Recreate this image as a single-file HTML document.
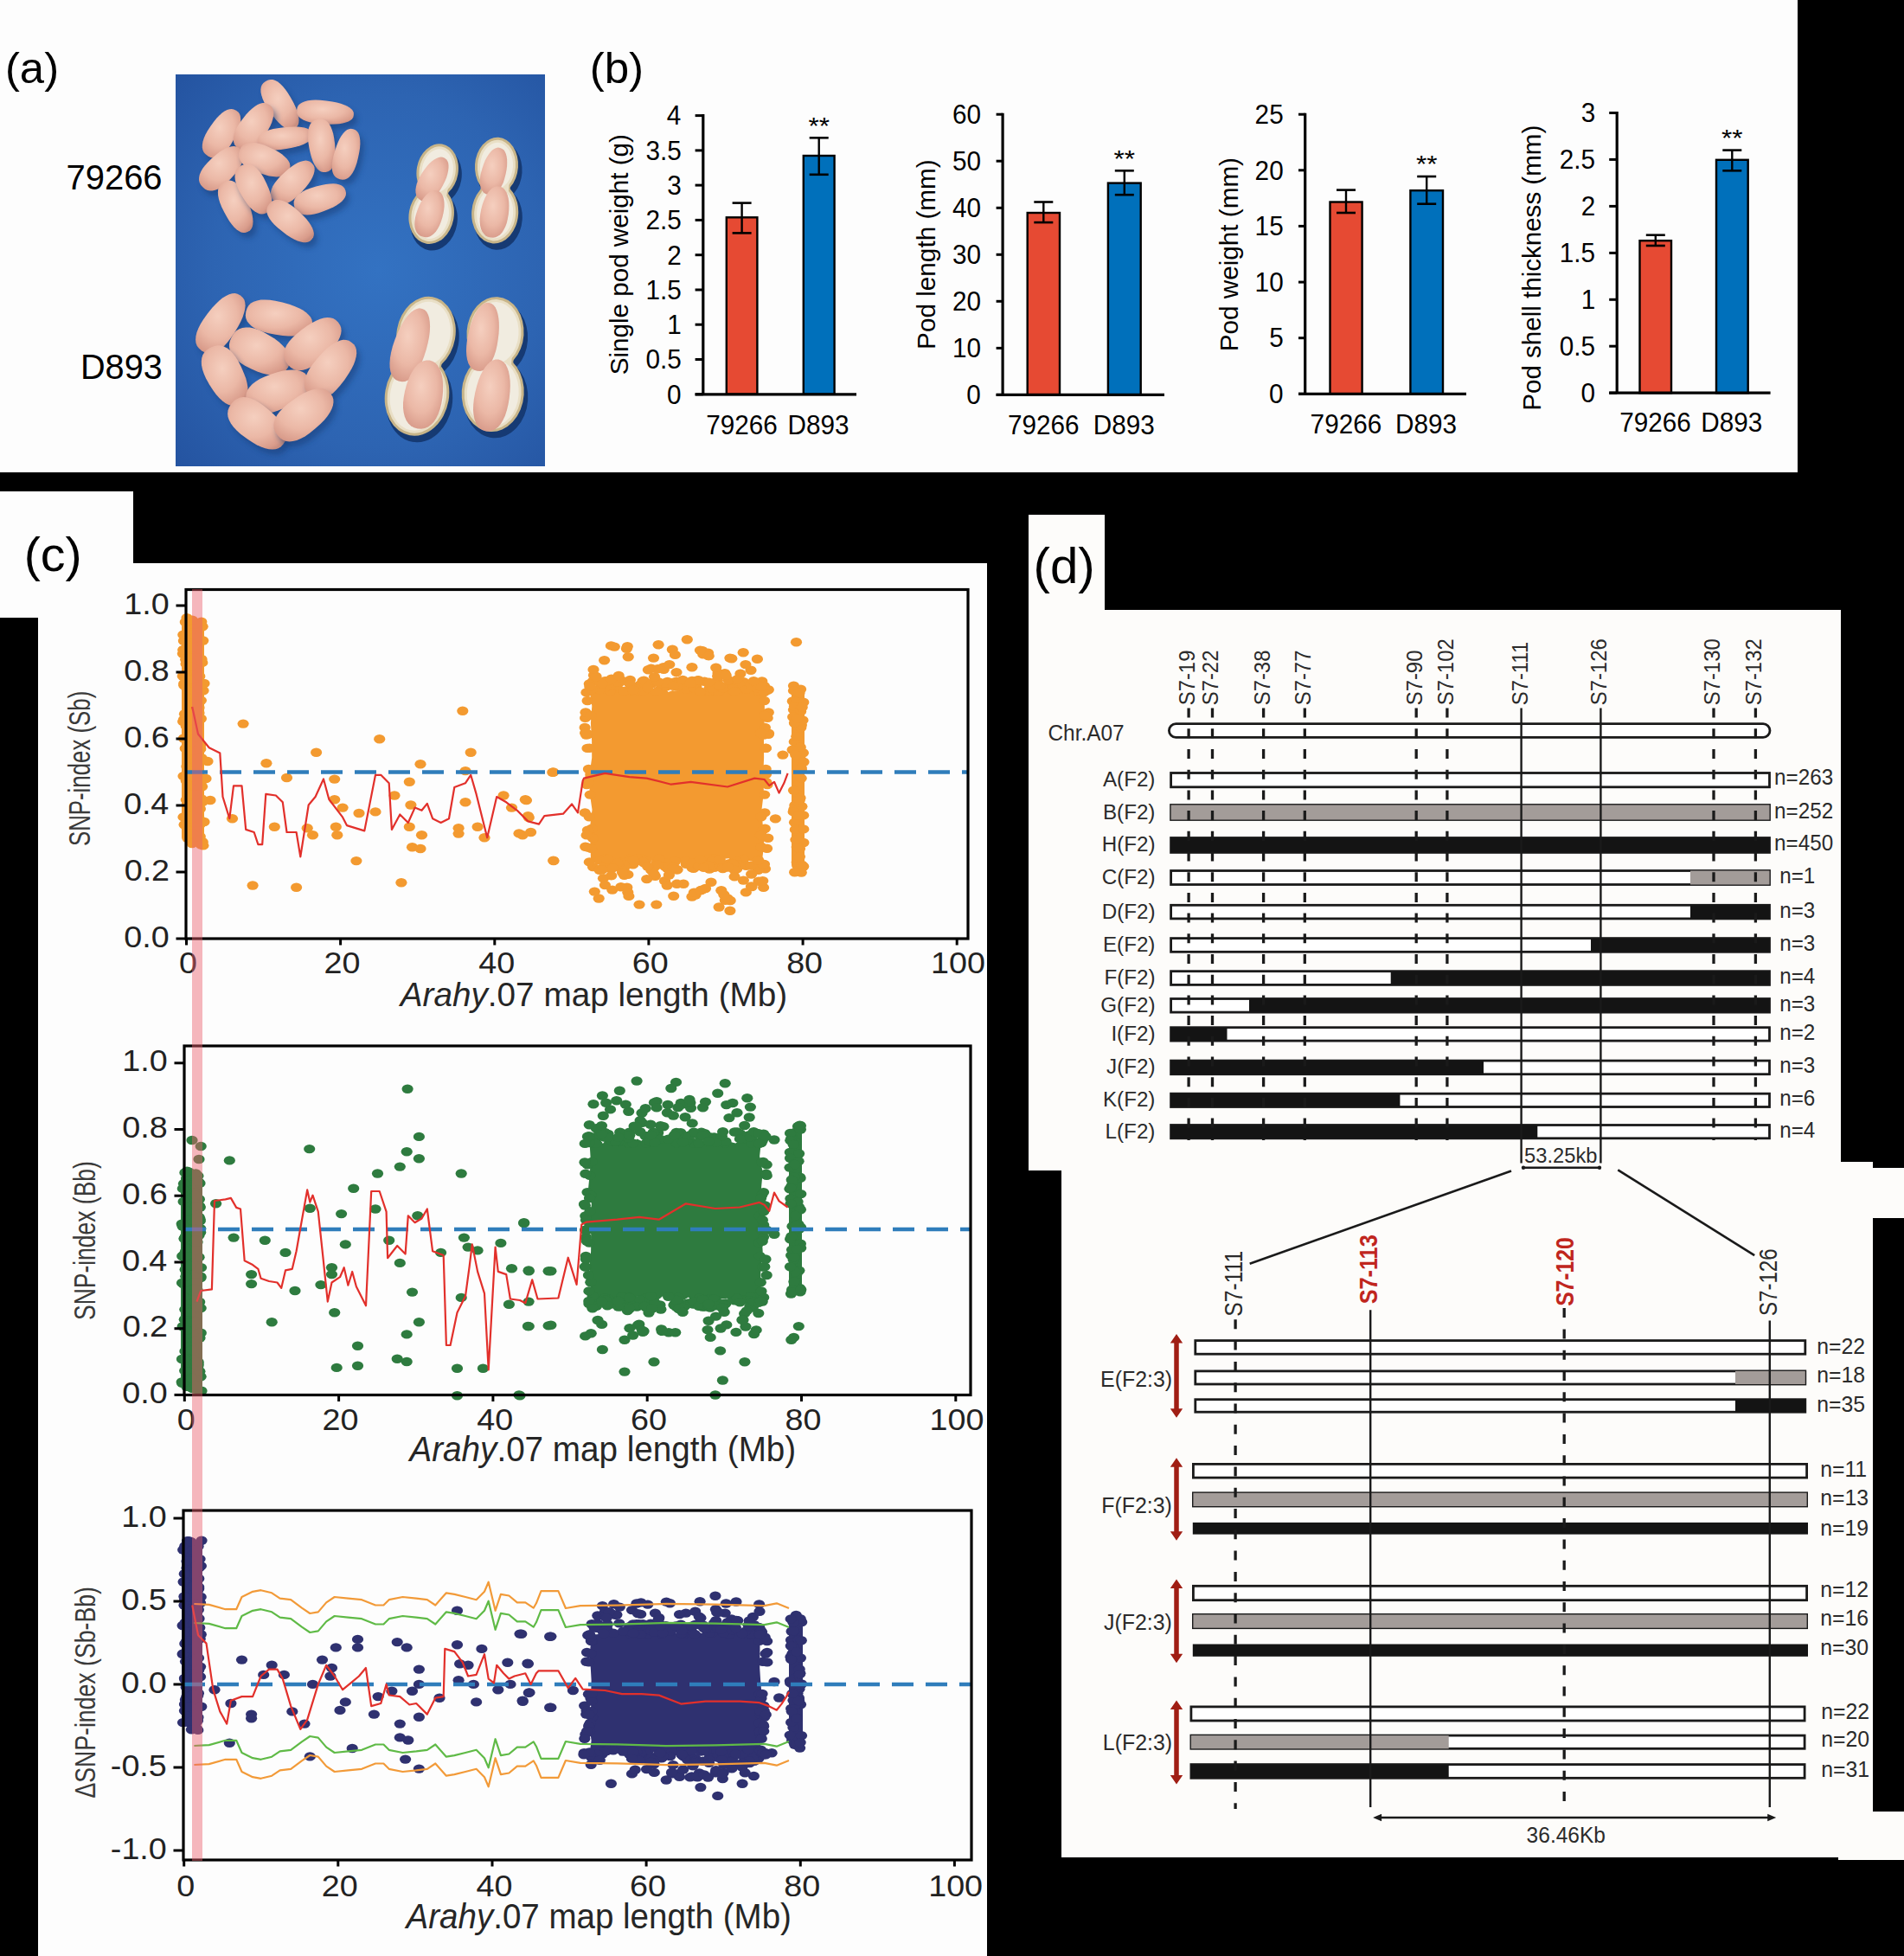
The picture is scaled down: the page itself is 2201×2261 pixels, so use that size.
<!DOCTYPE html>
<html><head><meta charset="utf-8"><style>
html,body{margin:0;padding:0;background:#000;}
svg{display:block;}
text{font-family:"Liberation Sans", sans-serif;}
</style></head><body><svg xmlns="http://www.w3.org/2000/svg" width="2201" height="2261" viewBox="0 0 2201 2261" font-family='"Liberation Sans", sans-serif'><rect x="0" y="0" width="2201" height="2261" fill="#000"/>
<rect x="0" y="0" width="2078" height="546" fill="#fdfdfd"/>
<rect x="0" y="568" width="154" height="146" fill="#fdfdfd"/>
<rect x="44" y="651" width="1097" height="1610" fill="#fdfdfd"/>
<rect x="1189" y="595" width="88" height="110" fill="#fdfcfa"/>
<rect x="1189" y="705" width="939" height="648" fill="#fdfcfa"/>
<rect x="1227" y="1343" width="938" height="804" fill="#fdfcfa"/>
<rect x="2128" y="1350" width="73" height="58" fill="#fdfcfa"/>
<rect x="2125" y="2094" width="76" height="56" fill="#fdfcfa"/>
<defs><radialGradient id="blueg" cx="0.55" cy="0.5" r="0.75"><stop offset="0" stop-color="#3372c2"/><stop offset="0.6" stop-color="#2d64b2"/><stop offset="1" stop-color="#2453a0"/></radialGradient><radialGradient id="kern" cx="0.45" cy="0.38" r="0.7"><stop offset="0" stop-color="#f5cfbf"/><stop offset="0.55" stop-color="#ebb8a6"/><stop offset="0.9" stop-color="#d99c8b"/><stop offset="1" stop-color="#c98e80"/></radialGradient><radialGradient id="shell" cx="0.5" cy="0.5" r="0.6"><stop offset="0" stop-color="#f1ebdc"/><stop offset="0.75" stop-color="#e6dbbf"/><stop offset="1" stop-color="#c9b88e"/></radialGradient><filter id="blur2" x="-20%" y="-20%" width="140%" height="140%"><feGaussianBlur stdDeviation="3"/></filter></defs>
<rect x="203" y="86" width="427" height="453" fill="url(#blueg)"/>
<path d="M345.0,154.1 342.4,155.4 340.0,155.7 337.5,155.3 334.8,154.3 332.0,152.7 329.1,150.5 326.1,147.7 322.9,144.3 319.7,140.3 315.7,134.7 312.0,129.0 309.5,124.4 307.6,120.2 306.3,116.3 305.5,112.8 305.4,109.5 305.8,106.6 306.8,104.1 308.4,101.9 311.0,99.9 314.0,98.4 316.7,97.9 319.4,98.1 322.2,99.0 325.1,100.6 327.9,102.8 330.9,105.7 333.8,109.2 336.8,113.5 340.3,119.3 343.6,125.3 345.8,130.1 347.5,134.4 348.7,138.3 349.4,141.9 349.6,145.1 349.3,148.0 348.5,150.4 347.2,152.4Z" fill="#163a73" opacity="0.5" filter="url(#blur2)"/>
<path d="M341.0,148.1 338.4,149.4 336.0,149.7 333.5,149.3 330.8,148.3 328.0,146.7 325.1,144.5 322.1,141.7 318.9,138.3 315.7,134.3 311.7,128.7 308.0,123.0 305.5,118.4 303.6,114.2 302.3,110.3 301.5,106.8 301.4,103.5 301.8,100.6 302.8,98.1 304.4,95.9 307.0,93.9 310.0,92.4 312.7,91.9 315.4,92.1 318.2,93.0 321.1,94.6 323.9,96.8 326.9,99.7 329.8,103.2 332.8,107.5 336.3,113.3 339.6,119.3 341.8,124.1 343.5,128.4 344.7,132.3 345.4,135.9 345.6,139.1 345.3,142.0 344.5,144.4 343.2,146.4Z" fill="url(#kern)"/>
<path d="M412.9,138.9 412.3,141.5 411.1,143.4 409.3,145.1 406.8,146.5 403.8,147.6 400.2,148.5 396.0,149.2 391.3,149.6 385.9,149.7 378.8,149.4 371.8,148.9 366.5,148.2 361.9,147.2 357.9,146.0 354.4,144.5 351.6,142.8 349.5,140.9 348.0,138.7 347.2,136.2 347.1,133.1 347.7,130.1 348.9,127.8 350.8,125.9 353.3,124.4 356.3,123.2 359.9,122.3 364.1,121.8 368.8,121.6 374.2,121.8 381.2,122.6 388.2,123.5 393.4,124.6 398.0,125.8 402.0,127.2 405.5,128.7 408.3,130.4 410.4,132.2 411.9,134.1 412.8,136.2Z" fill="#163a73" opacity="0.5" filter="url(#blur2)"/>
<path d="M408.9,132.9 408.3,135.5 407.1,137.4 405.3,139.1 402.8,140.5 399.8,141.6 396.2,142.5 392.0,143.2 387.3,143.6 381.9,143.7 374.8,143.4 367.8,142.9 362.5,142.2 357.9,141.2 353.9,140.0 350.4,138.5 347.6,136.8 345.5,134.9 344.0,132.7 343.2,130.2 343.1,127.1 343.7,124.1 344.9,121.8 346.8,119.9 349.3,118.4 352.3,117.2 355.9,116.3 360.1,115.8 364.8,115.6 370.2,115.8 377.2,116.6 384.2,117.5 389.4,118.6 394.0,119.8 398.0,121.2 401.5,122.7 404.3,124.4 406.4,126.2 407.9,128.1 408.8,130.2Z" fill="url(#kern)"/>
<path d="M277.0,133.7 279.4,135.6 280.9,137.6 281.8,140.1 282.2,142.9 282.2,146.1 281.6,149.6 280.6,153.5 279.0,157.8 276.9,162.4 273.7,168.2 270.3,173.9 267.4,178.0 264.5,181.4 261.6,184.1 258.7,186.2 255.8,187.7 253.0,188.4 250.2,188.5 247.4,187.9 244.2,186.3 241.3,184.1 239.5,181.9 238.4,179.3 237.8,176.4 237.9,173.2 238.5,169.6 239.7,165.8 241.4,161.8 243.9,157.3 247.5,151.8 251.3,146.4 254.5,142.5 257.7,139.2 260.7,136.6 263.6,134.5 266.5,133.0 269.2,132.2 271.8,131.9 274.3,132.4Z" fill="#163a73" opacity="0.5" filter="url(#blur2)"/>
<path d="M273.0,127.7 275.4,129.6 276.9,131.6 277.8,134.1 278.2,136.9 278.2,140.1 277.6,143.6 276.6,147.5 275.0,151.8 272.9,156.4 269.7,162.2 266.3,167.9 263.4,172.0 260.5,175.4 257.6,178.1 254.7,180.2 251.8,181.7 249.0,182.4 246.2,182.5 243.4,181.9 240.2,180.3 237.3,178.1 235.5,175.9 234.4,173.3 233.8,170.4 233.9,167.2 234.5,163.6 235.7,159.8 237.4,155.8 239.9,151.3 243.5,145.8 247.3,140.4 250.5,136.5 253.7,133.2 256.7,130.6 259.6,128.5 262.5,127.0 265.2,126.2 267.8,125.9 270.3,126.4Z" fill="url(#kern)"/>
<path d="M315.4,127.2 317.8,129.3 319.2,131.4 320.0,133.9 320.4,136.8 320.2,140.0 319.4,143.6 318.2,147.4 316.5,151.6 314.1,156.1 310.7,161.8 307.0,167.2 303.9,171.2 300.8,174.4 297.7,177.0 294.7,178.9 291.7,180.2 288.7,180.8 285.9,180.7 283.0,179.8 279.8,178.0 277.0,175.6 275.2,173.2 274.2,170.6 273.7,167.6 273.9,164.3 274.6,160.8 276.0,157.1 278.0,153.1 280.6,148.8 284.5,143.4 288.6,138.3 292.1,134.5 295.4,131.5 298.6,129.0 301.7,127.1 304.6,125.8 307.5,125.1 310.1,125.1 312.6,125.7Z" fill="#163a73" opacity="0.5" filter="url(#blur2)"/>
<path d="M311.4,121.2 313.8,123.3 315.2,125.4 316.0,127.9 316.4,130.8 316.2,134.0 315.4,137.6 314.2,141.4 312.5,145.6 310.1,150.1 306.7,155.8 303.0,161.2 299.9,165.2 296.8,168.4 293.7,171.0 290.7,172.9 287.7,174.2 284.7,174.8 281.9,174.7 279.0,173.8 275.8,172.0 273.0,169.6 271.2,167.2 270.2,164.6 269.7,161.6 269.9,158.3 270.6,154.8 272.0,151.1 274.0,147.1 276.6,142.8 280.5,137.4 284.6,132.3 288.1,128.5 291.4,125.5 294.6,123.0 297.7,121.1 300.6,119.8 303.5,119.1 306.1,119.1 308.6,119.7Z" fill="url(#kern)"/>
<path d="M365.1,161.2 365.1,163.7 364.4,165.7 363.0,167.6 361.0,169.4 358.4,171.1 355.1,172.7 351.3,174.2 346.9,175.5 341.8,176.8 335.1,178.1 328.4,179.1 323.2,179.6 318.6,179.7 314.6,179.5 311.0,178.9 308.0,177.9 305.6,176.6 303.7,175.0 302.4,173.0 301.7,170.2 301.6,167.3 302.3,165.0 303.7,162.9 305.6,160.9 308.3,159.2 311.5,157.7 315.3,156.3 319.8,155.1 324.9,154.2 331.7,153.3 338.5,152.7 343.7,152.5 348.3,152.6 352.4,153.0 355.9,153.6 358.9,154.6 361.3,155.7 363.2,157.1 364.4,158.9Z" fill="#163a73" opacity="0.5" filter="url(#blur2)"/>
<path d="M361.1,155.2 361.1,157.7 360.4,159.7 359.0,161.6 357.0,163.4 354.4,165.1 351.1,166.7 347.3,168.2 342.9,169.5 337.8,170.8 331.1,172.1 324.4,173.1 319.2,173.6 314.6,173.7 310.6,173.5 307.0,172.9 304.0,171.9 301.6,170.6 299.7,169.0 298.4,167.0 297.7,164.2 297.6,161.3 298.3,159.0 299.7,156.9 301.6,154.9 304.3,153.2 307.5,151.7 311.3,150.3 315.8,149.1 320.9,148.2 327.7,147.3 334.5,146.7 339.7,146.5 344.3,146.6 348.4,147.0 351.9,147.6 354.9,148.6 357.3,149.7 359.2,151.1 360.4,152.9Z" fill="url(#kern)"/>
<path d="M380.5,205.0 377.6,205.1 375.2,204.5 373.0,203.2 370.9,201.3 369.0,198.8 367.2,195.7 365.5,192.0 364.0,187.8 362.7,182.9 361.3,176.4 360.3,169.9 359.9,164.8 359.9,160.4 360.3,156.4 361.2,153.0 362.4,150.0 364.0,147.6 366.1,145.7 368.5,144.4 371.9,143.6 375.3,143.4 378.1,144.0 380.5,145.3 382.8,147.1 384.8,149.6 386.5,152.7 388.0,156.4 389.3,160.7 390.2,165.7 391.1,172.2 391.6,178.8 391.6,183.9 391.4,188.4 390.8,192.4 389.9,195.8 388.7,198.8 387.3,201.2 385.5,203.0 383.4,204.3Z" fill="#163a73" opacity="0.5" filter="url(#blur2)"/>
<path d="M376.5,199.0 373.6,199.1 371.2,198.5 369.0,197.2 366.9,195.3 365.0,192.8 363.2,189.7 361.5,186.0 360.0,181.8 358.7,176.9 357.3,170.4 356.3,163.9 355.9,158.8 355.9,154.4 356.3,150.4 357.2,147.0 358.4,144.0 360.0,141.6 362.1,139.7 364.5,138.4 367.9,137.6 371.3,137.4 374.1,138.0 376.5,139.3 378.8,141.1 380.8,143.6 382.5,146.7 384.0,150.4 385.3,154.7 386.2,159.7 387.1,166.2 387.6,172.8 387.6,177.9 387.4,182.4 386.8,186.4 385.9,189.8 384.7,192.8 383.3,195.2 381.5,197.0 379.4,198.3Z" fill="url(#kern)"/>
<path d="M412.4,155.2 414.9,156.2 416.7,157.7 418.1,159.6 419.2,162.1 419.9,165.0 420.3,168.5 420.4,172.3 420.1,176.7 419.4,181.5 418.1,187.8 416.6,194.0 415.0,198.7 413.4,202.6 411.5,206.0 409.5,208.8 407.4,211.0 405.1,212.5 402.6,213.5 400.0,213.7 396.8,213.2 393.8,212.0 391.7,210.5 390.0,208.5 388.8,206.0 388.0,203.0 387.7,199.6 387.8,195.8 388.3,191.5 389.3,186.7 391.1,180.6 393.1,174.5 394.9,169.9 396.8,166.0 398.8,162.7 400.9,159.9 403.0,157.7 405.2,156.1 407.4,155.2 409.6,154.8Z" fill="#163a73" opacity="0.5" filter="url(#blur2)"/>
<path d="M408.4,149.2 410.9,150.2 412.7,151.7 414.1,153.6 415.2,156.1 415.9,159.0 416.3,162.5 416.4,166.3 416.1,170.7 415.4,175.5 414.1,181.8 412.6,188.0 411.0,192.7 409.4,196.6 407.5,200.0 405.5,202.8 403.4,205.0 401.1,206.5 398.6,207.5 396.0,207.7 392.8,207.2 389.8,206.0 387.7,204.5 386.0,202.5 384.8,200.0 384.0,197.0 383.7,193.6 383.8,189.8 384.3,185.5 385.3,180.7 387.1,174.6 389.1,168.5 390.9,163.9 392.8,160.0 394.8,156.7 396.9,153.9 399.0,151.7 401.2,150.1 403.4,149.2 405.6,148.8Z" fill="url(#kern)"/>
<path d="M282.1,178.5 284.1,180.9 285.1,183.3 285.5,185.9 285.4,188.8 284.6,191.9 283.3,195.3 281.4,198.9 279.0,202.7 275.9,206.7 271.5,211.7 266.9,216.5 263.1,219.8 259.6,222.5 256.1,224.4 252.8,225.8 249.6,226.5 246.6,226.6 243.8,226.0 241.1,224.7 238.3,222.3 235.9,219.5 234.6,216.8 234.0,214.0 234.1,211.0 234.8,207.8 236.2,204.5 238.1,201.0 240.8,197.5 244.1,193.7 248.9,189.1 253.9,184.7 257.9,181.6 261.7,179.2 265.3,177.3 268.7,176.0 271.8,175.2 274.7,175.1 277.3,175.5 279.7,176.5Z" fill="#163a73" opacity="0.5" filter="url(#blur2)"/>
<path d="M278.1,172.5 280.1,174.9 281.1,177.3 281.5,179.9 281.4,182.8 280.6,185.9 279.3,189.3 277.4,192.9 275.0,196.7 271.9,200.7 267.5,205.7 262.9,210.5 259.1,213.8 255.6,216.5 252.1,218.4 248.8,219.8 245.6,220.5 242.6,220.6 239.8,220.0 237.1,218.7 234.3,216.3 231.9,213.5 230.6,210.8 230.0,208.0 230.1,205.0 230.8,201.8 232.2,198.5 234.1,195.0 236.8,191.5 240.1,187.7 244.9,183.1 249.9,178.7 253.9,175.6 257.7,173.2 261.3,171.3 264.7,170.0 267.8,169.2 270.7,169.1 273.3,169.5 275.7,170.5Z" fill="url(#kern)"/>
<path d="M338.5,202.8 337.1,205.6 335.3,207.5 333.0,208.9 330.3,209.8 327.1,210.3 323.5,210.5 319.5,210.1 315.0,209.4 310.1,208.1 303.8,206.0 297.6,203.7 293.1,201.5 289.2,199.2 286.1,196.8 283.5,194.3 281.6,191.6 280.4,188.9 279.8,186.1 280.0,183.1 281.1,179.6 282.7,176.3 284.7,174.1 287.0,172.4 289.8,171.3 293.0,170.7 296.6,170.7 300.6,171.2 304.9,172.2 309.7,173.8 315.8,176.4 321.8,179.2 326.2,181.8 329.9,184.3 333.0,186.9 335.6,189.5 337.5,192.0 338.8,194.6 339.4,197.2 339.4,199.8Z" fill="#163a73" opacity="0.5" filter="url(#blur2)"/>
<path d="M334.5,196.8 333.1,199.6 331.3,201.5 329.0,202.9 326.3,203.8 323.1,204.3 319.5,204.5 315.5,204.1 311.0,203.4 306.1,202.1 299.8,200.0 293.6,197.7 289.1,195.5 285.2,193.2 282.1,190.8 279.5,188.3 277.6,185.6 276.4,182.9 275.8,180.1 276.0,177.1 277.1,173.6 278.7,170.3 280.7,168.1 283.0,166.4 285.8,165.3 289.0,164.7 292.6,164.7 296.6,165.2 300.9,166.2 305.7,167.8 311.8,170.4 317.8,173.2 322.2,175.8 325.9,178.3 329.0,180.9 331.6,183.5 333.5,186.0 334.8,188.6 335.4,191.2 335.4,193.8Z" fill="url(#kern)"/>
<path d="M364.6,194.7 366.5,197.0 367.4,199.3 367.7,201.8 367.4,204.6 366.6,207.6 365.2,211.0 363.3,214.5 360.8,218.2 357.7,222.2 353.3,227.2 348.7,231.9 344.9,235.3 341.4,238.0 338.0,240.0 334.7,241.4 331.6,242.2 328.7,242.4 326.0,241.9 323.4,240.7 320.8,238.5 318.6,235.9 317.4,233.3 316.9,230.6 317.1,227.7 317.9,224.6 319.3,221.3 321.3,217.9 324.0,214.4 327.4,210.6 332.1,206.0 337.1,201.6 341.1,198.5 344.8,196.0 348.3,194.1 351.7,192.7 354.7,191.9 357.5,191.6 360.0,191.9 362.3,192.8Z" fill="#163a73" opacity="0.5" filter="url(#blur2)"/>
<path d="M360.6,188.7 362.5,191.0 363.4,193.3 363.7,195.8 363.4,198.6 362.6,201.6 361.2,205.0 359.3,208.5 356.8,212.2 353.7,216.2 349.3,221.2 344.7,225.9 340.9,229.3 337.4,232.0 334.0,234.0 330.7,235.4 327.6,236.2 324.7,236.4 322.0,235.9 319.4,234.7 316.8,232.5 314.6,229.9 313.4,227.3 312.9,224.6 313.1,221.7 313.9,218.6 315.3,215.3 317.3,211.9 320.0,208.4 323.4,204.6 328.1,200.0 333.1,195.6 337.1,192.5 340.8,190.0 344.3,188.1 347.7,186.7 350.7,185.9 353.5,185.6 356.0,185.9 358.3,186.8Z" fill="url(#kern)"/>
<path d="M290.3,274.0 287.5,274.9 285.1,275.0 282.6,274.4 280.0,273.1 277.4,271.2 274.7,268.7 272.0,265.5 269.2,261.8 266.5,257.3 263.2,251.3 260.2,245.2 258.3,240.4 256.9,236.0 256.1,232.0 255.9,228.3 256.1,225.0 257.0,222.2 258.3,219.8 260.3,217.8 263.3,216.0 266.5,214.8 269.3,214.6 272.1,215.1 274.8,216.3 277.5,218.2 280.1,220.8 282.7,224.0 285.1,227.8 287.6,232.4 290.4,238.7 292.9,245.0 294.5,250.0 295.6,254.5 296.3,258.6 296.5,262.3 296.3,265.5 295.6,268.3 294.5,270.6 292.9,272.5Z" fill="#163a73" opacity="0.5" filter="url(#blur2)"/>
<path d="M286.3,268.0 283.5,268.9 281.1,269.0 278.6,268.4 276.0,267.1 273.4,265.2 270.7,262.7 268.0,259.5 265.2,255.8 262.5,251.3 259.2,245.3 256.2,239.2 254.3,234.4 252.9,230.0 252.1,226.0 251.9,222.3 252.1,219.0 253.0,216.2 254.3,213.8 256.3,211.8 259.3,210.0 262.5,208.8 265.3,208.6 268.1,209.1 270.8,210.3 273.5,212.2 276.1,214.8 278.7,218.0 281.1,221.8 283.6,226.4 286.4,232.7 288.9,239.0 290.5,244.0 291.6,248.5 292.3,252.6 292.5,256.3 292.3,259.5 291.6,262.3 290.5,264.6 288.9,266.5Z" fill="url(#kern)"/>
<path d="M312.2,252.1 309.2,253.3 306.7,253.6 304.0,253.2 301.3,252.1 298.6,250.5 295.7,248.3 292.8,245.4 289.9,242.0 287.0,237.8 283.5,232.2 280.3,226.4 278.2,221.8 276.7,217.6 275.8,213.7 275.5,210.2 275.7,206.9 276.5,204.0 277.9,201.5 279.9,199.3 283.0,197.3 286.4,195.9 289.4,195.4 292.2,195.7 295.1,196.6 297.9,198.2 300.7,200.5 303.4,203.4 306.1,207.0 308.7,211.3 311.7,217.2 314.4,223.2 316.2,228.0 317.4,232.3 318.2,236.3 318.5,239.9 318.3,243.1 317.6,246.0 316.5,248.3 314.8,250.3Z" fill="#163a73" opacity="0.5" filter="url(#blur2)"/>
<path d="M308.2,246.1 305.2,247.3 302.7,247.6 300.0,247.2 297.3,246.1 294.6,244.5 291.7,242.3 288.8,239.4 285.9,236.0 283.0,231.8 279.5,226.2 276.3,220.4 274.2,215.8 272.7,211.6 271.8,207.7 271.5,204.2 271.7,200.9 272.5,198.0 273.9,195.5 275.9,193.3 279.0,191.3 282.4,189.9 285.4,189.4 288.2,189.7 291.1,190.6 293.9,192.2 296.7,194.5 299.4,197.4 302.1,201.0 304.7,205.3 307.7,211.2 310.4,217.2 312.2,222.0 313.4,226.3 314.2,230.3 314.5,233.9 314.3,237.1 313.6,240.0 312.5,242.3 310.8,244.3Z" fill="url(#kern)"/>
<path d="M403.4,226.2 404.0,229.1 403.8,231.6 402.9,233.9 401.4,236.3 399.3,238.7 396.5,241.0 393.2,243.3 389.3,245.5 384.7,247.6 378.5,250.1 372.3,252.2 367.4,253.5 363.0,254.3 359.1,254.5 355.5,254.3 352.4,253.6 349.7,252.4 347.5,250.8 345.8,248.6 344.4,245.4 343.7,242.0 343.7,239.2 344.5,236.6 346.0,234.1 348.1,231.6 350.9,229.4 354.2,227.3 358.2,225.3 363.0,223.5 369.3,221.5 375.7,219.9 380.7,218.9 385.1,218.4 389.1,218.3 392.7,218.6 395.8,219.2 398.5,220.2 400.6,221.7 402.2,223.5Z" fill="#163a73" opacity="0.5" filter="url(#blur2)"/>
<path d="M399.4,220.2 400.0,223.1 399.8,225.6 398.9,227.9 397.4,230.3 395.3,232.7 392.5,235.0 389.2,237.3 385.3,239.5 380.7,241.6 374.5,244.1 368.3,246.2 363.4,247.5 359.0,248.3 355.1,248.5 351.5,248.3 348.4,247.6 345.7,246.4 343.5,244.8 341.8,242.6 340.4,239.4 339.7,236.0 339.7,233.2 340.5,230.6 342.0,228.1 344.1,225.6 346.9,223.4 350.2,221.3 354.2,219.3 359.0,217.5 365.3,215.5 371.7,213.9 376.7,212.9 381.1,212.4 385.1,212.3 388.7,212.6 391.8,213.2 394.5,214.2 396.6,215.7 398.2,217.5Z" fill="url(#kern)"/>
<path d="M364.4,282.7 362.3,284.7 360.1,285.8 357.5,286.3 354.7,286.2 351.5,285.6 348.0,284.4 344.2,282.8 340.1,280.5 335.7,277.7 330.3,273.6 325.0,269.3 321.2,265.7 318.1,262.3 315.7,259.0 313.9,255.8 312.7,252.7 312.3,249.8 312.5,247.0 313.4,244.4 315.4,241.5 317.9,239.1 320.3,237.7 323.0,237.0 326.0,237.0 329.2,237.6 332.7,238.8 336.3,240.6 340.2,243.0 344.4,246.1 349.5,250.6 354.5,255.3 358.1,259.1 361.0,262.7 363.3,266.2 365.1,269.4 366.2,272.5 366.8,275.3 366.8,277.8 366.1,280.2Z" fill="#163a73" opacity="0.5" filter="url(#blur2)"/>
<path d="M360.4,276.7 358.3,278.7 356.1,279.8 353.5,280.3 350.7,280.2 347.5,279.6 344.0,278.4 340.2,276.8 336.1,274.5 331.7,271.7 326.3,267.6 321.0,263.3 317.2,259.7 314.1,256.3 311.7,253.0 309.9,249.8 308.7,246.7 308.3,243.8 308.5,241.0 309.4,238.4 311.4,235.5 313.9,233.1 316.3,231.7 319.0,231.0 322.0,231.0 325.2,231.6 328.7,232.8 332.3,234.6 336.2,237.0 340.4,240.1 345.5,244.6 350.5,249.3 354.1,253.1 357.0,256.7 359.3,260.2 361.1,263.4 362.2,266.5 362.8,269.3 362.8,271.8 362.1,274.2Z" fill="url(#kern)"/>
<path d="M281.9,347.6 284.7,350.0 286.4,352.6 287.3,355.7 287.6,359.3 287.2,363.2 286.2,367.6 284.6,372.4 282.4,377.6 279.4,383.3 275.1,390.4 270.4,397.3 266.5,402.3 262.6,406.4 258.8,409.6 255.1,412.1 251.4,413.7 247.8,414.6 244.3,414.5 240.9,413.6 237.1,411.4 233.8,408.6 231.7,405.7 230.5,402.5 230.1,398.8 230.4,394.8 231.4,390.4 233.2,385.7 235.7,380.7 239.1,375.3 243.9,368.6 249.1,362.1 253.4,357.4 257.5,353.5 261.5,350.3 265.3,347.9 268.9,346.2 272.3,345.2 275.6,345.1 278.6,345.7Z" fill="#163a73" opacity="0.5" filter="url(#blur2)"/>
<path d="M277.9,341.6 280.7,344.0 282.4,346.6 283.3,349.7 283.6,353.3 283.2,357.2 282.2,361.6 280.6,366.4 278.4,371.6 275.4,377.3 271.1,384.4 266.4,391.3 262.5,396.3 258.6,400.4 254.8,403.6 251.1,406.1 247.4,407.7 243.8,408.6 240.3,408.5 236.9,407.6 233.1,405.4 229.8,402.6 227.7,399.7 226.5,396.5 226.1,392.8 226.4,388.8 227.4,384.4 229.2,379.7 231.7,374.7 235.1,369.3 239.9,362.6 245.1,356.1 249.4,351.4 253.5,347.5 257.5,344.3 261.3,341.9 264.9,340.2 268.3,339.2 271.6,339.1 274.6,339.7Z" fill="url(#kern)"/>
<path d="M364.6,382.3 363.5,385.9 361.7,388.4 359.3,390.5 356.1,392.1 352.3,393.4 347.9,394.2 342.8,394.6 337.2,394.5 330.8,394.0 322.5,392.8 314.4,391.2 308.3,389.5 303.0,387.6 298.5,385.4 294.8,382.9 291.8,380.1 289.7,377.2 288.3,373.9 287.8,370.4 288.4,366.1 289.7,361.9 291.5,358.9 294.0,356.5 297.2,354.7 301.1,353.4 305.5,352.6 310.5,352.4 316.1,352.8 322.3,353.8 330.5,355.6 338.5,357.8 344.5,360.0 349.7,362.2 354.1,364.6 357.9,367.2 360.8,369.9 363.0,372.6 364.5,375.5 365.0,378.6Z" fill="#163a73" opacity="0.5" filter="url(#blur2)"/>
<path d="M360.6,376.3 359.5,379.9 357.7,382.4 355.3,384.5 352.1,386.1 348.3,387.4 343.9,388.2 338.8,388.6 333.2,388.5 326.8,388.0 318.5,386.8 310.4,385.2 304.3,383.5 299.0,381.6 294.5,379.4 290.8,376.9 287.8,374.1 285.7,371.2 284.3,367.9 283.8,364.4 284.4,360.1 285.7,355.9 287.5,352.9 290.0,350.5 293.2,348.7 297.1,347.4 301.5,346.6 306.5,346.4 312.1,346.8 318.3,347.8 326.5,349.6 334.5,351.8 340.5,354.0 345.7,356.2 350.1,358.6 353.9,361.2 356.8,363.9 359.0,366.6 360.5,369.5 361.0,372.6Z" fill="url(#kern)"/>
<path d="M337.2,430.2 334.8,433.8 332.2,436.2 329.2,437.9 325.7,439.0 321.7,439.5 317.3,439.4 312.4,438.7 307.2,437.4 301.4,435.4 294.2,432.2 287.1,428.7 282.0,425.5 277.8,422.2 274.4,418.8 271.8,415.2 270.0,411.6 269.1,407.8 269.0,404.0 269.8,400.1 271.8,395.4 274.5,391.1 277.3,388.3 280.6,386.2 284.2,384.9 288.2,384.4 292.6,384.5 297.4,385.4 302.4,387.1 307.9,389.5 314.8,393.4 321.5,397.6 326.4,401.3 330.4,404.9 333.7,408.5 336.2,412.1 338.1,415.7 339.1,419.2 339.4,422.7 338.9,426.2Z" fill="#163a73" opacity="0.5" filter="url(#blur2)"/>
<path d="M333.2,424.2 330.8,427.8 328.2,430.2 325.2,431.9 321.7,433.0 317.7,433.5 313.3,433.4 308.4,432.7 303.2,431.4 297.4,429.4 290.2,426.2 283.1,422.7 278.0,419.5 273.8,416.2 270.4,412.8 267.8,409.2 266.0,405.6 265.1,401.8 265.0,398.0 265.8,394.1 267.8,389.4 270.5,385.1 273.3,382.3 276.6,380.2 280.2,378.9 284.2,378.4 288.6,378.5 293.4,379.4 298.4,381.1 303.9,383.5 310.8,387.4 317.5,391.6 322.4,395.3 326.4,398.9 329.7,402.5 332.2,406.1 334.1,409.7 335.1,413.2 335.4,416.7 334.9,420.2Z" fill="url(#kern)"/>
<path d="M394.9,378.6 397.2,381.9 398.3,385.0 398.6,388.4 398.1,391.9 396.9,395.8 395.0,399.8 392.3,404.0 389.0,408.4 384.8,413.1 379.0,418.7 372.9,424.0 367.9,427.7 363.2,430.5 358.7,432.5 354.5,433.8 350.4,434.2 346.7,433.9 343.2,432.8 340.0,430.8 336.7,427.4 334.0,423.6 332.6,420.1 332.0,416.5 332.4,412.7 333.5,408.8 335.5,404.8 338.3,400.8 341.8,396.7 346.3,392.4 352.6,387.3 359.2,382.5 364.5,379.2 369.4,376.7 374.0,374.8 378.3,373.6 382.3,373.1 385.9,373.3 389.1,374.1 392.0,375.7Z" fill="#163a73" opacity="0.5" filter="url(#blur2)"/>
<path d="M390.9,372.6 393.2,375.9 394.3,379.0 394.6,382.4 394.1,385.9 392.9,389.8 391.0,393.8 388.3,398.0 385.0,402.4 380.8,407.1 375.0,412.7 368.9,418.0 363.9,421.7 359.2,424.5 354.7,426.5 350.5,427.8 346.4,428.2 342.7,427.9 339.2,426.8 336.0,424.8 332.7,421.4 330.0,417.6 328.6,414.1 328.0,410.5 328.4,406.7 329.5,402.8 331.5,398.8 334.3,394.8 337.8,390.7 342.3,386.4 348.6,381.3 355.2,376.5 360.5,373.2 365.4,370.7 370.0,368.8 374.3,367.6 378.3,367.1 381.9,367.3 385.1,368.1 388.0,369.7Z" fill="url(#kern)"/>
<path d="M281.9,473.2 278.1,474.8 274.7,475.3 271.4,474.9 267.9,473.8 264.5,471.9 260.9,469.3 257.4,466.0 253.8,461.9 250.2,457.1 246.0,450.4 242.1,443.5 239.7,438.0 238.0,432.9 237.0,428.2 236.8,423.9 237.2,419.9 238.4,416.3 240.3,413.2 243.0,410.4 247.1,407.8 251.6,405.9 255.3,405.2 259.0,405.3 262.6,406.4 266.2,408.2 269.7,410.8 273.0,414.3 276.3,418.5 279.5,423.6 283.0,430.6 286.2,437.9 288.3,443.6 289.6,448.8 290.4,453.6 290.6,458.0 290.2,462.0 289.2,465.4 287.6,468.4 285.3,470.9Z" fill="#163a73" opacity="0.5" filter="url(#blur2)"/>
<path d="M277.9,467.2 274.1,468.8 270.7,469.3 267.4,468.9 263.9,467.8 260.5,465.9 256.9,463.3 253.4,460.0 249.8,455.9 246.2,451.1 242.0,444.4 238.1,437.5 235.7,432.0 234.0,426.9 233.0,422.2 232.8,417.9 233.2,413.9 234.4,410.3 236.3,407.2 239.0,404.4 243.1,401.8 247.6,399.9 251.3,399.2 255.0,399.3 258.6,400.4 262.2,402.2 265.7,404.8 269.0,408.3 272.3,412.5 275.5,417.6 279.0,424.6 282.2,431.9 284.3,437.6 285.6,442.8 286.4,447.6 286.6,452.0 286.2,456.0 285.2,459.4 283.6,462.4 281.3,464.9Z" fill="url(#kern)"/>
<path d="M360.5,443.8 361.7,447.7 361.8,451.1 361.1,454.4 359.5,457.7 357.2,461.0 354.2,464.3 350.4,467.6 345.9,470.8 340.5,473.9 333.2,477.5 325.7,480.6 319.8,482.6 314.5,483.8 309.6,484.3 305.2,484.1 301.2,483.3 297.7,481.7 294.7,479.5 292.2,476.6 290.1,472.2 288.6,467.6 288.3,463.8 288.9,460.1 290.4,456.6 292.7,453.2 295.7,450.0 299.6,447.0 304.3,444.1 309.9,441.4 317.4,438.5 325.2,436.0 331.2,434.5 336.7,433.7 341.7,433.4 346.2,433.6 350.1,434.4 353.5,435.7 356.4,437.6 358.6,440.1Z" fill="#163a73" opacity="0.5" filter="url(#blur2)"/>
<path d="M356.5,437.8 357.7,441.7 357.8,445.1 357.1,448.4 355.5,451.7 353.2,455.0 350.2,458.3 346.4,461.6 341.9,464.8 336.5,467.9 329.2,471.5 321.7,474.6 315.8,476.6 310.5,477.8 305.6,478.3 301.2,478.1 297.2,477.3 293.7,475.7 290.7,473.5 288.2,470.6 286.1,466.2 284.6,461.6 284.3,457.8 284.9,454.1 286.4,450.6 288.7,447.2 291.7,444.0 295.6,441.0 300.3,438.1 305.9,435.4 313.4,432.5 321.2,430.0 327.2,428.5 332.7,427.7 337.7,427.4 342.2,427.6 346.1,428.4 349.5,429.7 352.4,431.6 354.6,434.1Z" fill="url(#kern)"/>
<path d="M410.6,401.9 413.5,404.6 415.1,407.4 416.0,410.6 416.2,414.2 415.7,418.2 414.6,422.7 412.8,427.4 410.3,432.5 407.0,438.0 402.4,444.9 397.3,451.5 393.1,456.3 389.1,460.2 385.1,463.2 381.1,465.4 377.3,466.8 373.5,467.4 370.0,467.1 366.5,465.8 362.6,463.3 359.2,460.2 357.2,457.1 356.0,453.7 355.7,449.9 356.1,445.8 357.3,441.5 359.3,436.9 362.0,432.0 365.6,426.8 370.8,420.3 376.4,414.1 381.0,409.6 385.3,406.0 389.5,403.1 393.5,400.9 397.3,399.5 400.8,398.8 404.2,398.9 407.3,399.8Z" fill="#163a73" opacity="0.5" filter="url(#blur2)"/>
<path d="M406.6,395.9 409.5,398.6 411.1,401.4 412.0,404.6 412.2,408.2 411.7,412.2 410.6,416.7 408.8,421.4 406.3,426.5 403.0,432.0 398.4,438.9 393.3,445.5 389.1,450.3 385.1,454.2 381.1,457.2 377.1,459.4 373.3,460.8 369.5,461.4 366.0,461.1 362.5,459.8 358.6,457.3 355.2,454.2 353.2,451.1 352.0,447.7 351.7,443.9 352.1,439.8 353.3,435.5 355.3,430.9 358.0,426.0 361.6,420.8 366.8,414.3 372.4,408.1 377.0,403.6 381.3,400.0 385.5,397.1 389.5,394.9 393.3,393.5 396.8,392.8 400.2,392.9 403.3,393.8Z" fill="url(#kern)"/>
<path d="M331.4,519.4 328.6,522.4 325.7,524.2 322.5,525.2 318.9,525.5 314.8,525.2 310.5,524.2 305.7,522.5 300.7,520.2 295.3,517.1 288.6,512.5 282.1,507.7 277.5,503.6 273.8,499.5 270.9,495.6 268.8,491.6 267.5,487.7 267.1,483.9 267.6,480.3 268.9,476.7 271.6,472.6 274.8,469.0 278.0,466.9 281.5,465.6 285.3,465.1 289.3,465.3 293.7,466.4 298.2,468.2 303.0,470.9 308.1,474.4 314.4,479.5 320.5,484.9 324.8,489.4 328.3,493.7 331.0,497.9 333.0,501.9 334.3,505.7 334.9,509.3 334.7,512.7 333.7,515.9Z" fill="#163a73" opacity="0.5" filter="url(#blur2)"/>
<path d="M327.4,513.4 324.6,516.4 321.7,518.2 318.5,519.2 314.9,519.5 310.8,519.2 306.5,518.2 301.7,516.5 296.7,514.2 291.3,511.1 284.6,506.5 278.1,501.7 273.5,497.6 269.8,493.5 266.9,489.6 264.8,485.6 263.5,481.7 263.1,477.9 263.6,474.3 264.9,470.7 267.6,466.6 270.8,463.0 274.0,460.9 277.5,459.6 281.3,459.1 285.3,459.3 289.7,460.4 294.2,462.2 299.0,464.9 304.1,468.4 310.4,473.5 316.5,478.9 320.8,483.4 324.3,487.7 327.0,491.9 329.0,495.9 330.3,499.7 330.9,503.3 330.7,506.7 329.7,509.9Z" fill="url(#kern)"/>
<path d="M386.1,461.0 388.4,464.5 389.4,467.7 389.5,471.1 388.9,474.8 387.5,478.7 385.4,482.7 382.6,487.0 379.0,491.4 374.5,496.0 368.3,501.5 361.9,506.8 356.6,510.4 351.7,513.1 347.1,515.0 342.6,516.1 338.5,516.5 334.7,516.0 331.2,514.7 328.0,512.6 324.7,509.0 322.0,505.0 320.7,501.3 320.3,497.6 320.8,493.8 322.1,489.8 324.3,485.8 327.3,481.8 331.1,477.7 335.8,473.5 342.5,468.5 349.4,463.8 354.9,460.6 360.1,458.2 364.9,456.4 369.3,455.4 373.4,455.0 377.1,455.2 380.4,456.2 383.3,458.0Z" fill="#163a73" opacity="0.5" filter="url(#blur2)"/>
<path d="M382.1,455.0 384.4,458.5 385.4,461.7 385.5,465.1 384.9,468.8 383.5,472.7 381.4,476.7 378.6,481.0 375.0,485.4 370.5,490.0 364.3,495.5 357.9,500.8 352.6,504.4 347.7,507.1 343.1,509.0 338.6,510.1 334.5,510.5 330.7,510.0 327.2,508.7 324.0,506.6 320.7,503.0 318.0,499.0 316.7,495.3 316.3,491.6 316.8,487.8 318.1,483.8 320.3,479.8 323.3,475.8 327.1,471.7 331.8,467.5 338.5,462.5 345.4,457.8 350.9,454.6 356.1,452.2 360.9,450.4 365.3,449.4 369.4,449.0 373.1,449.2 376.4,450.2 379.3,452.0Z" fill="url(#kern)"/>
<g transform="rotate(10 501 224)"><ellipse cx="505.0" cy="203.1" rx="25.0" ry="32.4" fill="#163a73" /><ellipse cx="507.0" cy="254.6" rx="27.0" ry="34.6" fill="#163a73" /></g>
<g transform="rotate(10 501 224)"><ellipse cx="501.0" cy="197.1" rx="24.0" ry="31.4" fill="#c8b589" /><ellipse cx="503.0" cy="248.6" rx="26.0" ry="33.6" fill="#c8b589" /><rect x="485.2" y="207.2" width="32.6" height="33.6" fill="#c8b589"/><ellipse cx="501.0" cy="197.1" rx="21.0" ry="28.4" fill="#e9dfc6" /><ellipse cx="503.0" cy="248.6" rx="23.0" ry="30.6" fill="#e9dfc6" /><rect x="486.6" y="207.2" width="29.8" height="33.6" fill="#e9dfc6"/><ellipse cx="501.0" cy="197.1" rx="18.0" ry="25.4" fill="#f1ece0" /><ellipse cx="503.0" cy="248.6" rx="20.0" ry="27.6" fill="#f1ece0" /></g>
<path d="M514.0,182.8 515.9,184.2 517.2,186.1 518.1,188.3 518.5,191.0 518.5,194.1 518.1,197.5 517.3,201.2 516.1,205.2 514.4,209.3 512.1,214.0 509.6,218.5 507.1,222.2 504.5,225.4 501.9,228.0 499.1,230.1 496.4,231.6 493.7,232.5 491.1,232.8 488.6,232.4 486.0,231.2 483.7,229.6 482.1,227.6 481.1,225.2 480.5,222.4 480.4,219.3 480.9,215.9 481.8,212.3 483.3,208.5 485.2,204.5 487.9,200.0 490.8,195.7 493.5,192.2 496.3,189.1 499.1,186.6 501.9,184.5 504.6,183.0 507.1,182.0 509.5,181.6 511.8,181.8Z" fill="url(#kern)"/>
<path d="M505.7,220.4 508.0,221.5 509.8,223.0 511.2,225.1 512.4,227.7 513.1,230.8 513.5,234.2 513.6,238.0 513.2,242.2 512.5,246.6 511.3,251.6 509.7,256.6 508.0,260.7 506.1,264.3 504.0,267.4 501.7,270.0 499.2,272.0 496.7,273.4 494.0,274.2 491.3,274.3 488.3,273.6 485.6,272.4 483.5,270.7 481.7,268.6 480.5,265.9 479.7,262.9 479.3,259.4 479.4,255.7 480.0,251.6 481.1,247.3 482.7,242.4 484.7,237.6 486.7,233.5 488.9,230.0 491.2,226.9 493.5,224.4 495.9,222.4 498.3,220.9 500.7,220.1 503.1,219.9Z" fill="url(#kern)"/>
<g transform="rotate(4 572 220)"><ellipse cx="576.0" cy="197.7" rx="26.0" ry="34.0" fill="#163a73" /><ellipse cx="578.0" cy="252.0" rx="28.0" ry="36.4" fill="#163a73" /></g>
<g transform="rotate(4 572 220)"><ellipse cx="572.0" cy="191.7" rx="25.0" ry="33.0" fill="#c8b589" /><ellipse cx="574.0" cy="246.0" rx="27.0" ry="35.4" fill="#c8b589" /><rect x="555.5" y="202.3" width="34.0" height="35.4" fill="#c8b589"/><ellipse cx="572.0" cy="191.7" rx="22.0" ry="30.0" fill="#e9dfc6" /><ellipse cx="574.0" cy="246.0" rx="24.0" ry="32.4" fill="#e9dfc6" /><rect x="557.0" y="202.3" width="31.0" height="35.4" fill="#e9dfc6"/><ellipse cx="572.0" cy="191.7" rx="19.0" ry="27.0" fill="#f1ece0" /><ellipse cx="574.0" cy="246.0" rx="21.0" ry="29.4" fill="#f1ece0" /></g>
<path d="M578.2,171.0 580.5,171.9 582.2,173.3 583.6,175.3 584.8,177.8 585.6,180.8 586.1,184.2 586.2,187.9 586.1,192.1 585.5,196.5 584.5,201.6 583.2,206.6 581.8,210.9 580.1,214.6 578.2,217.8 576.2,220.5 573.9,222.7 571.5,224.2 569.1,225.2 566.5,225.5 563.8,225.0 561.1,224.0 559.1,222.5 557.4,220.5 556.1,217.9 555.3,214.9 554.8,211.5 554.8,207.8 555.2,203.7 556.1,199.4 557.5,194.4 559.2,189.5 560.9,185.3 562.8,181.7 564.9,178.5 567.0,175.8 569.2,173.6 571.4,172.0 573.6,171.0 575.9,170.6Z" fill="url(#kern)"/>
<path d="M577.2,215.5 579.8,216.3 582.0,217.7 583.8,219.7 585.4,222.2 586.6,225.3 587.6,229.0 588.2,233.0 588.4,237.4 588.3,242.2 587.8,247.8 586.8,253.3 585.7,257.9 584.2,262.0 582.4,265.6 580.4,268.7 578.1,271.2 575.5,273.1 572.9,274.3 570.0,274.8 566.8,274.5 563.7,273.7 561.2,272.2 559.1,270.1 557.3,267.5 556.0,264.4 555.1,260.8 554.7,256.8 554.7,252.4 555.2,247.7 556.2,242.2 557.6,236.8 559.2,232.3 560.9,228.2 562.9,224.6 565.0,221.5 567.2,219.0 569.6,217.1 572.0,215.9 574.5,215.3Z" fill="url(#kern)"/>
<g transform="rotate(10 486 423)"><ellipse cx="490.0" cy="391.6" rx="35.0" ry="44.7" fill="#163a73" /><ellipse cx="492.0" cy="463.3" rx="38.0" ry="47.8" fill="#163a73" /></g>
<g transform="rotate(10 486 423)"><ellipse cx="486.0" cy="385.6" rx="34.0" ry="43.7" fill="#c8b589" /><ellipse cx="488.0" cy="457.3" rx="37.0" ry="46.8" fill="#c8b589" /><rect x="463.6" y="399.6" width="46.2" height="46.8" fill="#c8b589"/><ellipse cx="486.0" cy="385.6" rx="31.0" ry="40.7" fill="#e9dfc6" /><ellipse cx="488.0" cy="457.3" rx="34.0" ry="43.8" fill="#e9dfc6" /><rect x="465.6" y="399.6" width="42.2" height="46.8" fill="#e9dfc6"/><ellipse cx="486.0" cy="385.6" rx="28.0" ry="37.7" fill="#f1ece0" /><ellipse cx="488.0" cy="457.3" rx="31.0" ry="40.8" fill="#f1ece0" /></g>
<path d="M488.1,356.9 491.0,358.3 493.2,360.6 494.9,363.7 496.1,367.6 496.8,372.2 497.1,377.5 496.8,383.4 496.0,389.8 494.6,396.7 492.6,404.6 490.1,412.3 487.6,418.9 484.8,424.6 481.8,429.6 478.5,433.8 475.2,437.1 471.7,439.4 468.2,440.9 464.7,441.3 460.9,440.5 457.4,438.9 454.8,436.5 452.8,433.3 451.4,429.4 450.6,424.7 450.5,419.4 451.0,413.6 452.1,407.3 453.8,400.6 456.4,392.8 459.4,385.2 462.4,378.9 465.5,373.2 468.7,368.3 472.0,364.1 475.3,360.8 478.6,358.4 481.8,356.9 484.9,356.3Z" fill="url(#kern)"/>
<path d="M496.6,416.6 500.3,417.7 503.2,419.6 505.8,422.3 507.9,425.7 509.7,429.9 511.0,434.7 511.8,440.1 512.2,446.0 512.1,452.4 511.4,459.8 510.2,467.1 508.6,473.3 506.6,478.8 504.2,483.6 501.4,487.7 498.2,491.0 494.8,493.5 491.1,495.0 487.2,495.7 482.8,495.4 478.5,494.2 475.0,492.2 472.1,489.5 469.7,486.0 467.9,481.8 466.7,477.0 466.0,471.6 466.0,465.8 466.7,459.5 468.0,452.2 469.9,445.0 472.0,438.9 474.3,433.5 477.0,428.7 479.9,424.6 482.9,421.3 486.1,418.8 489.5,417.2 492.9,416.4Z" fill="url(#kern)"/>
<g transform="rotate(4 570 421)"><ellipse cx="574.0" cy="391.0" rx="34.0" ry="43.0" fill="#163a73" /><ellipse cx="576.0" cy="460.0" rx="37.0" ry="46.0" fill="#163a73" /></g>
<g transform="rotate(4 570 421)"><ellipse cx="570.0" cy="385.0" rx="33.0" ry="42.0" fill="#c8b589" /><ellipse cx="572.0" cy="454.0" rx="36.0" ry="45.0" fill="#c8b589" /><rect x="548.2" y="398.5" width="44.9" height="45.0" fill="#c8b589"/><ellipse cx="570.0" cy="385.0" rx="30.0" ry="39.0" fill="#e9dfc6" /><ellipse cx="572.0" cy="454.0" rx="33.0" ry="42.0" fill="#e9dfc6" /><rect x="550.2" y="398.5" width="40.9" height="45.0" fill="#e9dfc6"/><ellipse cx="570.0" cy="385.0" rx="27.0" ry="36.0" fill="#f1ece0" /><ellipse cx="572.0" cy="454.0" rx="30.0" ry="39.0" fill="#f1ece0" /></g>
<path d="M565.4,350.0 568.3,351.0 570.6,352.7 572.6,355.3 574.2,358.7 575.4,362.7 576.3,367.5 576.8,372.8 576.9,378.7 576.6,385.1 575.7,392.4 574.5,399.7 573.0,405.9 571.2,411.5 569.1,416.3 566.7,420.5 564.1,423.9 561.3,426.5 558.2,428.2 555.1,429.0 551.6,428.8 548.2,427.7 545.5,425.9 543.2,423.3 541.4,419.9 540.1,415.8 539.3,411.1 539.0,405.8 539.2,400.0 539.9,393.6 541.3,386.4 543.0,379.1 544.9,373.0 547.0,367.6 549.3,362.7 551.7,358.6 554.3,355.2 557.0,352.6 559.7,350.8 562.4,349.9Z" fill="url(#kern)"/>
<path d="M576.3,415.6 579.6,416.7 582.2,418.6 584.5,421.3 586.4,424.9 587.9,429.2 588.9,434.2 589.6,439.8 589.8,446.0 589.5,452.7 588.7,460.5 587.4,468.1 585.8,474.6 583.9,480.4 581.5,485.5 578.9,489.9 575.9,493.4 572.7,496.1 569.3,497.8 565.7,498.6 561.7,498.4 557.9,497.2 554.7,495.2 552.1,492.4 550.0,488.8 548.5,484.5 547.5,479.5 547.0,473.9 547.2,467.8 547.9,461.2 549.3,453.5 551.2,446.0 553.2,439.6 555.5,433.8 558.1,428.8 560.8,424.4 563.7,420.9 566.7,418.2 569.7,416.4 572.9,415.5Z" fill="url(#kern)"/>
<text x="0" y="0" font-size="100" font-weight="normal" font-style="normal" fill="#000" transform="translate(5.95 96.44) scale(0.50818 0.49787)" >(a)</text>
<text x="0" y="0" font-size="100" font-weight="normal" font-style="normal" fill="#000" transform="translate(681.63 96.47) scale(0.51091 0.49681)" >(b)</text>
<text x="0" y="0" font-size="100" font-weight="normal" font-style="normal" fill="#000" transform="translate(76.50 218.79) scale(0.39963 0.40845)" >79266</text>
<text x="0" y="0" font-size="100" font-weight="normal" font-style="normal" fill="#000" transform="translate(92.92 438.40) scale(0.39692 0.40000)" >D893</text>
<line x1="803.6" y1="455.8" x2="812.8" y2="455.8" stroke="#000" stroke-width="3"/>
<text x="0" y="0" font-size="100" font-weight="normal" font-style="normal" fill="#000" transform="translate(771.06 466.50) scale(0.29700 0.31000)" >0</text>
<line x1="803.6" y1="415.5" x2="812.8" y2="415.5" stroke="#000" stroke-width="3"/>
<text x="0" y="0" font-size="100" font-weight="normal" font-style="normal" fill="#000" transform="translate(746.40 426.22) scale(0.29700 0.31000)" >0.5</text>
<line x1="803.6" y1="375.2" x2="812.8" y2="375.2" stroke="#000" stroke-width="3"/>
<text x="0" y="0" font-size="100" font-weight="normal" font-style="normal" fill="#000" transform="translate(771.35 385.94) scale(0.29700 0.31000)" >1</text>
<line x1="803.6" y1="335.0" x2="812.8" y2="335.0" stroke="#000" stroke-width="3"/>
<text x="0" y="0" font-size="100" font-weight="normal" font-style="normal" fill="#000" transform="translate(746.40 345.52) scale(0.29700 0.31000)" >1.5</text>
<line x1="803.6" y1="294.7" x2="812.8" y2="294.7" stroke="#000" stroke-width="3"/>
<text x="0" y="0" font-size="100" font-weight="normal" font-style="normal" fill="#000" transform="translate(771.35 305.55) scale(0.29700 0.31000)" >2</text>
<line x1="803.6" y1="254.4" x2="812.8" y2="254.4" stroke="#000" stroke-width="3"/>
<text x="0" y="0" font-size="100" font-weight="normal" font-style="normal" fill="#000" transform="translate(746.40 265.12) scale(0.29700 0.31000)" >2.5</text>
<line x1="803.6" y1="214.1" x2="812.8" y2="214.1" stroke="#000" stroke-width="3"/>
<text x="0" y="0" font-size="100" font-weight="normal" font-style="normal" fill="#000" transform="translate(771.35 224.84) scale(0.29700 0.31000)" >3</text>
<line x1="803.6" y1="173.9" x2="812.8" y2="173.9" stroke="#000" stroke-width="3"/>
<text x="0" y="0" font-size="100" font-weight="normal" font-style="normal" fill="#000" transform="translate(746.40 184.57) scale(0.29700 0.31000)" >3.5</text>
<line x1="803.6" y1="133.6" x2="812.8" y2="133.6" stroke="#000" stroke-width="3"/>
<text x="0" y="0" font-size="100" font-weight="normal" font-style="normal" fill="#000" transform="translate(770.76 144.45) scale(0.29700 0.31000)" >4</text>
<rect x="839.8" y="251.3" width="35.6" height="204.5" fill="#e64a33" stroke="#000" stroke-width="2.4"/>
<line x1="857.6" y1="234.6" x2="857.6" y2="269.4" stroke="#000" stroke-width="2.4"/>
<line x1="846.6" y1="234.6" x2="868.6" y2="234.6" stroke="#000" stroke-width="2.6"/>
<line x1="846.6" y1="269.4" x2="868.6" y2="269.4" stroke="#000" stroke-width="2.6"/>
<rect x="928.8" y="180.0" width="35.8" height="275.8" fill="#0070bb" stroke="#000" stroke-width="2.4"/>
<line x1="946.7" y1="159.3" x2="946.7" y2="201.8" stroke="#000" stroke-width="2.4"/>
<line x1="935.7" y1="159.3" x2="957.7" y2="159.3" stroke="#000" stroke-width="2.6"/>
<line x1="935.7" y1="201.8" x2="957.7" y2="201.8" stroke="#000" stroke-width="2.6"/>
<line x1="812.8" y1="132.1" x2="812.8" y2="455.8" stroke="#000" stroke-width="3.2"/>
<line x1="803.6" y1="455.8" x2="990.0" y2="455.8" stroke="#000" stroke-width="3.2"/>
<text x="0" y="0" font-size="100" font-weight="normal" font-style="normal" fill="#000" transform="translate(934.42 154.57) scale(0.31486 0.27714)" >**</text>
<text x="0" y="0" font-size="100" font-weight="normal" font-style="normal" fill="#000" transform="translate(816.17 501.50) scale(0.29700 0.31000)" >79266</text>
<text x="0" y="0" font-size="100" font-weight="normal" font-style="normal" fill="#000" transform="translate(910.61 501.50) scale(0.29700 0.31000)" >D893</text>
<text x="0" y="0" font-size="100" font-weight="normal" font-style="normal" fill="#000" transform="translate(725.89 433.28) rotate(-90) scale(0.29623 0.29574)" >Single pod weight (g)</text>
<line x1="1151.6" y1="456.4" x2="1159.1" y2="456.4" stroke="#000" stroke-width="3"/>
<text x="0" y="0" font-size="100" font-weight="normal" font-style="normal" fill="#000" transform="translate(1117.36 467.09) scale(0.29700 0.31000)" >0</text>
<line x1="1151.6" y1="402.4" x2="1159.1" y2="402.4" stroke="#000" stroke-width="3"/>
<text x="0" y="0" font-size="100" font-weight="normal" font-style="normal" fill="#000" transform="translate(1101.02 413.06) scale(0.29700 0.31000)" >10</text>
<line x1="1151.6" y1="348.3" x2="1159.1" y2="348.3" stroke="#000" stroke-width="3"/>
<text x="0" y="0" font-size="100" font-weight="normal" font-style="normal" fill="#000" transform="translate(1101.02 359.03) scale(0.29700 0.31000)" >20</text>
<line x1="1151.6" y1="294.3" x2="1159.1" y2="294.3" stroke="#000" stroke-width="3"/>
<text x="0" y="0" font-size="100" font-weight="normal" font-style="normal" fill="#000" transform="translate(1101.02 304.99) scale(0.29700 0.31000)" >30</text>
<line x1="1151.6" y1="240.3" x2="1159.1" y2="240.3" stroke="#000" stroke-width="3"/>
<text x="0" y="0" font-size="100" font-weight="normal" font-style="normal" fill="#000" transform="translate(1101.02 250.96) scale(0.29700 0.31000)" >40</text>
<line x1="1151.6" y1="186.2" x2="1159.1" y2="186.2" stroke="#000" stroke-width="3"/>
<text x="0" y="0" font-size="100" font-weight="normal" font-style="normal" fill="#000" transform="translate(1101.02 196.93) scale(0.29700 0.31000)" >50</text>
<line x1="1151.6" y1="132.2" x2="1159.1" y2="132.2" stroke="#000" stroke-width="3"/>
<text x="0" y="0" font-size="100" font-weight="normal" font-style="normal" fill="#000" transform="translate(1101.02 142.89) scale(0.29700 0.31000)" >60</text>
<rect x="1187.7" y="246.0" width="37.3" height="210.4" fill="#e64a33" stroke="#000" stroke-width="2.4"/>
<line x1="1206.3" y1="233.5" x2="1206.3" y2="257.1" stroke="#000" stroke-width="2.4"/>
<line x1="1195.3" y1="233.5" x2="1217.3" y2="233.5" stroke="#000" stroke-width="2.6"/>
<line x1="1195.3" y1="257.1" x2="1217.3" y2="257.1" stroke="#000" stroke-width="2.6"/>
<rect x="1280.9" y="211.6" width="37.8" height="244.8" fill="#0070bb" stroke="#000" stroke-width="2.4"/>
<line x1="1299.8" y1="197.3" x2="1299.8" y2="225.2" stroke="#000" stroke-width="2.4"/>
<line x1="1288.8" y1="197.3" x2="1310.8" y2="197.3" stroke="#000" stroke-width="2.6"/>
<line x1="1288.8" y1="225.2" x2="1310.8" y2="225.2" stroke="#000" stroke-width="2.6"/>
<line x1="1159.1" y1="130.7" x2="1159.1" y2="456.4" stroke="#000" stroke-width="3.2"/>
<line x1="1151.6" y1="456.4" x2="1346.0" y2="456.4" stroke="#000" stroke-width="3.2"/>
<text x="0" y="0" font-size="100" font-weight="normal" font-style="normal" fill="#000" transform="translate(1287.52 192.57) scale(0.31486 0.27714)" >**</text>
<text x="0" y="0" font-size="100" font-weight="normal" font-style="normal" fill="#000" transform="translate(1164.92 502.10) scale(0.29700 0.31000)" >79266</text>
<text x="0" y="0" font-size="100" font-weight="normal" font-style="normal" fill="#000" transform="translate(1263.71 502.10) scale(0.29700 0.31000)" >D893</text>
<text x="0" y="0" font-size="100" font-weight="normal" font-style="normal" fill="#000" transform="translate(1080.92 403.88) rotate(-90) scale(0.29710 0.29894)" >Pod length (mm)</text>
<line x1="1501" y1="455.3" x2="1508.7" y2="455.3" stroke="#000" stroke-width="3"/>
<text x="0" y="0" font-size="100" font-weight="normal" font-style="normal" fill="#000" transform="translate(1466.96 466.00) scale(0.29700 0.31000)" >0</text>
<line x1="1501" y1="390.7" x2="1508.7" y2="390.7" stroke="#000" stroke-width="3"/>
<text x="0" y="0" font-size="100" font-weight="normal" font-style="normal" fill="#000" transform="translate(1467.25 401.22) scale(0.29700 0.31000)" >5</text>
<line x1="1501" y1="326.1" x2="1508.7" y2="326.1" stroke="#000" stroke-width="3"/>
<text x="0" y="0" font-size="100" font-weight="normal" font-style="normal" fill="#000" transform="translate(1450.62 336.75) scale(0.29700 0.31000)" >10</text>
<line x1="1501" y1="261.4" x2="1508.7" y2="261.4" stroke="#000" stroke-width="3"/>
<text x="0" y="0" font-size="100" font-weight="normal" font-style="normal" fill="#000" transform="translate(1450.62 271.98) scale(0.29700 0.31000)" >15</text>
<line x1="1501" y1="196.8" x2="1508.7" y2="196.8" stroke="#000" stroke-width="3"/>
<text x="0" y="0" font-size="100" font-weight="normal" font-style="normal" fill="#000" transform="translate(1450.62 207.51) scale(0.29700 0.31000)" >20</text>
<line x1="1501" y1="132.2" x2="1508.7" y2="132.2" stroke="#000" stroke-width="3"/>
<text x="0" y="0" font-size="100" font-weight="normal" font-style="normal" fill="#000" transform="translate(1450.62 142.89) scale(0.29700 0.31000)" >25</text>
<rect x="1537.5" y="233.5" width="37.1" height="221.8" fill="#e64a33" stroke="#000" stroke-width="2.4"/>
<line x1="1556.0" y1="219.6" x2="1556.0" y2="246.0" stroke="#000" stroke-width="2.4"/>
<line x1="1545.0" y1="219.6" x2="1567.0" y2="219.6" stroke="#000" stroke-width="2.6"/>
<line x1="1545.0" y1="246.0" x2="1567.0" y2="246.0" stroke="#000" stroke-width="2.6"/>
<rect x="1630.4" y="220.2" width="37.6" height="235.1" fill="#0070bb" stroke="#000" stroke-width="2.4"/>
<line x1="1649.2" y1="204.0" x2="1649.2" y2="235.7" stroke="#000" stroke-width="2.4"/>
<line x1="1638.2" y1="204.0" x2="1660.2" y2="204.0" stroke="#000" stroke-width="2.6"/>
<line x1="1638.2" y1="235.7" x2="1660.2" y2="235.7" stroke="#000" stroke-width="2.6"/>
<line x1="1508.7" y1="130.7" x2="1508.7" y2="455.3" stroke="#000" stroke-width="3.2"/>
<line x1="1501.0" y1="455.3" x2="1695.0" y2="455.3" stroke="#000" stroke-width="3.2"/>
<text x="0" y="0" font-size="100" font-weight="normal" font-style="normal" fill="#000" transform="translate(1636.92 199.27) scale(0.31486 0.27714)" >**</text>
<text x="0" y="0" font-size="100" font-weight="normal" font-style="normal" fill="#000" transform="translate(1514.62 501.00) scale(0.29700 0.31000)" >79266</text>
<text x="0" y="0" font-size="100" font-weight="normal" font-style="normal" fill="#000" transform="translate(1613.11 501.00) scale(0.29700 0.31000)" >D893</text>
<text x="0" y="0" font-size="100" font-weight="normal" font-style="normal" fill="#000" transform="translate(1430.69 406.17) rotate(-90) scale(0.29677 0.29574)" >Pod weight (mm)</text>
<line x1="1860.2" y1="454.2" x2="1869.2" y2="454.2" stroke="#000" stroke-width="3"/>
<text x="0" y="0" font-size="100" font-weight="normal" font-style="normal" fill="#000" transform="translate(1827.46 464.89) scale(0.29700 0.31000)" >0</text>
<line x1="1860.2" y1="400.2" x2="1869.2" y2="400.2" stroke="#000" stroke-width="3"/>
<text x="0" y="0" font-size="100" font-weight="normal" font-style="normal" fill="#000" transform="translate(1802.81 410.94) scale(0.29700 0.31000)" >0.5</text>
<line x1="1860.2" y1="346.3" x2="1869.2" y2="346.3" stroke="#000" stroke-width="3"/>
<text x="0" y="0" font-size="100" font-weight="normal" font-style="normal" fill="#000" transform="translate(1827.75 357.00) scale(0.29700 0.31000)" >1</text>
<line x1="1860.2" y1="292.4" x2="1869.2" y2="292.4" stroke="#000" stroke-width="3"/>
<text x="0" y="0" font-size="100" font-weight="normal" font-style="normal" fill="#000" transform="translate(1802.81 302.89) scale(0.29700 0.31000)" >1.5</text>
<line x1="1860.2" y1="238.4" x2="1869.2" y2="238.4" stroke="#000" stroke-width="3"/>
<text x="0" y="0" font-size="100" font-weight="normal" font-style="normal" fill="#000" transform="translate(1827.75 249.25) scale(0.29700 0.31000)" >2</text>
<line x1="1860.2" y1="184.4" x2="1869.2" y2="184.4" stroke="#000" stroke-width="3"/>
<text x="0" y="0" font-size="100" font-weight="normal" font-style="normal" fill="#000" transform="translate(1802.81 195.14) scale(0.29700 0.31000)" >2.5</text>
<line x1="1860.2" y1="130.5" x2="1869.2" y2="130.5" stroke="#000" stroke-width="3"/>
<text x="0" y="0" font-size="100" font-weight="normal" font-style="normal" fill="#000" transform="translate(1827.75 141.19) scale(0.29700 0.31000)" >3</text>
<rect x="1895.5" y="278.2" width="36.5" height="176.0" fill="#e64a33" stroke="#000" stroke-width="2.4"/>
<line x1="1913.8" y1="271.7" x2="1913.8" y2="284.0" stroke="#000" stroke-width="2.4"/>
<line x1="1902.8" y1="271.7" x2="1924.8" y2="271.7" stroke="#000" stroke-width="2.6"/>
<line x1="1902.8" y1="284.0" x2="1924.8" y2="284.0" stroke="#000" stroke-width="2.6"/>
<rect x="1984.0" y="184.8" width="36.7" height="269.4" fill="#0070bb" stroke="#000" stroke-width="2.4"/>
<line x1="2002.3" y1="173.6" x2="2002.3" y2="197.3" stroke="#000" stroke-width="2.4"/>
<line x1="1991.3" y1="173.6" x2="2013.3" y2="173.6" stroke="#000" stroke-width="2.6"/>
<line x1="1991.3" y1="197.3" x2="2013.3" y2="197.3" stroke="#000" stroke-width="2.6"/>
<line x1="1869.2" y1="129.0" x2="1869.2" y2="454.2" stroke="#000" stroke-width="3.2"/>
<line x1="1860.2" y1="454.2" x2="2046.6" y2="454.2" stroke="#000" stroke-width="3.2"/>
<text x="0" y="0" font-size="100" font-weight="normal" font-style="normal" fill="#000" transform="translate(1990.07 168.87) scale(0.31486 0.27714)" >**</text>
<text x="0" y="0" font-size="100" font-weight="normal" font-style="normal" fill="#000" transform="translate(1872.32 498.50) scale(0.29700 0.31000)" >79266</text>
<text x="0" y="0" font-size="100" font-weight="normal" font-style="normal" fill="#000" transform="translate(1966.26 498.50) scale(0.29700 0.31000)" >D893</text>
<text x="0" y="0" font-size="100" font-weight="normal" font-style="normal" fill="#000" transform="translate(1781.47 474.76) rotate(-90) scale(0.29556 0.29681)" >Pod shell thickness (mm)</text>
<text x="0" y="0" font-size="100" font-weight="normal" font-style="normal" fill="#000" transform="translate(27.65 660.17) scale(0.57500 0.55851)" >(c)</text>
<rect x="210.0" y="718.0" width="26.0" height="256.0" rx="6" fill="#f39a30"/>
<ellipse cx="224.4" cy="833.4" rx="6.6" ry="5.2" fill="#f39a30"/><ellipse cx="222.2" cy="958.0" rx="6.6" ry="5.2" fill="#f39a30"/><ellipse cx="225.1" cy="848.1" rx="6.6" ry="5.2" fill="#f39a30"/><ellipse cx="223.3" cy="762.8" rx="6.6" ry="5.2" fill="#f39a30"/><ellipse cx="230.0" cy="880.3" rx="6.6" ry="5.2" fill="#f39a30"/><ellipse cx="218.3" cy="738.8" rx="6.6" ry="5.2" fill="#f39a30"/><ellipse cx="230.4" cy="737.9" rx="6.6" ry="5.2" fill="#f39a30"/><ellipse cx="212.0" cy="897.1" rx="6.6" ry="5.2" fill="#f39a30"/><ellipse cx="234.2" cy="973.3" rx="6.6" ry="5.2" fill="#f39a30"/><ellipse cx="225.8" cy="886.6" rx="6.6" ry="5.2" fill="#f39a30"/><ellipse cx="211.4" cy="755.6" rx="6.6" ry="5.2" fill="#f39a30"/><ellipse cx="212.4" cy="853.5" rx="6.6" ry="5.2" fill="#f39a30"/><ellipse cx="216.8" cy="764.2" rx="6.6" ry="5.2" fill="#f39a30"/><ellipse cx="222.1" cy="721.9" rx="6.6" ry="5.2" fill="#f39a30"/><ellipse cx="231.2" cy="830.3" rx="6.6" ry="5.2" fill="#f39a30"/><ellipse cx="226.4" cy="851.0" rx="6.6" ry="5.2" fill="#f39a30"/><ellipse cx="226.9" cy="845.9" rx="6.6" ry="5.2" fill="#f39a30"/><ellipse cx="217.7" cy="834.7" rx="6.6" ry="5.2" fill="#f39a30"/><ellipse cx="234.9" cy="977.4" rx="6.6" ry="5.2" fill="#f39a30"/><ellipse cx="228.0" cy="935.8" rx="6.6" ry="5.2" fill="#f39a30"/><ellipse cx="216.5" cy="797.2" rx="6.6" ry="5.2" fill="#f39a30"/><ellipse cx="212.7" cy="790.3" rx="6.6" ry="5.2" fill="#f39a30"/><ellipse cx="220.6" cy="916.3" rx="6.6" ry="5.2" fill="#f39a30"/><ellipse cx="220.3" cy="937.5" rx="6.6" ry="5.2" fill="#f39a30"/><ellipse cx="231.3" cy="966.9" rx="6.6" ry="5.2" fill="#f39a30"/><ellipse cx="216.0" cy="714.1" rx="6.6" ry="5.2" fill="#f39a30"/><ellipse cx="222.3" cy="954.3" rx="6.6" ry="5.2" fill="#f39a30"/><ellipse cx="220.5" cy="972.8" rx="6.6" ry="5.2" fill="#f39a30"/><ellipse cx="226.1" cy="733.3" rx="6.6" ry="5.2" fill="#f39a30"/><ellipse cx="217.5" cy="919.5" rx="6.6" ry="5.2" fill="#f39a30"/><ellipse cx="219.0" cy="737.0" rx="6.6" ry="5.2" fill="#f39a30"/><ellipse cx="229.2" cy="968.5" rx="6.6" ry="5.2" fill="#f39a30"/><ellipse cx="216.9" cy="745.1" rx="6.6" ry="5.2" fill="#f39a30"/><ellipse cx="212.4" cy="740.7" rx="6.6" ry="5.2" fill="#f39a30"/><ellipse cx="215.3" cy="924.4" rx="6.6" ry="5.2" fill="#f39a30"/><ellipse cx="221.7" cy="861.7" rx="6.6" ry="5.2" fill="#f39a30"/><ellipse cx="228.6" cy="764.3" rx="6.6" ry="5.2" fill="#f39a30"/><ellipse cx="226.4" cy="748.6" rx="6.6" ry="5.2" fill="#f39a30"/><ellipse cx="221.1" cy="744.8" rx="6.6" ry="5.2" fill="#f39a30"/><ellipse cx="217.5" cy="770.2" rx="6.6" ry="5.2" fill="#f39a30"/><ellipse cx="230.3" cy="970.3" rx="6.6" ry="5.2" fill="#f39a30"/><ellipse cx="232.2" cy="794.3" rx="6.6" ry="5.2" fill="#f39a30"/><ellipse cx="220.5" cy="769.6" rx="6.6" ry="5.2" fill="#f39a30"/><ellipse cx="226.4" cy="939.6" rx="6.6" ry="5.2" fill="#f39a30"/><ellipse cx="234.7" cy="740.5" rx="6.6" ry="5.2" fill="#f39a30"/><ellipse cx="217.2" cy="770.3" rx="6.6" ry="5.2" fill="#f39a30"/><ellipse cx="218.9" cy="918.0" rx="6.6" ry="5.2" fill="#f39a30"/><ellipse cx="212.8" cy="792.2" rx="6.6" ry="5.2" fill="#f39a30"/><ellipse cx="225.0" cy="737.8" rx="6.6" ry="5.2" fill="#f39a30"/><ellipse cx="225.4" cy="778.2" rx="6.6" ry="5.2" fill="#f39a30"/><ellipse cx="221.9" cy="812.1" rx="6.6" ry="5.2" fill="#f39a30"/><ellipse cx="222.6" cy="967.2" rx="6.6" ry="5.2" fill="#f39a30"/><ellipse cx="231.8" cy="865.7" rx="6.6" ry="5.2" fill="#f39a30"/><ellipse cx="214.7" cy="762.3" rx="6.6" ry="5.2" fill="#f39a30"/><ellipse cx="230.6" cy="953.8" rx="6.6" ry="5.2" fill="#f39a30"/><ellipse cx="215.6" cy="779.9" rx="6.6" ry="5.2" fill="#f39a30"/><ellipse cx="233.6" cy="909.2" rx="6.6" ry="5.2" fill="#f39a30"/><ellipse cx="233.8" cy="765.9" rx="6.6" ry="5.2" fill="#f39a30"/><ellipse cx="225.5" cy="946.9" rx="6.6" ry="5.2" fill="#f39a30"/><ellipse cx="213.5" cy="825.3" rx="6.6" ry="5.2" fill="#f39a30"/><ellipse cx="234.1" cy="724.2" rx="6.6" ry="5.2" fill="#f39a30"/><ellipse cx="227.9" cy="776.9" rx="6.6" ry="5.2" fill="#f39a30"/><ellipse cx="230.8" cy="781.8" rx="6.6" ry="5.2" fill="#f39a30"/><ellipse cx="218.0" cy="871.5" rx="6.6" ry="5.2" fill="#f39a30"/><ellipse cx="228.3" cy="760.3" rx="6.6" ry="5.2" fill="#f39a30"/><ellipse cx="216.5" cy="732.2" rx="6.6" ry="5.2" fill="#f39a30"/><ellipse cx="231.5" cy="861.7" rx="6.6" ry="5.2" fill="#f39a30"/><ellipse cx="217.7" cy="876.2" rx="6.6" ry="5.2" fill="#f39a30"/><ellipse cx="215.9" cy="956.2" rx="6.6" ry="5.2" fill="#f39a30"/><ellipse cx="217.5" cy="718.4" rx="6.6" ry="5.2" fill="#f39a30"/><ellipse cx="212.5" cy="831.7" rx="6.6" ry="5.2" fill="#f39a30"/><ellipse cx="219.9" cy="760.5" rx="6.6" ry="5.2" fill="#f39a30"/><ellipse cx="214.2" cy="865.1" rx="6.6" ry="5.2" fill="#f39a30"/><ellipse cx="232.4" cy="809.6" rx="6.6" ry="5.2" fill="#f39a30"/><ellipse cx="226.8" cy="972.9" rx="6.6" ry="5.2" fill="#f39a30"/><ellipse cx="225.0" cy="896.5" rx="6.6" ry="5.2" fill="#f39a30"/><ellipse cx="211.8" cy="751.1" rx="6.6" ry="5.2" fill="#f39a30"/><ellipse cx="232.8" cy="718.7" rx="6.6" ry="5.2" fill="#f39a30"/><ellipse cx="234.1" cy="899.1" rx="6.6" ry="5.2" fill="#f39a30"/><ellipse cx="226.3" cy="719.6" rx="6.6" ry="5.2" fill="#f39a30"/><ellipse cx="228.5" cy="841.3" rx="6.6" ry="5.2" fill="#f39a30"/><ellipse cx="235.0" cy="798.2" rx="6.6" ry="5.2" fill="#f39a30"/><ellipse cx="224.1" cy="733.9" rx="6.6" ry="5.2" fill="#f39a30"/><ellipse cx="232.6" cy="908.6" rx="6.6" ry="5.2" fill="#f39a30"/><ellipse cx="227.9" cy="908.6" rx="6.6" ry="5.2" fill="#f39a30"/><ellipse cx="233.0" cy="923.4" rx="6.6" ry="5.2" fill="#f39a30"/><ellipse cx="227.4" cy="806.9" rx="6.6" ry="5.2" fill="#f39a30"/><ellipse cx="231.9" cy="951.8" rx="6.6" ry="5.2" fill="#f39a30"/><ellipse cx="230.0" cy="824.1" rx="6.6" ry="5.2" fill="#f39a30"/><ellipse cx="224.7" cy="942.0" rx="6.6" ry="5.2" fill="#f39a30"/><ellipse cx="220.2" cy="879.0" rx="6.6" ry="5.2" fill="#f39a30"/><ellipse cx="225.6" cy="867.8" rx="6.6" ry="5.2" fill="#f39a30"/><ellipse cx="226.3" cy="735.2" rx="6.6" ry="5.2" fill="#f39a30"/><ellipse cx="232.1" cy="976.2" rx="6.6" ry="5.2" fill="#f39a30"/><ellipse cx="220.3" cy="906.2" rx="6.6" ry="5.2" fill="#f39a30"/><ellipse cx="224.9" cy="908.1" rx="6.6" ry="5.2" fill="#f39a30"/><ellipse cx="231.1" cy="830.3" rx="6.6" ry="5.2" fill="#f39a30"/><ellipse cx="229.0" cy="736.1" rx="6.6" ry="5.2" fill="#f39a30"/><ellipse cx="225.4" cy="721.9" rx="6.6" ry="5.2" fill="#f39a30"/><ellipse cx="216.5" cy="841.0" rx="6.6" ry="5.2" fill="#f39a30"/><ellipse cx="222.9" cy="898.4" rx="6.6" ry="5.2" fill="#f39a30"/><ellipse cx="233.1" cy="876.2" rx="6.6" ry="5.2" fill="#f39a30"/><ellipse cx="211.3" cy="781.5" rx="6.6" ry="5.2" fill="#f39a30"/><ellipse cx="227.3" cy="793.5" rx="6.6" ry="5.2" fill="#f39a30"/><ellipse cx="215.1" cy="767.5" rx="6.6" ry="5.2" fill="#f39a30"/><ellipse cx="226.8" cy="953.1" rx="6.6" ry="5.2" fill="#f39a30"/><ellipse cx="232.4" cy="830.7" rx="6.6" ry="5.2" fill="#f39a30"/><ellipse cx="227.0" cy="800.3" rx="6.6" ry="5.2" fill="#f39a30"/><ellipse cx="221.3" cy="766.4" rx="6.6" ry="5.2" fill="#f39a30"/><ellipse cx="232.9" cy="926.8" rx="6.6" ry="5.2" fill="#f39a30"/><ellipse cx="220.2" cy="946.4" rx="6.6" ry="5.2" fill="#f39a30"/><ellipse cx="218.6" cy="867.9" rx="6.6" ry="5.2" fill="#f39a30"/><ellipse cx="222.9" cy="750.0" rx="6.6" ry="5.2" fill="#f39a30"/><ellipse cx="231.4" cy="935.0" rx="6.6" ry="5.2" fill="#f39a30"/><ellipse cx="233.8" cy="901.8" rx="6.6" ry="5.2" fill="#f39a30"/><ellipse cx="215.1" cy="787.1" rx="6.6" ry="5.2" fill="#f39a30"/><ellipse cx="217.6" cy="833.0" rx="6.6" ry="5.2" fill="#f39a30"/><ellipse cx="220.9" cy="770.5" rx="6.6" ry="5.2" fill="#f39a30"/><ellipse cx="222.9" cy="879.2" rx="6.6" ry="5.2" fill="#f39a30"/><ellipse cx="231.1" cy="797.3" rx="6.6" ry="5.2" fill="#f39a30"/><ellipse cx="221.9" cy="973.3" rx="6.6" ry="5.2" fill="#f39a30"/><ellipse cx="211.8" cy="733.7" rx="6.6" ry="5.2" fill="#f39a30"/><ellipse cx="212.0" cy="944.4" rx="6.6" ry="5.2" fill="#f39a30"/><ellipse cx="224.7" cy="901.1" rx="6.6" ry="5.2" fill="#f39a30"/><ellipse cx="230.0" cy="795.6" rx="6.6" ry="5.2" fill="#f39a30"/><ellipse cx="214.3" cy="719.0" rx="6.6" ry="5.2" fill="#f39a30"/><ellipse cx="211.6" cy="834.1" rx="6.6" ry="5.2" fill="#f39a30"/><ellipse cx="216.7" cy="933.0" rx="6.6" ry="5.2" fill="#f39a30"/><ellipse cx="212.1" cy="751.2" rx="6.6" ry="5.2" fill="#f39a30"/><ellipse cx="221.7" cy="880.1" rx="6.6" ry="5.2" fill="#f39a30"/><ellipse cx="226.7" cy="880.3" rx="6.6" ry="5.2" fill="#f39a30"/><ellipse cx="234.0" cy="927.1" rx="6.6" ry="5.2" fill="#f39a30"/><ellipse cx="215.8" cy="894.7" rx="6.6" ry="5.2" fill="#f39a30"/><ellipse cx="215.3" cy="839.4" rx="6.6" ry="5.2" fill="#f39a30"/><ellipse cx="222.3" cy="716.8" rx="6.6" ry="5.2" fill="#f39a30"/><ellipse cx="215.3" cy="902.5" rx="6.6" ry="5.2" fill="#f39a30"/><ellipse cx="219.3" cy="785.9" rx="6.6" ry="5.2" fill="#f39a30"/><ellipse cx="223.5" cy="898.1" rx="6.6" ry="5.2" fill="#f39a30"/><ellipse cx="229.1" cy="876.2" rx="6.6" ry="5.2" fill="#f39a30"/><ellipse cx="230.0" cy="817.9" rx="6.6" ry="5.2" fill="#f39a30"/><ellipse cx="213.1" cy="953.2" rx="6.6" ry="5.2" fill="#f39a30"/><ellipse cx="228.3" cy="960.2" rx="6.6" ry="5.2" fill="#f39a30"/><ellipse cx="221.9" cy="748.3" rx="6.6" ry="5.2" fill="#f39a30"/><ellipse cx="232.8" cy="879.1" rx="6.6" ry="5.2" fill="#f39a30"/><ellipse cx="224.7" cy="813.5" rx="6.6" ry="5.2" fill="#f39a30"/><ellipse cx="230.1" cy="946.1" rx="6.6" ry="5.2" fill="#f39a30"/><ellipse cx="222.1" cy="963.3" rx="6.6" ry="5.2" fill="#f39a30"/><ellipse cx="215.9" cy="885.9" rx="6.6" ry="5.2" fill="#f39a30"/><ellipse cx="230.6" cy="904.6" rx="6.6" ry="5.2" fill="#f39a30"/><ellipse cx="228.2" cy="883.4" rx="6.6" ry="5.2" fill="#f39a30"/>
<ellipse cx="281.1" cy="836.6" rx="6.6" ry="5.2" fill="#f39a30"/><ellipse cx="307.9" cy="882.3" rx="6.6" ry="5.2" fill="#f39a30"/><ellipse cx="331.5" cy="899.0" rx="6.6" ry="5.2" fill="#f39a30"/><ellipse cx="317.3" cy="955.7" rx="6.6" ry="5.2" fill="#f39a30"/><ellipse cx="292.1" cy="1023.5" rx="6.6" ry="5.2" fill="#f39a30"/><ellipse cx="342.6" cy="1025.7" rx="6.6" ry="5.2" fill="#f39a30"/><ellipse cx="268.5" cy="946.2" rx="6.6" ry="5.2" fill="#f39a30"/><ellipse cx="365.6" cy="869.7" rx="6.6" ry="5.2" fill="#f39a30"/><ellipse cx="438.7" cy="854.2" rx="6.6" ry="5.2" fill="#f39a30"/><ellipse cx="386.7" cy="900.6" rx="6.6" ry="5.2" fill="#f39a30"/><ellipse cx="386.7" cy="924.2" rx="6.6" ry="5.2" fill="#f39a30"/><ellipse cx="396.1" cy="933.6" rx="6.6" ry="5.2" fill="#f39a30"/><ellipse cx="388.3" cy="955.7" rx="6.6" ry="5.2" fill="#f39a30"/><ellipse cx="389.8" cy="965.2" rx="6.6" ry="5.2" fill="#f39a30"/><ellipse cx="355.2" cy="957.3" rx="6.6" ry="5.2" fill="#f39a30"/><ellipse cx="361.5" cy="965.2" rx="6.6" ry="5.2" fill="#f39a30"/><ellipse cx="415.0" cy="940.0" rx="6.6" ry="5.2" fill="#f39a30"/><ellipse cx="411.9" cy="995.1" rx="6.6" ry="5.2" fill="#f39a30"/><ellipse cx="434.0" cy="938.4" rx="6.6" ry="5.2" fill="#f39a30"/><ellipse cx="456.0" cy="919.5" rx="6.6" ry="5.2" fill="#f39a30"/><ellipse cx="463.9" cy="1020.3" rx="6.6" ry="5.2" fill="#f39a30"/><ellipse cx="473.3" cy="903.7" rx="6.6" ry="5.2" fill="#f39a30"/><ellipse cx="474.9" cy="930.5" rx="6.6" ry="5.2" fill="#f39a30"/><ellipse cx="473.3" cy="955.7" rx="6.6" ry="5.2" fill="#f39a30"/><ellipse cx="487.5" cy="965.2" rx="6.6" ry="5.2" fill="#f39a30"/><ellipse cx="476.5" cy="979.3" rx="6.6" ry="5.2" fill="#f39a30"/><ellipse cx="486.0" cy="981.0" rx="6.6" ry="5.2" fill="#f39a30"/><ellipse cx="486.0" cy="883.2" rx="6.6" ry="5.2" fill="#f39a30"/><ellipse cx="534.8" cy="821.8" rx="6.6" ry="5.2" fill="#f39a30"/><ellipse cx="544.2" cy="869.7" rx="6.6" ry="5.2" fill="#f39a30"/><ellipse cx="538.0" cy="891.1" rx="6.6" ry="5.2" fill="#f39a30"/><ellipse cx="538.0" cy="927.3" rx="6.6" ry="5.2" fill="#f39a30"/><ellipse cx="530.1" cy="957.3" rx="6.6" ry="5.2" fill="#f39a30"/><ellipse cx="530.1" cy="963.6" rx="6.6" ry="5.2" fill="#f39a30"/><ellipse cx="552.1" cy="955.7" rx="6.6" ry="5.2" fill="#f39a30"/><ellipse cx="560.0" cy="968.3" rx="6.6" ry="5.2" fill="#f39a30"/><ellipse cx="582.1" cy="919.5" rx="6.6" ry="5.2" fill="#f39a30"/><ellipse cx="591.5" cy="933.6" rx="6.6" ry="5.2" fill="#f39a30"/><ellipse cx="607.3" cy="924.2" rx="6.6" ry="5.2" fill="#f39a30"/><ellipse cx="610.4" cy="943.1" rx="6.6" ry="5.2" fill="#f39a30"/><ellipse cx="613.6" cy="962.0" rx="6.6" ry="5.2" fill="#f39a30"/><ellipse cx="604.1" cy="965.2" rx="6.6" ry="5.2" fill="#f39a30"/><ellipse cx="640.0" cy="995.1" rx="6.6" ry="5.2" fill="#f39a30"/><ellipse cx="638.8" cy="892.7" rx="6.6" ry="5.2" fill="#f39a30"/><ellipse cx="600.0" cy="963.4" rx="6.6" ry="5.2" fill="#f39a30"/><ellipse cx="608.5" cy="925.1" rx="6.6" ry="5.2" fill="#f39a30"/><ellipse cx="611.3" cy="945.0" rx="6.6" ry="5.2" fill="#f39a30"/><ellipse cx="639.7" cy="892.5" rx="6.6" ry="5.2" fill="#f39a30"/><ellipse cx="639.7" cy="994.6" rx="6.6" ry="5.2" fill="#f39a30"/><ellipse cx="896.4" cy="946.4" rx="6.6" ry="5.2" fill="#f39a30"/><ellipse cx="904.9" cy="872.6" rx="6.6" ry="5.2" fill="#f39a30"/><ellipse cx="920.5" cy="742.2" rx="6.6" ry="5.2" fill="#f39a30"/><ellipse cx="794.3" cy="739.3" rx="6.6" ry="5.2" fill="#f39a30"/><ellipse cx="706.4" cy="746.4" rx="6.6" ry="5.2" fill="#f39a30"/><ellipse cx="777.3" cy="750.7" rx="6.6" ry="5.2" fill="#f39a30"/><ellipse cx="726.2" cy="759.2" rx="6.6" ry="5.2" fill="#f39a30"/><ellipse cx="843.9" cy="760.6" rx="6.6" ry="5.2" fill="#f39a30"/><ellipse cx="686.5" cy="780.5" rx="6.6" ry="5.2" fill="#f39a30"/><ellipse cx="868.0" cy="774.8" rx="6.6" ry="5.2" fill="#f39a30"/><ellipse cx="880.8" cy="787.5" rx="6.6" ry="5.2" fill="#f39a30"/><ellipse cx="692.2" cy="1038.5" rx="6.6" ry="5.2" fill="#f39a30"/><ellipse cx="707.8" cy="1028.6" rx="6.6" ry="5.2" fill="#f39a30"/><ellipse cx="724.8" cy="1025.8" rx="6.6" ry="5.2" fill="#f39a30"/><ellipse cx="739.0" cy="1045.6" rx="6.6" ry="5.2" fill="#f39a30"/><ellipse cx="758.8" cy="1045.6" rx="6.6" ry="5.2" fill="#f39a30"/><ellipse cx="778.7" cy="1035.7" rx="6.6" ry="5.2" fill="#f39a30"/><ellipse cx="811.3" cy="1028.6" rx="6.6" ry="5.2" fill="#f39a30"/><ellipse cx="831.1" cy="1048.5" rx="6.6" ry="5.2" fill="#f39a30"/><ellipse cx="843.9" cy="1052.7" rx="6.6" ry="5.2" fill="#f39a30"/><ellipse cx="862.3" cy="1031.4" rx="6.6" ry="5.2" fill="#f39a30"/><ellipse cx="841.1" cy="1038.5" rx="6.6" ry="5.2" fill="#f39a30"/><ellipse cx="233.0" cy="762.0" rx="6.6" ry="5.2" fill="#f39a30"/><ellipse cx="236.0" cy="790.0" rx="6.6" ry="5.2" fill="#f39a30"/><ellipse cx="222.0" cy="975.0" rx="6.6" ry="5.2" fill="#f39a30"/><ellipse cx="240.0" cy="880.0" rx="6.6" ry="5.2" fill="#f39a30"/><ellipse cx="238.0" cy="900.0" rx="6.6" ry="5.2" fill="#f39a30"/><ellipse cx="243.0" cy="925.0" rx="6.6" ry="5.2" fill="#f39a30"/><ellipse cx="236.0" cy="950.0" rx="6.6" ry="5.2" fill="#f39a30"/>
<path d="M683.0,793.3 L688.0,797.5 L693.0,797.1 L697.9,795.8 L702.9,793.7 L707.9,798.3 L712.9,798.5 L717.8,796.1 L722.8,796.0 L727.8,793.9 L732.8,792.0 L737.7,795.0 L742.7,796.7 L747.7,792.6 L752.6,798.4 L757.6,793.9 L762.6,793.9 L767.6,792.3 L772.5,800.0 L777.5,797.9 L782.5,799.0 L787.5,796.9 L792.5,792.3 L797.4,794.6 L802.4,796.0 L807.4,792.9 L812.4,799.6 L817.3,794.9 L822.3,793.2 L827.3,798.5 L832.2,793.0 L837.2,799.4 L842.2,795.6 L847.2,796.4 L852.1,794.7 L857.1,795.9 L862.1,793.5 L867.1,792.3 L872.0,798.9 L877.0,793.9 L882.0,798.2 L880.8,796.0 L883.9,816.0 L883.6,836.0 L883.0,856.0 L883.1,876.0 L882.3,896.0 L882.9,916.0 L880.5,936.0 L881.9,956.0 L883.3,976.0 L880.8,996.0 L882.0,999.4 L877.0,999.1 L872.0,995.3 L867.1,994.9 L862.1,995.6 L857.1,995.1 L852.1,1000.0 L847.2,995.1 L842.2,992.2 L837.2,992.7 L832.2,997.7 L827.3,999.9 L822.3,996.0 L817.3,995.9 L812.4,996.4 L807.4,998.0 L802.4,993.8 L797.4,996.9 L792.5,996.5 L787.5,997.0 L782.5,993.4 L777.5,993.4 L772.5,994.8 L767.6,999.4 L762.6,994.8 L757.6,996.8 L752.6,994.5 L747.7,992.8 L742.7,992.5 L737.7,998.5 L732.8,998.2 L727.8,995.0 L722.8,997.5 L717.8,997.4 L712.9,999.2 L707.9,999.7 L702.9,995.3 L697.9,999.9 L693.0,999.7 L688.0,996.7 L683.0,999.1 L683.0,996.0 L682.5,976.0 L682.0,956.0 L684.5,936.0 L681.6,916.0 L681.3,896.0 L684.2,876.0 L684.1,856.0 L682.9,836.0 L684.3,816.0 L681.2,796.0 Z" fill="#f39a30"/>
<ellipse cx="713.8" cy="795.7" rx="6.6" ry="5.2" fill="#f39a30"/><ellipse cx="713.8" cy="1000.9" rx="6.6" ry="5.2" fill="#f39a30"/><ellipse cx="778.2" cy="789.0" rx="6.6" ry="5.2" fill="#f39a30"/><ellipse cx="778.2" cy="1003.1" rx="6.6" ry="5.2" fill="#f39a30"/><ellipse cx="845.6" cy="793.2" rx="6.6" ry="5.2" fill="#f39a30"/><ellipse cx="845.6" cy="999.1" rx="6.6" ry="5.2" fill="#f39a30"/><ellipse cx="728.4" cy="786.0" rx="6.6" ry="5.2" fill="#f39a30"/><ellipse cx="728.4" cy="997.2" rx="6.6" ry="5.2" fill="#f39a30"/><ellipse cx="800.0" cy="787.0" rx="6.6" ry="5.2" fill="#f39a30"/><ellipse cx="800.0" cy="1003.1" rx="6.6" ry="5.2" fill="#f39a30"/><ellipse cx="727.6" cy="789.3" rx="6.6" ry="5.2" fill="#f39a30"/><ellipse cx="727.6" cy="992.6" rx="6.6" ry="5.2" fill="#f39a30"/><ellipse cx="884.5" cy="796.3" rx="6.6" ry="5.2" fill="#f39a30"/><ellipse cx="884.5" cy="1004.3" rx="6.6" ry="5.2" fill="#f39a30"/><ellipse cx="806.3" cy="786.5" rx="6.6" ry="5.2" fill="#f39a30"/><ellipse cx="806.3" cy="996.6" rx="6.6" ry="5.2" fill="#f39a30"/><ellipse cx="782.0" cy="787.6" rx="6.6" ry="5.2" fill="#f39a30"/><ellipse cx="782.0" cy="1005.3" rx="6.6" ry="5.2" fill="#f39a30"/><ellipse cx="755.5" cy="788.2" rx="6.6" ry="5.2" fill="#f39a30"/><ellipse cx="755.5" cy="1003.4" rx="6.6" ry="5.2" fill="#f39a30"/><ellipse cx="705.6" cy="799.0" rx="6.6" ry="5.2" fill="#f39a30"/><ellipse cx="705.6" cy="998.3" rx="6.6" ry="5.2" fill="#f39a30"/><ellipse cx="793.2" cy="790.8" rx="6.6" ry="5.2" fill="#f39a30"/><ellipse cx="793.2" cy="998.8" rx="6.6" ry="5.2" fill="#f39a30"/><ellipse cx="718.3" cy="786.5" rx="6.6" ry="5.2" fill="#f39a30"/><ellipse cx="718.3" cy="1004.1" rx="6.6" ry="5.2" fill="#f39a30"/><ellipse cx="728.1" cy="796.9" rx="6.6" ry="5.2" fill="#f39a30"/><ellipse cx="728.1" cy="994.9" rx="6.6" ry="5.2" fill="#f39a30"/><ellipse cx="878.6" cy="798.5" rx="6.6" ry="5.2" fill="#f39a30"/><ellipse cx="878.6" cy="1002.6" rx="6.6" ry="5.2" fill="#f39a30"/><ellipse cx="836.4" cy="794.1" rx="6.6" ry="5.2" fill="#f39a30"/><ellipse cx="836.4" cy="1002.2" rx="6.6" ry="5.2" fill="#f39a30"/><ellipse cx="705.1" cy="792.7" rx="6.6" ry="5.2" fill="#f39a30"/><ellipse cx="705.1" cy="1003.6" rx="6.6" ry="5.2" fill="#f39a30"/><ellipse cx="721.2" cy="798.9" rx="6.6" ry="5.2" fill="#f39a30"/><ellipse cx="721.2" cy="1004.4" rx="6.6" ry="5.2" fill="#f39a30"/><ellipse cx="764.0" cy="791.1" rx="6.6" ry="5.2" fill="#f39a30"/><ellipse cx="764.0" cy="998.3" rx="6.6" ry="5.2" fill="#f39a30"/><ellipse cx="759.1" cy="799.9" rx="6.6" ry="5.2" fill="#f39a30"/><ellipse cx="759.1" cy="997.4" rx="6.6" ry="5.2" fill="#f39a30"/><ellipse cx="685.5" cy="787.3" rx="6.6" ry="5.2" fill="#f39a30"/><ellipse cx="685.5" cy="1002.1" rx="6.6" ry="5.2" fill="#f39a30"/><ellipse cx="883.5" cy="792.9" rx="6.6" ry="5.2" fill="#f39a30"/><ellipse cx="883.5" cy="998.9" rx="6.6" ry="5.2" fill="#f39a30"/><ellipse cx="792.8" cy="796.5" rx="6.6" ry="5.2" fill="#f39a30"/><ellipse cx="792.8" cy="995.1" rx="6.6" ry="5.2" fill="#f39a30"/><ellipse cx="804.8" cy="793.8" rx="6.6" ry="5.2" fill="#f39a30"/><ellipse cx="804.8" cy="1000.7" rx="6.6" ry="5.2" fill="#f39a30"/><ellipse cx="717.0" cy="788.4" rx="6.6" ry="5.2" fill="#f39a30"/><ellipse cx="717.0" cy="996.9" rx="6.6" ry="5.2" fill="#f39a30"/><ellipse cx="870.1" cy="790.9" rx="6.6" ry="5.2" fill="#f39a30"/><ellipse cx="870.1" cy="1000.4" rx="6.6" ry="5.2" fill="#f39a30"/><ellipse cx="742.9" cy="787.4" rx="6.6" ry="5.2" fill="#f39a30"/><ellipse cx="742.9" cy="992.9" rx="6.6" ry="5.2" fill="#f39a30"/><ellipse cx="846.8" cy="796.9" rx="6.6" ry="5.2" fill="#f39a30"/><ellipse cx="846.8" cy="997.2" rx="6.6" ry="5.2" fill="#f39a30"/><ellipse cx="820.1" cy="795.5" rx="6.6" ry="5.2" fill="#f39a30"/><ellipse cx="820.1" cy="1004.6" rx="6.6" ry="5.2" fill="#f39a30"/><ellipse cx="876.4" cy="791.7" rx="6.6" ry="5.2" fill="#f39a30"/><ellipse cx="876.4" cy="1005.8" rx="6.6" ry="5.2" fill="#f39a30"/><ellipse cx="877.1" cy="794.3" rx="6.6" ry="5.2" fill="#f39a30"/><ellipse cx="877.1" cy="1004.4" rx="6.6" ry="5.2" fill="#f39a30"/><ellipse cx="780.6" cy="791.3" rx="6.6" ry="5.2" fill="#f39a30"/><ellipse cx="780.6" cy="995.5" rx="6.6" ry="5.2" fill="#f39a30"/><ellipse cx="859.6" cy="788.3" rx="6.6" ry="5.2" fill="#f39a30"/><ellipse cx="859.6" cy="993.0" rx="6.6" ry="5.2" fill="#f39a30"/><ellipse cx="845.1" cy="796.8" rx="6.6" ry="5.2" fill="#f39a30"/><ellipse cx="845.1" cy="998.8" rx="6.6" ry="5.2" fill="#f39a30"/><ellipse cx="851.6" cy="786.7" rx="6.6" ry="5.2" fill="#f39a30"/><ellipse cx="851.6" cy="995.6" rx="6.6" ry="5.2" fill="#f39a30"/><ellipse cx="739.4" cy="791.9" rx="6.6" ry="5.2" fill="#f39a30"/><ellipse cx="739.4" cy="994.4" rx="6.6" ry="5.2" fill="#f39a30"/><ellipse cx="694.2" cy="790.7" rx="6.6" ry="5.2" fill="#f39a30"/><ellipse cx="694.2" cy="1004.6" rx="6.6" ry="5.2" fill="#f39a30"/><ellipse cx="881.6" cy="796.4" rx="6.6" ry="5.2" fill="#f39a30"/><ellipse cx="881.6" cy="998.7" rx="6.6" ry="5.2" fill="#f39a30"/><ellipse cx="731.7" cy="799.4" rx="6.6" ry="5.2" fill="#f39a30"/><ellipse cx="731.7" cy="999.4" rx="6.6" ry="5.2" fill="#f39a30"/><ellipse cx="829.4" cy="786.4" rx="6.6" ry="5.2" fill="#f39a30"/><ellipse cx="829.4" cy="995.0" rx="6.6" ry="5.2" fill="#f39a30"/><ellipse cx="851.8" cy="797.1" rx="6.6" ry="5.2" fill="#f39a30"/><ellipse cx="851.8" cy="1004.3" rx="6.6" ry="5.2" fill="#f39a30"/><ellipse cx="803.3" cy="792.0" rx="6.6" ry="5.2" fill="#f39a30"/><ellipse cx="803.3" cy="1000.1" rx="6.6" ry="5.2" fill="#f39a30"/><ellipse cx="854.1" cy="790.3" rx="6.6" ry="5.2" fill="#f39a30"/><ellipse cx="854.1" cy="999.5" rx="6.6" ry="5.2" fill="#f39a30"/><ellipse cx="736.6" cy="796.8" rx="6.6" ry="5.2" fill="#f39a30"/><ellipse cx="736.6" cy="992.1" rx="6.6" ry="5.2" fill="#f39a30"/><ellipse cx="820.5" cy="799.4" rx="6.6" ry="5.2" fill="#f39a30"/><ellipse cx="820.5" cy="992.3" rx="6.6" ry="5.2" fill="#f39a30"/><ellipse cx="801.7" cy="795.0" rx="6.6" ry="5.2" fill="#f39a30"/><ellipse cx="801.7" cy="1003.9" rx="6.6" ry="5.2" fill="#f39a30"/><ellipse cx="799.8" cy="789.6" rx="6.6" ry="5.2" fill="#f39a30"/><ellipse cx="799.8" cy="997.7" rx="6.6" ry="5.2" fill="#f39a30"/><ellipse cx="876.5" cy="798.7" rx="6.6" ry="5.2" fill="#f39a30"/><ellipse cx="876.5" cy="993.9" rx="6.6" ry="5.2" fill="#f39a30"/><ellipse cx="699.4" cy="787.3" rx="6.6" ry="5.2" fill="#f39a30"/><ellipse cx="699.4" cy="992.4" rx="6.6" ry="5.2" fill="#f39a30"/><ellipse cx="771.6" cy="788.0" rx="6.6" ry="5.2" fill="#f39a30"/><ellipse cx="771.6" cy="1004.1" rx="6.6" ry="5.2" fill="#f39a30"/><ellipse cx="814.3" cy="787.8" rx="6.6" ry="5.2" fill="#f39a30"/><ellipse cx="814.3" cy="999.5" rx="6.6" ry="5.2" fill="#f39a30"/><ellipse cx="746.5" cy="792.9" rx="6.6" ry="5.2" fill="#f39a30"/><ellipse cx="746.5" cy="995.1" rx="6.6" ry="5.2" fill="#f39a30"/><ellipse cx="714.0" cy="788.6" rx="6.6" ry="5.2" fill="#f39a30"/><ellipse cx="714.0" cy="997.3" rx="6.6" ry="5.2" fill="#f39a30"/><ellipse cx="825.5" cy="793.7" rx="6.6" ry="5.2" fill="#f39a30"/><ellipse cx="825.5" cy="992.6" rx="6.6" ry="5.2" fill="#f39a30"/><ellipse cx="825.7" cy="798.2" rx="6.6" ry="5.2" fill="#f39a30"/><ellipse cx="825.7" cy="1002.8" rx="6.6" ry="5.2" fill="#f39a30"/><ellipse cx="842.1" cy="786.1" rx="6.6" ry="5.2" fill="#f39a30"/><ellipse cx="842.1" cy="998.5" rx="6.6" ry="5.2" fill="#f39a30"/><ellipse cx="693.0" cy="796.7" rx="6.6" ry="5.2" fill="#f39a30"/><ellipse cx="693.0" cy="994.5" rx="6.6" ry="5.2" fill="#f39a30"/><ellipse cx="825.9" cy="789.5" rx="6.6" ry="5.2" fill="#f39a30"/><ellipse cx="825.9" cy="1001.8" rx="6.6" ry="5.2" fill="#f39a30"/><ellipse cx="744.3" cy="786.6" rx="6.6" ry="5.2" fill="#f39a30"/><ellipse cx="744.3" cy="997.4" rx="6.6" ry="5.2" fill="#f39a30"/><ellipse cx="743.4" cy="798.6" rx="6.6" ry="5.2" fill="#f39a30"/><ellipse cx="743.4" cy="996.1" rx="6.6" ry="5.2" fill="#f39a30"/><ellipse cx="783.1" cy="793.7" rx="6.6" ry="5.2" fill="#f39a30"/><ellipse cx="783.1" cy="1005.3" rx="6.6" ry="5.2" fill="#f39a30"/><ellipse cx="700.2" cy="794.4" rx="6.6" ry="5.2" fill="#f39a30"/><ellipse cx="700.2" cy="999.1" rx="6.6" ry="5.2" fill="#f39a30"/><ellipse cx="830.6" cy="799.5" rx="6.6" ry="5.2" fill="#f39a30"/><ellipse cx="830.6" cy="996.3" rx="6.6" ry="5.2" fill="#f39a30"/><ellipse cx="823.4" cy="793.4" rx="6.6" ry="5.2" fill="#f39a30"/><ellipse cx="823.4" cy="999.8" rx="6.6" ry="5.2" fill="#f39a30"/><ellipse cx="693.1" cy="797.4" rx="6.6" ry="5.2" fill="#f39a30"/><ellipse cx="693.1" cy="1005.7" rx="6.6" ry="5.2" fill="#f39a30"/><ellipse cx="752.8" cy="790.5" rx="6.6" ry="5.2" fill="#f39a30"/><ellipse cx="752.8" cy="1005.9" rx="6.6" ry="5.2" fill="#f39a30"/><ellipse cx="702.1" cy="787.1" rx="6.6" ry="5.2" fill="#f39a30"/><ellipse cx="702.1" cy="993.0" rx="6.6" ry="5.2" fill="#f39a30"/><ellipse cx="846.9" cy="796.6" rx="6.6" ry="5.2" fill="#f39a30"/><ellipse cx="846.9" cy="998.3" rx="6.6" ry="5.2" fill="#f39a30"/><ellipse cx="807.4" cy="786.3" rx="6.6" ry="5.2" fill="#f39a30"/><ellipse cx="807.4" cy="1001.0" rx="6.6" ry="5.2" fill="#f39a30"/><ellipse cx="770.7" cy="793.2" rx="6.6" ry="5.2" fill="#f39a30"/><ellipse cx="770.7" cy="997.5" rx="6.6" ry="5.2" fill="#f39a30"/><ellipse cx="762.3" cy="789.2" rx="6.6" ry="5.2" fill="#f39a30"/><ellipse cx="762.3" cy="992.7" rx="6.6" ry="5.2" fill="#f39a30"/><ellipse cx="769.0" cy="789.5" rx="6.6" ry="5.2" fill="#f39a30"/><ellipse cx="769.0" cy="1001.9" rx="6.6" ry="5.2" fill="#f39a30"/><ellipse cx="847.5" cy="796.1" rx="6.6" ry="5.2" fill="#f39a30"/><ellipse cx="847.5" cy="998.4" rx="6.6" ry="5.2" fill="#f39a30"/><ellipse cx="728.5" cy="791.4" rx="6.6" ry="5.2" fill="#f39a30"/><ellipse cx="728.5" cy="998.8" rx="6.6" ry="5.2" fill="#f39a30"/><ellipse cx="809.5" cy="799.5" rx="6.6" ry="5.2" fill="#f39a30"/><ellipse cx="809.5" cy="993.2" rx="6.6" ry="5.2" fill="#f39a30"/><ellipse cx="778.3" cy="792.9" rx="6.6" ry="5.2" fill="#f39a30"/><ellipse cx="778.3" cy="1002.0" rx="6.6" ry="5.2" fill="#f39a30"/><ellipse cx="862.5" cy="796.9" rx="6.6" ry="5.2" fill="#f39a30"/><ellipse cx="862.5" cy="1000.8" rx="6.6" ry="5.2" fill="#f39a30"/><ellipse cx="835.5" cy="795.4" rx="6.6" ry="5.2" fill="#f39a30"/><ellipse cx="835.5" cy="1004.0" rx="6.6" ry="5.2" fill="#f39a30"/><ellipse cx="823.3" cy="795.6" rx="6.6" ry="5.2" fill="#f39a30"/><ellipse cx="823.3" cy="995.4" rx="6.6" ry="5.2" fill="#f39a30"/><ellipse cx="867.9" cy="791.4" rx="6.6" ry="5.2" fill="#f39a30"/><ellipse cx="867.9" cy="1000.6" rx="6.6" ry="5.2" fill="#f39a30"/><ellipse cx="849.1" cy="799.5" rx="6.6" ry="5.2" fill="#f39a30"/><ellipse cx="849.1" cy="1005.8" rx="6.6" ry="5.2" fill="#f39a30"/><ellipse cx="681.3" cy="790.4" rx="6.6" ry="5.2" fill="#f39a30"/><ellipse cx="681.3" cy="996.4" rx="6.6" ry="5.2" fill="#f39a30"/><ellipse cx="760.2" cy="788.0" rx="6.6" ry="5.2" fill="#f39a30"/><ellipse cx="760.2" cy="999.7" rx="6.6" ry="5.2" fill="#f39a30"/><ellipse cx="696.3" cy="790.2" rx="6.6" ry="5.2" fill="#f39a30"/><ellipse cx="696.3" cy="1005.2" rx="6.6" ry="5.2" fill="#f39a30"/><ellipse cx="832.2" cy="792.5" rx="6.6" ry="5.2" fill="#f39a30"/><ellipse cx="832.2" cy="993.5" rx="6.6" ry="5.2" fill="#f39a30"/><ellipse cx="876.0" cy="795.9" rx="6.6" ry="5.2" fill="#f39a30"/><ellipse cx="876.0" cy="994.9" rx="6.6" ry="5.2" fill="#f39a30"/><ellipse cx="748.7" cy="795.0" rx="6.6" ry="5.2" fill="#f39a30"/><ellipse cx="748.7" cy="1001.5" rx="6.6" ry="5.2" fill="#f39a30"/><ellipse cx="733.5" cy="799.3" rx="6.6" ry="5.2" fill="#f39a30"/><ellipse cx="733.5" cy="996.5" rx="6.6" ry="5.2" fill="#f39a30"/><ellipse cx="732.1" cy="797.8" rx="6.6" ry="5.2" fill="#f39a30"/><ellipse cx="732.1" cy="994.1" rx="6.6" ry="5.2" fill="#f39a30"/><ellipse cx="819.6" cy="788.8" rx="6.6" ry="5.2" fill="#f39a30"/><ellipse cx="819.6" cy="1000.4" rx="6.6" ry="5.2" fill="#f39a30"/><ellipse cx="679.8" cy="848.8" rx="6.6" ry="5.2" fill="#f39a30"/><ellipse cx="888.4" cy="848.8" rx="6.6" ry="5.2" fill="#f39a30"/><ellipse cx="680.4" cy="889.0" rx="6.6" ry="5.2" fill="#f39a30"/><ellipse cx="885.2" cy="889.0" rx="6.6" ry="5.2" fill="#f39a30"/><ellipse cx="677.7" cy="849.5" rx="6.6" ry="5.2" fill="#f39a30"/><ellipse cx="882.8" cy="849.5" rx="6.6" ry="5.2" fill="#f39a30"/><ellipse cx="677.9" cy="847.7" rx="6.6" ry="5.2" fill="#f39a30"/><ellipse cx="888.6" cy="847.7" rx="6.6" ry="5.2" fill="#f39a30"/><ellipse cx="684.1" cy="797.3" rx="6.6" ry="5.2" fill="#f39a30"/><ellipse cx="888.3" cy="797.3" rx="6.6" ry="5.2" fill="#f39a30"/><ellipse cx="676.2" cy="939.4" rx="6.6" ry="5.2" fill="#f39a30"/><ellipse cx="884.0" cy="939.4" rx="6.6" ry="5.2" fill="#f39a30"/><ellipse cx="682.1" cy="798.3" rx="6.6" ry="5.2" fill="#f39a30"/><ellipse cx="886.0" cy="798.3" rx="6.6" ry="5.2" fill="#f39a30"/><ellipse cx="676.1" cy="840.9" rx="6.6" ry="5.2" fill="#f39a30"/><ellipse cx="884.4" cy="840.9" rx="6.6" ry="5.2" fill="#f39a30"/><ellipse cx="679.1" cy="810.0" rx="6.6" ry="5.2" fill="#f39a30"/><ellipse cx="883.5" cy="810.0" rx="6.6" ry="5.2" fill="#f39a30"/><ellipse cx="679.7" cy="979.6" rx="6.6" ry="5.2" fill="#f39a30"/><ellipse cx="880.3" cy="979.6" rx="6.6" ry="5.2" fill="#f39a30"/><ellipse cx="684.2" cy="957.8" rx="6.6" ry="5.2" fill="#f39a30"/><ellipse cx="884.3" cy="957.8" rx="6.6" ry="5.2" fill="#f39a30"/><ellipse cx="677.9" cy="800.4" rx="6.6" ry="5.2" fill="#f39a30"/><ellipse cx="883.0" cy="800.4" rx="6.6" ry="5.2" fill="#f39a30"/><ellipse cx="678.3" cy="907.0" rx="6.6" ry="5.2" fill="#f39a30"/><ellipse cx="887.0" cy="907.0" rx="6.6" ry="5.2" fill="#f39a30"/><ellipse cx="685.3" cy="968.8" rx="6.6" ry="5.2" fill="#f39a30"/><ellipse cx="887.8" cy="968.8" rx="6.6" ry="5.2" fill="#f39a30"/><ellipse cx="681.8" cy="793.7" rx="6.6" ry="5.2" fill="#f39a30"/><ellipse cx="879.8" cy="793.7" rx="6.6" ry="5.2" fill="#f39a30"/><ellipse cx="683.5" cy="980.7" rx="6.6" ry="5.2" fill="#f39a30"/><ellipse cx="886.6" cy="980.7" rx="6.6" ry="5.2" fill="#f39a30"/><ellipse cx="676.6" cy="829.9" rx="6.6" ry="5.2" fill="#f39a30"/><ellipse cx="887.2" cy="829.9" rx="6.6" ry="5.2" fill="#f39a30"/><ellipse cx="682.2" cy="918.6" rx="6.6" ry="5.2" fill="#f39a30"/><ellipse cx="883.7" cy="918.6" rx="6.6" ry="5.2" fill="#f39a30"/><ellipse cx="679.4" cy="959.6" rx="6.6" ry="5.2" fill="#f39a30"/><ellipse cx="881.7" cy="959.6" rx="6.6" ry="5.2" fill="#f39a30"/><ellipse cx="679.0" cy="864.9" rx="6.6" ry="5.2" fill="#f39a30"/><ellipse cx="885.3" cy="864.9" rx="6.6" ry="5.2" fill="#f39a30"/><ellipse cx="676.7" cy="978.7" rx="6.6" ry="5.2" fill="#f39a30"/><ellipse cx="879.7" cy="978.7" rx="6.6" ry="5.2" fill="#f39a30"/><ellipse cx="682.8" cy="898.5" rx="6.6" ry="5.2" fill="#f39a30"/><ellipse cx="880.9" cy="898.5" rx="6.6" ry="5.2" fill="#f39a30"/><ellipse cx="676.6" cy="847.2" rx="6.6" ry="5.2" fill="#f39a30"/><ellipse cx="879.4" cy="847.2" rx="6.6" ry="5.2" fill="#f39a30"/><ellipse cx="682.8" cy="895.0" rx="6.6" ry="5.2" fill="#f39a30"/><ellipse cx="885.5" cy="895.0" rx="6.6" ry="5.2" fill="#f39a30"/><ellipse cx="677.0" cy="823.5" rx="6.6" ry="5.2" fill="#f39a30"/><ellipse cx="888.3" cy="823.5" rx="6.6" ry="5.2" fill="#f39a30"/><ellipse cx="680.1" cy="904.2" rx="6.6" ry="5.2" fill="#f39a30"/><ellipse cx="885.9" cy="904.2" rx="6.6" ry="5.2" fill="#f39a30"/><ellipse cx="681.2" cy="944.3" rx="6.6" ry="5.2" fill="#f39a30"/><ellipse cx="879.8" cy="944.3" rx="6.6" ry="5.2" fill="#f39a30"/><ellipse cx="678.1" cy="965.4" rx="6.6" ry="5.2" fill="#f39a30"/><ellipse cx="879.4" cy="965.4" rx="6.6" ry="5.2" fill="#f39a30"/><ellipse cx="681.3" cy="864.7" rx="6.6" ry="5.2" fill="#f39a30"/><ellipse cx="885.3" cy="864.7" rx="6.6" ry="5.2" fill="#f39a30"/><ellipse cx="683.1" cy="826.9" rx="6.6" ry="5.2" fill="#f39a30"/><ellipse cx="883.9" cy="826.9" rx="6.6" ry="5.2" fill="#f39a30"/><ellipse cx="714.6" cy="783.3" rx="6.6" ry="5.2" fill="#f39a30"/><ellipse cx="844.2" cy="1041.0" rx="6.6" ry="5.2" fill="#f39a30"/><ellipse cx="818.6" cy="754.8" rx="6.6" ry="5.2" fill="#f39a30"/><ellipse cx="838.3" cy="1040.8" rx="6.6" ry="5.2" fill="#f39a30"/><ellipse cx="789.2" cy="785.9" rx="6.6" ry="5.2" fill="#f39a30"/><ellipse cx="877.0" cy="1018.8" rx="6.6" ry="5.2" fill="#f39a30"/><ellipse cx="871.3" cy="787.2" rx="6.6" ry="5.2" fill="#f39a30"/><ellipse cx="841.6" cy="1002.5" rx="6.6" ry="5.2" fill="#f39a30"/><ellipse cx="752.7" cy="772.6" rx="6.6" ry="5.2" fill="#f39a30"/><ellipse cx="804.0" cy="1034.5" rx="6.6" ry="5.2" fill="#f39a30"/><ellipse cx="812.0" cy="752.3" rx="6.6" ry="5.2" fill="#f39a30"/><ellipse cx="869.1" cy="1025.1" rx="6.6" ry="5.2" fill="#f39a30"/><ellipse cx="859.2" cy="754.3" rx="6.6" ry="5.2" fill="#f39a30"/><ellipse cx="882.6" cy="1025.9" rx="6.6" ry="5.2" fill="#f39a30"/><ellipse cx="837.9" cy="778.3" rx="6.6" ry="5.2" fill="#f39a30"/><ellipse cx="859.4" cy="1017.6" rx="6.6" ry="5.2" fill="#f39a30"/><ellipse cx="698.6" cy="763.3" rx="6.6" ry="5.2" fill="#f39a30"/><ellipse cx="717.8" cy="1025.2" rx="6.6" ry="5.2" fill="#f39a30"/><ellipse cx="845.8" cy="761.3" rx="6.6" ry="5.2" fill="#f39a30"/><ellipse cx="708.3" cy="1003.2" rx="6.6" ry="5.2" fill="#f39a30"/><ellipse cx="767.0" cy="771.1" rx="6.6" ry="5.2" fill="#f39a30"/><ellipse cx="687.3" cy="1030.6" rx="6.6" ry="5.2" fill="#f39a30"/><ellipse cx="724.4" cy="749.8" rx="6.6" ry="5.2" fill="#f39a30"/><ellipse cx="868.5" cy="1024.5" rx="6.6" ry="5.2" fill="#f39a30"/><ellipse cx="861.9" cy="768.1" rx="6.6" ry="5.2" fill="#f39a30"/><ellipse cx="706.7" cy="1012.3" rx="6.6" ry="5.2" fill="#f39a30"/><ellipse cx="767.3" cy="773.8" rx="6.6" ry="5.2" fill="#f39a30"/><ellipse cx="836.9" cy="1034.3" rx="6.6" ry="5.2" fill="#f39a30"/><ellipse cx="812.8" cy="756.4" rx="6.6" ry="5.2" fill="#f39a30"/><ellipse cx="768.5" cy="1018.3" rx="6.6" ry="5.2" fill="#f39a30"/><ellipse cx="780.4" cy="756.9" rx="6.6" ry="5.2" fill="#f39a30"/><ellipse cx="790.1" cy="1021.7" rx="6.6" ry="5.2" fill="#f39a30"/><ellipse cx="689.1" cy="782.0" rx="6.6" ry="5.2" fill="#f39a30"/><ellipse cx="799.9" cy="1036.5" rx="6.6" ry="5.2" fill="#f39a30"/><ellipse cx="830.0" cy="777.9" rx="6.6" ry="5.2" fill="#f39a30"/><ellipse cx="881.7" cy="1018.2" rx="6.6" ry="5.2" fill="#f39a30"/><ellipse cx="761.1" cy="745.2" rx="6.6" ry="5.2" fill="#f39a30"/><ellipse cx="815.5" cy="1027.0" rx="6.6" ry="5.2" fill="#f39a30"/><ellipse cx="797.9" cy="789.9" rx="6.6" ry="5.2" fill="#f39a30"/><ellipse cx="721.6" cy="1011.8" rx="6.6" ry="5.2" fill="#f39a30"/><ellipse cx="829.6" cy="781.6" rx="6.6" ry="5.2" fill="#f39a30"/><ellipse cx="779.0" cy="1004.4" rx="6.6" ry="5.2" fill="#f39a30"/><ellipse cx="756.5" cy="782.2" rx="6.6" ry="5.2" fill="#f39a30"/><ellipse cx="782.5" cy="1021.8" rx="6.6" ry="5.2" fill="#f39a30"/><ellipse cx="760.3" cy="773.3" rx="6.6" ry="5.2" fill="#f39a30"/><ellipse cx="802.3" cy="1031.8" rx="6.6" ry="5.2" fill="#f39a30"/><ellipse cx="855.9" cy="778.8" rx="6.6" ry="5.2" fill="#f39a30"/><ellipse cx="757.4" cy="1012.8" rx="6.6" ry="5.2" fill="#f39a30"/><ellipse cx="839.2" cy="780.7" rx="6.6" ry="5.2" fill="#f39a30"/><ellipse cx="868.6" cy="1010.5" rx="6.6" ry="5.2" fill="#f39a30"/><ellipse cx="852.4" cy="785.1" rx="6.6" ry="5.2" fill="#f39a30"/><ellipse cx="697.5" cy="1015.2" rx="6.6" ry="5.2" fill="#f39a30"/><ellipse cx="809.4" cy="751.6" rx="6.6" ry="5.2" fill="#f39a30"/><ellipse cx="849.1" cy="1013.4" rx="6.6" ry="5.2" fill="#f39a30"/><ellipse cx="819.2" cy="758.3" rx="6.6" ry="5.2" fill="#f39a30"/><ellipse cx="725.9" cy="1010.9" rx="6.6" ry="5.2" fill="#f39a30"/><ellipse cx="782.0" cy="777.1" rx="6.6" ry="5.2" fill="#f39a30"/><ellipse cx="725.8" cy="1031.5" rx="6.6" ry="5.2" fill="#f39a30"/><ellipse cx="749.4" cy="774.2" rx="6.6" ry="5.2" fill="#f39a30"/><ellipse cx="756.0" cy="1010.3" rx="6.6" ry="5.2" fill="#f39a30"/><ellipse cx="710.3" cy="747.6" rx="6.6" ry="5.2" fill="#f39a30"/><ellipse cx="822.0" cy="1019.8" rx="6.6" ry="5.2" fill="#f39a30"/><ellipse cx="706.8" cy="784.6" rx="6.6" ry="5.2" fill="#f39a30"/><ellipse cx="813.6" cy="1002.9" rx="6.6" ry="5.2" fill="#f39a30"/><ellipse cx="827.7" cy="771.8" rx="6.6" ry="5.2" fill="#f39a30"/><ellipse cx="771.2" cy="1023.5" rx="6.6" ry="5.2" fill="#f39a30"/><ellipse cx="875.4" cy="761.8" rx="6.6" ry="5.2" fill="#f39a30"/><ellipse cx="809.9" cy="1029.3" rx="6.6" ry="5.2" fill="#f39a30"/><ellipse cx="755.5" cy="760.6" rx="6.6" ry="5.2" fill="#f39a30"/><ellipse cx="833.8" cy="1029.3" rx="6.6" ry="5.2" fill="#f39a30"/><ellipse cx="773.8" cy="768.1" rx="6.6" ry="5.2" fill="#f39a30"/><ellipse cx="726.9" cy="1035.9" rx="6.6" ry="5.2" fill="#f39a30"/><ellipse cx="686.0" cy="773.9" rx="6.6" ry="5.2" fill="#f39a30"/><ellipse cx="773.4" cy="1011.5" rx="6.6" ry="5.2" fill="#f39a30"/><ellipse cx="799.9" cy="771.2" rx="6.6" ry="5.2" fill="#f39a30"/><ellipse cx="699.4" cy="1023.1" rx="6.6" ry="5.2" fill="#f39a30"/><ellipse cx="715.2" cy="781.0" rx="6.6" ry="5.2" fill="#f39a30"/><ellipse cx="747.7" cy="1016.1" rx="6.6" ry="5.2" fill="#f39a30"/><ellipse cx="725.3" cy="747.2" rx="6.6" ry="5.2" fill="#f39a30"/><ellipse cx="719.5" cy="1008.5" rx="6.6" ry="5.2" fill="#f39a30"/>
<rect x="915.0" y="794.0" width="15.0" height="212.0" rx="6" fill="#f39a30"/>
<ellipse cx="917.5" cy="792.7" rx="6.6" ry="5.2" fill="#f39a30"/><ellipse cx="924.9" cy="876.4" rx="6.6" ry="5.2" fill="#f39a30"/><ellipse cx="917.5" cy="820.5" rx="6.6" ry="5.2" fill="#f39a30"/><ellipse cx="925.8" cy="841.0" rx="6.6" ry="5.2" fill="#f39a30"/><ellipse cx="925.6" cy="822.4" rx="6.6" ry="5.2" fill="#f39a30"/><ellipse cx="917.8" cy="935.7" rx="6.6" ry="5.2" fill="#f39a30"/><ellipse cx="921.8" cy="907.8" rx="6.6" ry="5.2" fill="#f39a30"/><ellipse cx="929.0" cy="880.8" rx="6.6" ry="5.2" fill="#f39a30"/><ellipse cx="916.3" cy="810.5" rx="6.6" ry="5.2" fill="#f39a30"/><ellipse cx="921.2" cy="996.8" rx="6.6" ry="5.2" fill="#f39a30"/><ellipse cx="920.3" cy="833.7" rx="6.6" ry="5.2" fill="#f39a30"/><ellipse cx="928.4" cy="870.3" rx="6.6" ry="5.2" fill="#f39a30"/><ellipse cx="918.8" cy="836.3" rx="6.6" ry="5.2" fill="#f39a30"/><ellipse cx="923.1" cy="918.7" rx="6.6" ry="5.2" fill="#f39a30"/><ellipse cx="926.9" cy="999.8" rx="6.6" ry="5.2" fill="#f39a30"/><ellipse cx="918.7" cy="868.2" rx="6.6" ry="5.2" fill="#f39a30"/><ellipse cx="928.9" cy="974.0" rx="6.6" ry="5.2" fill="#f39a30"/><ellipse cx="925.6" cy="796.7" rx="6.6" ry="5.2" fill="#f39a30"/><ellipse cx="924.5" cy="981.0" rx="6.6" ry="5.2" fill="#f39a30"/><ellipse cx="926.4" cy="838.0" rx="6.6" ry="5.2" fill="#f39a30"/><ellipse cx="918.5" cy="950.6" rx="6.6" ry="5.2" fill="#f39a30"/><ellipse cx="918.8" cy="931.0" rx="6.6" ry="5.2" fill="#f39a30"/><ellipse cx="920.4" cy="799.1" rx="6.6" ry="5.2" fill="#f39a30"/><ellipse cx="921.2" cy="863.6" rx="6.6" ry="5.2" fill="#f39a30"/><ellipse cx="926.9" cy="932.3" rx="6.6" ry="5.2" fill="#f39a30"/><ellipse cx="928.7" cy="1001.5" rx="6.6" ry="5.2" fill="#f39a30"/><ellipse cx="926.3" cy="1008.6" rx="6.6" ry="5.2" fill="#f39a30"/><ellipse cx="918.3" cy="857.4" rx="6.6" ry="5.2" fill="#f39a30"/><ellipse cx="923.1" cy="927.2" rx="6.6" ry="5.2" fill="#f39a30"/><ellipse cx="917.2" cy="938.4" rx="6.6" ry="5.2" fill="#f39a30"/><ellipse cx="928.0" cy="832.4" rx="6.6" ry="5.2" fill="#f39a30"/><ellipse cx="925.0" cy="922.3" rx="6.6" ry="5.2" fill="#f39a30"/><ellipse cx="921.2" cy="811.0" rx="6.6" ry="5.2" fill="#f39a30"/><ellipse cx="924.4" cy="990.2" rx="6.6" ry="5.2" fill="#f39a30"/><ellipse cx="918.6" cy="1008.2" rx="6.6" ry="5.2" fill="#f39a30"/><ellipse cx="926.4" cy="890.1" rx="6.6" ry="5.2" fill="#f39a30"/><ellipse cx="926.3" cy="887.8" rx="6.6" ry="5.2" fill="#f39a30"/><ellipse cx="917.5" cy="913.6" rx="6.6" ry="5.2" fill="#f39a30"/><ellipse cx="928.8" cy="811.8" rx="6.6" ry="5.2" fill="#f39a30"/><ellipse cx="918.5" cy="816.3" rx="6.6" ry="5.2" fill="#f39a30"/><ellipse cx="925.3" cy="863.7" rx="6.6" ry="5.2" fill="#f39a30"/><ellipse cx="922.2" cy="977.9" rx="6.6" ry="5.2" fill="#f39a30"/><ellipse cx="926.2" cy="899.6" rx="6.6" ry="5.2" fill="#f39a30"/><ellipse cx="920.8" cy="851.2" rx="6.6" ry="5.2" fill="#f39a30"/><ellipse cx="924.3" cy="924.8" rx="6.6" ry="5.2" fill="#f39a30"/><ellipse cx="917.5" cy="798.4" rx="6.6" ry="5.2" fill="#f39a30"/><ellipse cx="925.4" cy="820.3" rx="6.6" ry="5.2" fill="#f39a30"/><ellipse cx="928.7" cy="942.4" rx="6.6" ry="5.2" fill="#f39a30"/><ellipse cx="919.3" cy="958.9" rx="6.6" ry="5.2" fill="#f39a30"/><ellipse cx="928.8" cy="958.4" rx="6.6" ry="5.2" fill="#f39a30"/><ellipse cx="916.1" cy="866.7" rx="6.6" ry="5.2" fill="#f39a30"/><ellipse cx="919.7" cy="872.5" rx="6.6" ry="5.2" fill="#f39a30"/><ellipse cx="916.6" cy="828.7" rx="6.6" ry="5.2" fill="#f39a30"/><ellipse cx="927.2" cy="817.5" rx="6.6" ry="5.2" fill="#f39a30"/><ellipse cx="924.0" cy="801.0" rx="6.6" ry="5.2" fill="#f39a30"/><ellipse cx="918.5" cy="835.4" rx="6.6" ry="5.2" fill="#f39a30"/><ellipse cx="919.9" cy="970.6" rx="6.6" ry="5.2" fill="#f39a30"/><ellipse cx="921.9" cy="830.4" rx="6.6" ry="5.2" fill="#f39a30"/><ellipse cx="922.8" cy="942.9" rx="6.6" ry="5.2" fill="#f39a30"/><ellipse cx="921.2" cy="979.1" rx="6.6" ry="5.2" fill="#f39a30"/>
<line x1="215" y1="892.5" x2="1119" y2="892.5" stroke="#2f7dbb" stroke-width="4.5" stroke-dasharray="25 14"/>
<polyline points="222.2,817.0 229.0,848.5 241.7,864.3 254.3,870.6 257.5,921.0 265.3,946.2 270.0,908.4 279.5,908.4 284.2,958.9 293.7,962.0 298.4,976.2 303.2,976.2 307.3,917.9 318.9,919.5 326.8,927.3 331.5,962.0 342.6,962.0 347.3,990.4 356.7,930.5 364.6,921.0 374.0,900.5 380.4,924.2 396.1,944.7 400.9,954.1 421.3,960.4 434.0,895.8 440.3,895.8 449.7,905.3 452.9,958.9 462.3,941.5 471.8,951.0 479.6,933.6 487.5,936.8 493.8,928.9 500.1,946.2 509.6,951.0 519.0,946.2 525.3,910.0 537.9,905.3 544.2,895.8 550.6,917.9 563.2,968.3 574.2,921.0 585.2,927.3 597.8,936.8 610.4,949.4 623.0,952.6 629.3,943.1 651.0,940.7 661.0,929.4 668.0,939.3 673.7,902.4 675.0,899.6 699.3,893.9 727.6,898.2 747.5,899.6 775.8,906.7 798.5,903.8 841.0,909.5 872.3,899.6 883.6,901.0 889.3,908.1 895.0,903.8 900.6,916.6 906.3,905.3 910.6,893.9" fill="none" stroke="#e2302b" stroke-width="2.2" stroke-linejoin="round" />
<rect x="215" y="681.5" width="904" height="403.5" fill="none" stroke="#000" stroke-width="3.2"/>
<line x1="203.5" y1="700.0" x2="215" y2="700.0" stroke="#000" stroke-width="3"/>
<text x="0" y="0" font-size="100" font-weight="normal" font-style="normal" fill="#222222" transform="translate(143.30 709.63) scale(0.37700 0.34300)" >1.0</text>
<line x1="203.5" y1="777.0" x2="215" y2="777.0" stroke="#000" stroke-width="3"/>
<text x="0" y="0" font-size="100" font-weight="normal" font-style="normal" fill="#222222" transform="translate(143.30 786.63) scale(0.37700 0.34300)" >0.8</text>
<line x1="203.5" y1="854.0" x2="215" y2="854.0" stroke="#000" stroke-width="3"/>
<text x="0" y="0" font-size="100" font-weight="normal" font-style="normal" fill="#222222" transform="translate(143.30 863.63) scale(0.37700 0.34300)" >0.6</text>
<line x1="203.5" y1="931.0" x2="215" y2="931.0" stroke="#000" stroke-width="3"/>
<text x="0" y="0" font-size="100" font-weight="normal" font-style="normal" fill="#222222" transform="translate(142.93 940.63) scale(0.37700 0.34300)" >0.4</text>
<line x1="203.5" y1="1008.0" x2="215" y2="1008.0" stroke="#000" stroke-width="3"/>
<text x="0" y="0" font-size="100" font-weight="normal" font-style="normal" fill="#222222" transform="translate(143.68 1017.63) scale(0.37700 0.34300)" >0.2</text>
<line x1="203.5" y1="1085.0" x2="215" y2="1085.0" stroke="#000" stroke-width="3"/>
<text x="0" y="0" font-size="100" font-weight="normal" font-style="normal" fill="#222222" transform="translate(143.30 1094.63) scale(0.37700 0.34300)" >0.0</text>
<line x1="215.5" y1="1085" x2="215.5" y2="1092.5" stroke="#000" stroke-width="3"/>
<text x="0" y="0" font-size="100" font-weight="normal" font-style="normal" fill="#222222" transform="translate(206.94 1124.81) scale(0.37700 0.34300)" >0</text>
<line x1="393.6" y1="1085" x2="393.6" y2="1092.5" stroke="#000" stroke-width="3"/>
<text x="0" y="0" font-size="100" font-weight="normal" font-style="normal" fill="#222222" transform="translate(374.53 1124.81) scale(0.37700 0.34300)" >20</text>
<line x1="571.8" y1="1085" x2="571.8" y2="1092.5" stroke="#000" stroke-width="3"/>
<text x="0" y="0" font-size="100" font-weight="normal" font-style="normal" fill="#222222" transform="translate(553.23 1124.81) scale(0.37700 0.34300)" >40</text>
<line x1="749.9" y1="1085" x2="749.9" y2="1092.5" stroke="#000" stroke-width="3"/>
<text x="0" y="0" font-size="100" font-weight="normal" font-style="normal" fill="#222222" transform="translate(730.81 1124.81) scale(0.37700 0.34300)" >60</text>
<line x1="928.1" y1="1085" x2="928.1" y2="1092.5" stroke="#000" stroke-width="3"/>
<text x="0" y="0" font-size="100" font-weight="normal" font-style="normal" fill="#222222" transform="translate(909.14 1124.81) scale(0.37700 0.34300)" >80</text>
<line x1="1106.2" y1="1085" x2="1106.2" y2="1092.5" stroke="#000" stroke-width="3"/>
<text x="0" y="0" font-size="100" font-weight="normal" font-style="normal" fill="#222222" transform="translate(1075.97 1124.81) scale(0.37700 0.34300)" >100</text>
<text x="0" y="0" font-size="100" font-weight="normal" font-style="normal" fill="#262626" transform="translate(462.74 1163.28) scale(0.38719 0.38191)" ><tspan font-style="italic">Arahy</tspan>.07 map length (Mb)</text>
<text x="0" y="0" font-size="100" font-weight="normal" font-style="normal" fill="#3a3a3a" transform="translate(104.11 978.09) rotate(-90) scale(0.25819 0.34255)" >SNP-index (Sb)</text>
<rect x="209.0" y="1356.0" width="25.0" height="252.0" rx="6" fill="#2e7b3f"/>
<ellipse cx="225.1" cy="1475.4" rx="6.6" ry="5.2" fill="#2e7b3f"/><ellipse cx="213.3" cy="1525.3" rx="6.6" ry="5.2" fill="#2e7b3f"/><ellipse cx="218.6" cy="1354.8" rx="6.6" ry="5.2" fill="#2e7b3f"/><ellipse cx="228.6" cy="1423.3" rx="6.6" ry="5.2" fill="#2e7b3f"/><ellipse cx="223.8" cy="1531.6" rx="6.6" ry="5.2" fill="#2e7b3f"/><ellipse cx="225.2" cy="1497.1" rx="6.6" ry="5.2" fill="#2e7b3f"/><ellipse cx="220.1" cy="1389.8" rx="6.6" ry="5.2" fill="#2e7b3f"/><ellipse cx="230.8" cy="1394.2" rx="6.6" ry="5.2" fill="#2e7b3f"/><ellipse cx="228.8" cy="1367.3" rx="6.6" ry="5.2" fill="#2e7b3f"/><ellipse cx="225.8" cy="1371.4" rx="6.6" ry="5.2" fill="#2e7b3f"/><ellipse cx="219.3" cy="1439.6" rx="6.6" ry="5.2" fill="#2e7b3f"/><ellipse cx="210.4" cy="1571.0" rx="6.6" ry="5.2" fill="#2e7b3f"/><ellipse cx="231.0" cy="1367.8" rx="6.6" ry="5.2" fill="#2e7b3f"/><ellipse cx="212.1" cy="1484.3" rx="6.6" ry="5.2" fill="#2e7b3f"/><ellipse cx="231.8" cy="1608.7" rx="6.6" ry="5.2" fill="#2e7b3f"/><ellipse cx="219.7" cy="1381.3" rx="6.6" ry="5.2" fill="#2e7b3f"/><ellipse cx="217.2" cy="1387.1" rx="6.6" ry="5.2" fill="#2e7b3f"/><ellipse cx="213.8" cy="1513.6" rx="6.6" ry="5.2" fill="#2e7b3f"/><ellipse cx="211.2" cy="1533.2" rx="6.6" ry="5.2" fill="#2e7b3f"/><ellipse cx="228.8" cy="1396.5" rx="6.6" ry="5.2" fill="#2e7b3f"/><ellipse cx="219.6" cy="1456.1" rx="6.6" ry="5.2" fill="#2e7b3f"/><ellipse cx="221.0" cy="1507.0" rx="6.6" ry="5.2" fill="#2e7b3f"/><ellipse cx="210.7" cy="1452.0" rx="6.6" ry="5.2" fill="#2e7b3f"/><ellipse cx="232.3" cy="1540.8" rx="6.6" ry="5.2" fill="#2e7b3f"/><ellipse cx="225.3" cy="1605.8" rx="6.6" ry="5.2" fill="#2e7b3f"/><ellipse cx="218.4" cy="1444.6" rx="6.6" ry="5.2" fill="#2e7b3f"/><ellipse cx="225.5" cy="1531.4" rx="6.6" ry="5.2" fill="#2e7b3f"/><ellipse cx="215.4" cy="1381.6" rx="6.6" ry="5.2" fill="#2e7b3f"/><ellipse cx="221.8" cy="1446.5" rx="6.6" ry="5.2" fill="#2e7b3f"/><ellipse cx="221.5" cy="1562.6" rx="6.6" ry="5.2" fill="#2e7b3f"/><ellipse cx="228.9" cy="1359.3" rx="6.6" ry="5.2" fill="#2e7b3f"/><ellipse cx="221.9" cy="1463.8" rx="6.6" ry="5.2" fill="#2e7b3f"/><ellipse cx="219.8" cy="1409.8" rx="6.6" ry="5.2" fill="#2e7b3f"/><ellipse cx="227.8" cy="1452.9" rx="6.6" ry="5.2" fill="#2e7b3f"/><ellipse cx="222.6" cy="1378.7" rx="6.6" ry="5.2" fill="#2e7b3f"/><ellipse cx="226.0" cy="1398.3" rx="6.6" ry="5.2" fill="#2e7b3f"/><ellipse cx="216.4" cy="1361.6" rx="6.6" ry="5.2" fill="#2e7b3f"/><ellipse cx="224.6" cy="1441.5" rx="6.6" ry="5.2" fill="#2e7b3f"/><ellipse cx="220.6" cy="1365.5" rx="6.6" ry="5.2" fill="#2e7b3f"/><ellipse cx="216.5" cy="1406.3" rx="6.6" ry="5.2" fill="#2e7b3f"/><ellipse cx="232.1" cy="1475.8" rx="6.6" ry="5.2" fill="#2e7b3f"/><ellipse cx="232.0" cy="1477.1" rx="6.6" ry="5.2" fill="#2e7b3f"/><ellipse cx="231.3" cy="1395.6" rx="6.6" ry="5.2" fill="#2e7b3f"/><ellipse cx="214.4" cy="1446.7" rx="6.6" ry="5.2" fill="#2e7b3f"/><ellipse cx="231.0" cy="1546.6" rx="6.6" ry="5.2" fill="#2e7b3f"/><ellipse cx="216.2" cy="1353.7" rx="6.6" ry="5.2" fill="#2e7b3f"/><ellipse cx="217.9" cy="1552.4" rx="6.6" ry="5.2" fill="#2e7b3f"/><ellipse cx="210.2" cy="1414.8" rx="6.6" ry="5.2" fill="#2e7b3f"/><ellipse cx="224.2" cy="1362.4" rx="6.6" ry="5.2" fill="#2e7b3f"/><ellipse cx="233.0" cy="1607.8" rx="6.6" ry="5.2" fill="#2e7b3f"/><ellipse cx="210.5" cy="1482.9" rx="6.6" ry="5.2" fill="#2e7b3f"/><ellipse cx="228.1" cy="1435.8" rx="6.6" ry="5.2" fill="#2e7b3f"/><ellipse cx="224.7" cy="1568.3" rx="6.6" ry="5.2" fill="#2e7b3f"/><ellipse cx="222.1" cy="1411.7" rx="6.6" ry="5.2" fill="#2e7b3f"/><ellipse cx="224.4" cy="1476.1" rx="6.6" ry="5.2" fill="#2e7b3f"/><ellipse cx="231.8" cy="1420.3" rx="6.6" ry="5.2" fill="#2e7b3f"/><ellipse cx="213.7" cy="1584.5" rx="6.6" ry="5.2" fill="#2e7b3f"/><ellipse cx="230.1" cy="1427.7" rx="6.6" ry="5.2" fill="#2e7b3f"/><ellipse cx="231.7" cy="1424.4" rx="6.6" ry="5.2" fill="#2e7b3f"/><ellipse cx="226.0" cy="1485.9" rx="6.6" ry="5.2" fill="#2e7b3f"/><ellipse cx="214.9" cy="1535.2" rx="6.6" ry="5.2" fill="#2e7b3f"/><ellipse cx="215.9" cy="1426.1" rx="6.6" ry="5.2" fill="#2e7b3f"/><ellipse cx="226.0" cy="1529.7" rx="6.6" ry="5.2" fill="#2e7b3f"/><ellipse cx="230.4" cy="1386.3" rx="6.6" ry="5.2" fill="#2e7b3f"/><ellipse cx="215.5" cy="1461.3" rx="6.6" ry="5.2" fill="#2e7b3f"/><ellipse cx="232.5" cy="1465.2" rx="6.6" ry="5.2" fill="#2e7b3f"/><ellipse cx="224.4" cy="1497.6" rx="6.6" ry="5.2" fill="#2e7b3f"/><ellipse cx="232.1" cy="1591.2" rx="6.6" ry="5.2" fill="#2e7b3f"/><ellipse cx="219.6" cy="1549.7" rx="6.6" ry="5.2" fill="#2e7b3f"/><ellipse cx="230.7" cy="1505.0" rx="6.6" ry="5.2" fill="#2e7b3f"/><ellipse cx="223.3" cy="1557.2" rx="6.6" ry="5.2" fill="#2e7b3f"/><ellipse cx="218.5" cy="1442.3" rx="6.6" ry="5.2" fill="#2e7b3f"/><ellipse cx="223.0" cy="1543.3" rx="6.6" ry="5.2" fill="#2e7b3f"/><ellipse cx="226.3" cy="1356.4" rx="6.6" ry="5.2" fill="#2e7b3f"/><ellipse cx="228.3" cy="1587.0" rx="6.6" ry="5.2" fill="#2e7b3f"/><ellipse cx="230.9" cy="1585.3" rx="6.6" ry="5.2" fill="#2e7b3f"/><ellipse cx="228.1" cy="1491.1" rx="6.6" ry="5.2" fill="#2e7b3f"/><ellipse cx="212.3" cy="1450.7" rx="6.6" ry="5.2" fill="#2e7b3f"/><ellipse cx="217.2" cy="1443.8" rx="6.6" ry="5.2" fill="#2e7b3f"/><ellipse cx="225.8" cy="1594.8" rx="6.6" ry="5.2" fill="#2e7b3f"/><ellipse cx="224.3" cy="1492.8" rx="6.6" ry="5.2" fill="#2e7b3f"/><ellipse cx="222.3" cy="1384.4" rx="6.6" ry="5.2" fill="#2e7b3f"/><ellipse cx="219.1" cy="1534.2" rx="6.6" ry="5.2" fill="#2e7b3f"/><ellipse cx="219.4" cy="1415.9" rx="6.6" ry="5.2" fill="#2e7b3f"/><ellipse cx="225.8" cy="1436.1" rx="6.6" ry="5.2" fill="#2e7b3f"/><ellipse cx="212.1" cy="1388.9" rx="6.6" ry="5.2" fill="#2e7b3f"/><ellipse cx="226.0" cy="1433.2" rx="6.6" ry="5.2" fill="#2e7b3f"/><ellipse cx="225.2" cy="1549.5" rx="6.6" ry="5.2" fill="#2e7b3f"/><ellipse cx="218.4" cy="1595.0" rx="6.6" ry="5.2" fill="#2e7b3f"/><ellipse cx="221.2" cy="1359.7" rx="6.6" ry="5.2" fill="#2e7b3f"/><ellipse cx="214.1" cy="1467.4" rx="6.6" ry="5.2" fill="#2e7b3f"/><ellipse cx="217.8" cy="1525.5" rx="6.6" ry="5.2" fill="#2e7b3f"/><ellipse cx="217.5" cy="1414.0" rx="6.6" ry="5.2" fill="#2e7b3f"/><ellipse cx="210.2" cy="1597.4" rx="6.6" ry="5.2" fill="#2e7b3f"/><ellipse cx="216.4" cy="1445.7" rx="6.6" ry="5.2" fill="#2e7b3f"/><ellipse cx="219.9" cy="1404.3" rx="6.6" ry="5.2" fill="#2e7b3f"/><ellipse cx="231.1" cy="1409.3" rx="6.6" ry="5.2" fill="#2e7b3f"/><ellipse cx="226.1" cy="1482.3" rx="6.6" ry="5.2" fill="#2e7b3f"/><ellipse cx="220.7" cy="1394.2" rx="6.6" ry="5.2" fill="#2e7b3f"/><ellipse cx="229.4" cy="1509.7" rx="6.6" ry="5.2" fill="#2e7b3f"/><ellipse cx="220.6" cy="1417.0" rx="6.6" ry="5.2" fill="#2e7b3f"/><ellipse cx="229.1" cy="1574.3" rx="6.6" ry="5.2" fill="#2e7b3f"/><ellipse cx="222.4" cy="1411.2" rx="6.6" ry="5.2" fill="#2e7b3f"/><ellipse cx="219.1" cy="1549.9" rx="6.6" ry="5.2" fill="#2e7b3f"/><ellipse cx="225.3" cy="1527.1" rx="6.6" ry="5.2" fill="#2e7b3f"/><ellipse cx="222.7" cy="1604.8" rx="6.6" ry="5.2" fill="#2e7b3f"/><ellipse cx="218.1" cy="1529.0" rx="6.6" ry="5.2" fill="#2e7b3f"/><ellipse cx="217.4" cy="1542.4" rx="6.6" ry="5.2" fill="#2e7b3f"/><ellipse cx="218.3" cy="1482.0" rx="6.6" ry="5.2" fill="#2e7b3f"/><ellipse cx="213.1" cy="1431.9" rx="6.6" ry="5.2" fill="#2e7b3f"/><ellipse cx="222.5" cy="1410.7" rx="6.6" ry="5.2" fill="#2e7b3f"/><ellipse cx="211.1" cy="1417.5" rx="6.6" ry="5.2" fill="#2e7b3f"/><ellipse cx="216.6" cy="1560.9" rx="6.6" ry="5.2" fill="#2e7b3f"/><ellipse cx="223.8" cy="1595.4" rx="6.6" ry="5.2" fill="#2e7b3f"/><ellipse cx="230.1" cy="1453.2" rx="6.6" ry="5.2" fill="#2e7b3f"/><ellipse cx="217.4" cy="1585.3" rx="6.6" ry="5.2" fill="#2e7b3f"/><ellipse cx="224.7" cy="1384.7" rx="6.6" ry="5.2" fill="#2e7b3f"/><ellipse cx="224.0" cy="1571.1" rx="6.6" ry="5.2" fill="#2e7b3f"/><ellipse cx="219.5" cy="1555.9" rx="6.6" ry="5.2" fill="#2e7b3f"/><ellipse cx="216.1" cy="1512.6" rx="6.6" ry="5.2" fill="#2e7b3f"/><ellipse cx="218.7" cy="1457.8" rx="6.6" ry="5.2" fill="#2e7b3f"/><ellipse cx="219.2" cy="1452.0" rx="6.6" ry="5.2" fill="#2e7b3f"/><ellipse cx="213.9" cy="1561.9" rx="6.6" ry="5.2" fill="#2e7b3f"/><ellipse cx="215.9" cy="1405.3" rx="6.6" ry="5.2" fill="#2e7b3f"/><ellipse cx="222.0" cy="1604.5" rx="6.6" ry="5.2" fill="#2e7b3f"/><ellipse cx="229.2" cy="1365.8" rx="6.6" ry="5.2" fill="#2e7b3f"/><ellipse cx="228.9" cy="1579.1" rx="6.6" ry="5.2" fill="#2e7b3f"/><ellipse cx="226.9" cy="1445.3" rx="6.6" ry="5.2" fill="#2e7b3f"/><ellipse cx="213.2" cy="1431.4" rx="6.6" ry="5.2" fill="#2e7b3f"/><ellipse cx="229.2" cy="1577.0" rx="6.6" ry="5.2" fill="#2e7b3f"/><ellipse cx="230.2" cy="1406.9" rx="6.6" ry="5.2" fill="#2e7b3f"/><ellipse cx="217.1" cy="1358.4" rx="6.6" ry="5.2" fill="#2e7b3f"/><ellipse cx="213.9" cy="1355.4" rx="6.6" ry="5.2" fill="#2e7b3f"/><ellipse cx="226.5" cy="1394.4" rx="6.6" ry="5.2" fill="#2e7b3f"/><ellipse cx="214.4" cy="1429.1" rx="6.6" ry="5.2" fill="#2e7b3f"/><ellipse cx="217.2" cy="1399.9" rx="6.6" ry="5.2" fill="#2e7b3f"/><ellipse cx="224.0" cy="1576.2" rx="6.6" ry="5.2" fill="#2e7b3f"/><ellipse cx="225.8" cy="1378.6" rx="6.6" ry="5.2" fill="#2e7b3f"/><ellipse cx="220.3" cy="1491.4" rx="6.6" ry="5.2" fill="#2e7b3f"/><ellipse cx="225.0" cy="1489.2" rx="6.6" ry="5.2" fill="#2e7b3f"/><ellipse cx="221.6" cy="1560.2" rx="6.6" ry="5.2" fill="#2e7b3f"/><ellipse cx="220.7" cy="1517.2" rx="6.6" ry="5.2" fill="#2e7b3f"/><ellipse cx="218.9" cy="1516.9" rx="6.6" ry="5.2" fill="#2e7b3f"/><ellipse cx="221.9" cy="1459.9" rx="6.6" ry="5.2" fill="#2e7b3f"/><ellipse cx="216.4" cy="1537.9" rx="6.6" ry="5.2" fill="#2e7b3f"/><ellipse cx="221.3" cy="1592.5" rx="6.6" ry="5.2" fill="#2e7b3f"/><ellipse cx="225.9" cy="1574.4" rx="6.6" ry="5.2" fill="#2e7b3f"/><ellipse cx="225.7" cy="1600.6" rx="6.6" ry="5.2" fill="#2e7b3f"/><ellipse cx="219.3" cy="1463.0" rx="6.6" ry="5.2" fill="#2e7b3f"/><ellipse cx="227.3" cy="1510.0" rx="6.6" ry="5.2" fill="#2e7b3f"/><ellipse cx="213.0" cy="1570.2" rx="6.6" ry="5.2" fill="#2e7b3f"/><ellipse cx="212.5" cy="1368.2" rx="6.6" ry="5.2" fill="#2e7b3f"/><ellipse cx="211.3" cy="1373.9" rx="6.6" ry="5.2" fill="#2e7b3f"/><ellipse cx="215.7" cy="1354.2" rx="6.6" ry="5.2" fill="#2e7b3f"/><ellipse cx="225.8" cy="1381.4" rx="6.6" ry="5.2" fill="#2e7b3f"/><ellipse cx="232.2" cy="1512.1" rx="6.6" ry="5.2" fill="#2e7b3f"/><ellipse cx="227.2" cy="1601.7" rx="6.6" ry="5.2" fill="#2e7b3f"/><ellipse cx="210.6" cy="1598.9" rx="6.6" ry="5.2" fill="#2e7b3f"/><ellipse cx="231.3" cy="1411.3" rx="6.6" ry="5.2" fill="#2e7b3f"/><ellipse cx="214.8" cy="1475.6" rx="6.6" ry="5.2" fill="#2e7b3f"/>
<ellipse cx="232.2" cy="1325.0" rx="6.6" ry="5.2" fill="#2e7b3f"/><ellipse cx="265.3" cy="1341.4" rx="6.6" ry="5.2" fill="#2e7b3f"/><ellipse cx="357.7" cy="1328.1" rx="6.6" ry="5.2" fill="#2e7b3f"/><ellipse cx="471.1" cy="1258.8" rx="6.6" ry="5.2" fill="#2e7b3f"/><ellipse cx="484.4" cy="1313.9" rx="6.6" ry="5.2" fill="#2e7b3f"/><ellipse cx="470.2" cy="1331.3" rx="6.6" ry="5.2" fill="#2e7b3f"/><ellipse cx="484.4" cy="1339.2" rx="6.6" ry="5.2" fill="#2e7b3f"/><ellipse cx="462.3" cy="1348.6" rx="6.6" ry="5.2" fill="#2e7b3f"/><ellipse cx="436.5" cy="1356.5" rx="6.6" ry="5.2" fill="#2e7b3f"/><ellipse cx="408.7" cy="1373.8" rx="6.6" ry="5.2" fill="#2e7b3f"/><ellipse cx="533.2" cy="1356.5" rx="6.6" ry="5.2" fill="#2e7b3f"/><ellipse cx="249.6" cy="1391.2" rx="6.6" ry="5.2" fill="#2e7b3f"/><ellipse cx="270.1" cy="1430.6" rx="6.6" ry="5.2" fill="#2e7b3f"/><ellipse cx="306.3" cy="1433.7" rx="6.6" ry="5.2" fill="#2e7b3f"/><ellipse cx="394.6" cy="1403.1" rx="6.6" ry="5.2" fill="#2e7b3f"/><ellipse cx="399.3" cy="1438.4" rx="6.6" ry="5.2" fill="#2e7b3f"/><ellipse cx="330.0" cy="1447.9" rx="6.6" ry="5.2" fill="#2e7b3f"/><ellipse cx="358.3" cy="1396.8" rx="6.6" ry="5.2" fill="#2e7b3f"/><ellipse cx="434.0" cy="1397.5" rx="6.6" ry="5.2" fill="#2e7b3f"/><ellipse cx="449.7" cy="1433.7" rx="6.6" ry="5.2" fill="#2e7b3f"/><ellipse cx="482.8" cy="1405.3" rx="6.6" ry="5.2" fill="#2e7b3f"/><ellipse cx="462.3" cy="1459.9" rx="6.6" ry="5.2" fill="#2e7b3f"/><ellipse cx="509.6" cy="1447.9" rx="6.6" ry="5.2" fill="#2e7b3f"/><ellipse cx="536.4" cy="1430.6" rx="6.6" ry="5.2" fill="#2e7b3f"/><ellipse cx="541.1" cy="1441.6" rx="6.6" ry="5.2" fill="#2e7b3f"/><ellipse cx="552.1" cy="1445.4" rx="6.6" ry="5.2" fill="#2e7b3f"/><ellipse cx="578.9" cy="1436.9" rx="6.6" ry="5.2" fill="#2e7b3f"/><ellipse cx="605.7" cy="1413.2" rx="6.6" ry="5.2" fill="#2e7b3f"/><ellipse cx="591.5" cy="1466.2" rx="6.6" ry="5.2" fill="#2e7b3f"/><ellipse cx="611.1" cy="1468.4" rx="6.6" ry="5.2" fill="#2e7b3f"/><ellipse cx="634.1" cy="1469.3" rx="6.6" ry="5.2" fill="#2e7b3f"/><ellipse cx="290.6" cy="1473.1" rx="6.6" ry="5.2" fill="#2e7b3f"/><ellipse cx="290.6" cy="1484.1" rx="6.6" ry="5.2" fill="#2e7b3f"/><ellipse cx="341.0" cy="1492.0" rx="6.6" ry="5.2" fill="#2e7b3f"/><ellipse cx="370.9" cy="1485.1" rx="6.6" ry="5.2" fill="#2e7b3f"/><ellipse cx="383.5" cy="1465.2" rx="6.6" ry="5.2" fill="#2e7b3f"/><ellipse cx="383.5" cy="1473.1" rx="6.6" ry="5.2" fill="#2e7b3f"/><ellipse cx="476.5" cy="1493.6" rx="6.6" ry="5.2" fill="#2e7b3f"/><ellipse cx="533.2" cy="1499.9" rx="6.6" ry="5.2" fill="#2e7b3f"/><ellipse cx="588.4" cy="1507.8" rx="6.6" ry="5.2" fill="#2e7b3f"/><ellipse cx="611.1" cy="1504.6" rx="6.6" ry="5.2" fill="#2e7b3f"/><ellipse cx="314.2" cy="1528.3" rx="6.6" ry="5.2" fill="#2e7b3f"/><ellipse cx="386.7" cy="1517.2" rx="6.6" ry="5.2" fill="#2e7b3f"/><ellipse cx="484.4" cy="1528.3" rx="6.6" ry="5.2" fill="#2e7b3f"/><ellipse cx="610.4" cy="1533.0" rx="6.6" ry="5.2" fill="#2e7b3f"/><ellipse cx="634.1" cy="1532.4" rx="6.6" ry="5.2" fill="#2e7b3f"/><ellipse cx="470.2" cy="1542.4" rx="6.6" ry="5.2" fill="#2e7b3f"/><ellipse cx="413.5" cy="1555.7" rx="6.6" ry="5.2" fill="#2e7b3f"/><ellipse cx="389.2" cy="1580.9" rx="6.6" ry="5.2" fill="#2e7b3f"/><ellipse cx="413.5" cy="1578.7" rx="6.6" ry="5.2" fill="#2e7b3f"/><ellipse cx="459.2" cy="1570.8" rx="6.6" ry="5.2" fill="#2e7b3f"/><ellipse cx="470.2" cy="1574.0" rx="6.6" ry="5.2" fill="#2e7b3f"/><ellipse cx="528.5" cy="1581.8" rx="6.6" ry="5.2" fill="#2e7b3f"/><ellipse cx="558.4" cy="1581.8" rx="6.6" ry="5.2" fill="#2e7b3f"/><ellipse cx="528.5" cy="1613.3" rx="6.6" ry="5.2" fill="#2e7b3f"/><ellipse cx="601.0" cy="1613.3" rx="6.6" ry="5.2" fill="#2e7b3f"/><ellipse cx="605.7" cy="1414.0" rx="6.6" ry="5.2" fill="#2e7b3f"/><ellipse cx="611.3" cy="1469.3" rx="6.6" ry="5.2" fill="#2e7b3f"/><ellipse cx="636.9" cy="1469.3" rx="6.6" ry="5.2" fill="#2e7b3f"/><ellipse cx="611.3" cy="1533.1" rx="6.6" ry="5.2" fill="#2e7b3f"/><ellipse cx="636.9" cy="1531.7" rx="6.6" ry="5.2" fill="#2e7b3f"/><ellipse cx="600.0" cy="1612.5" rx="6.6" ry="5.2" fill="#2e7b3f"/><ellipse cx="826.9" cy="1612.5" rx="6.6" ry="5.2" fill="#2e7b3f"/><ellipse cx="696.4" cy="1266.5" rx="6.6" ry="5.2" fill="#2e7b3f"/><ellipse cx="736.1" cy="1249.5" rx="6.6" ry="5.2" fill="#2e7b3f"/><ellipse cx="716.3" cy="1260.8" rx="6.6" ry="5.2" fill="#2e7b3f"/><ellipse cx="781.5" cy="1250.9" rx="6.6" ry="5.2" fill="#2e7b3f"/><ellipse cx="775.8" cy="1258.0" rx="6.6" ry="5.2" fill="#2e7b3f"/><ellipse cx="838.2" cy="1252.3" rx="6.6" ry="5.2" fill="#2e7b3f"/><ellipse cx="829.7" cy="1263.7" rx="6.6" ry="5.2" fill="#2e7b3f"/><ellipse cx="863.8" cy="1269.3" rx="6.6" ry="5.2" fill="#2e7b3f"/><ellipse cx="787.2" cy="1275.0" rx="6.6" ry="5.2" fill="#2e7b3f"/><ellipse cx="815.5" cy="1273.6" rx="6.6" ry="5.2" fill="#2e7b3f"/><ellipse cx="798.5" cy="1280.7" rx="6.6" ry="5.2" fill="#2e7b3f"/><ellipse cx="895.0" cy="1317.5" rx="6.6" ry="5.2" fill="#2e7b3f"/><ellipse cx="895.0" cy="1426.7" rx="6.6" ry="5.2" fill="#2e7b3f"/><ellipse cx="676.6" cy="1544.4" rx="6.6" ry="5.2" fill="#2e7b3f"/><ellipse cx="696.4" cy="1560.0" rx="6.6" ry="5.2" fill="#2e7b3f"/><ellipse cx="722.0" cy="1548.7" rx="6.6" ry="5.2" fill="#2e7b3f"/><ellipse cx="722.0" cy="1585.6" rx="6.6" ry="5.2" fill="#2e7b3f"/><ellipse cx="756.0" cy="1574.2" rx="6.6" ry="5.2" fill="#2e7b3f"/><ellipse cx="773.0" cy="1540.2" rx="6.6" ry="5.2" fill="#2e7b3f"/><ellipse cx="821.2" cy="1545.9" rx="6.6" ry="5.2" fill="#2e7b3f"/><ellipse cx="832.6" cy="1561.4" rx="6.6" ry="5.2" fill="#2e7b3f"/><ellipse cx="860.9" cy="1574.2" rx="6.6" ry="5.2" fill="#2e7b3f"/><ellipse cx="835.4" cy="1595.5" rx="6.6" ry="5.2" fill="#2e7b3f"/><ellipse cx="917.6" cy="1545.9" rx="6.6" ry="5.2" fill="#2e7b3f"/><ellipse cx="923.3" cy="1533.1" rx="6.6" ry="5.2" fill="#2e7b3f"/><ellipse cx="914.8" cy="1548.7" rx="6.6" ry="5.2" fill="#2e7b3f"/><ellipse cx="222.0" cy="1318.0" rx="6.6" ry="5.2" fill="#2e7b3f"/><ellipse cx="230.0" cy="1340.0" rx="6.6" ry="5.2" fill="#2e7b3f"/>
<path d="M682.0,1321.7 L687.0,1315.1 L691.9,1314.2 L696.9,1322.0 L701.8,1315.5 L706.8,1315.0 L711.7,1319.2 L716.6,1316.8 L721.6,1321.1 L726.5,1315.9 L731.5,1321.7 L736.5,1316.6 L741.4,1318.8 L746.4,1321.5 L751.3,1319.5 L756.2,1321.4 L761.2,1319.7 L766.1,1314.4 L771.1,1321.1 L776.0,1318.7 L781.0,1316.5 L786.0,1315.5 L790.9,1320.8 L795.9,1318.7 L800.8,1321.5 L805.8,1320.2 L810.7,1321.7 L815.6,1318.5 L820.6,1319.6 L825.5,1318.9 L830.5,1316.1 L835.5,1321.7 L840.4,1316.5 L845.4,1320.2 L850.3,1321.6 L855.2,1319.2 L860.2,1315.1 L865.1,1320.6 L870.1,1319.3 L875.0,1315.5 L880.0,1314.4 L880.1,1318.0 L878.1,1336.4 L881.7,1354.8 L880.0,1373.2 L880.1,1391.6 L879.6,1410.0 L880.6,1428.4 L881.7,1446.8 L879.2,1465.2 L879.5,1483.6 L880.3,1502.0 L880.0,1500.4 L875.0,1502.8 L870.1,1502.3 L865.1,1501.5 L860.2,1503.4 L855.2,1502.2 L850.3,1498.7 L845.4,1506.0 L840.4,1500.8 L835.5,1501.5 L830.5,1501.2 L825.5,1505.4 L820.6,1505.6 L815.6,1502.1 L810.7,1501.2 L805.8,1498.8 L800.8,1505.2 L795.9,1499.4 L790.9,1502.4 L786.0,1500.8 L781.0,1500.6 L776.0,1500.9 L771.1,1499.5 L766.1,1498.3 L761.2,1502.3 L756.2,1504.4 L751.3,1503.2 L746.4,1499.6 L741.4,1503.5 L736.5,1498.4 L731.5,1501.3 L726.5,1504.6 L721.6,1505.4 L716.6,1501.7 L711.7,1504.8 L706.8,1502.0 L701.8,1502.2 L696.9,1502.7 L691.9,1505.9 L687.0,1503.9 L682.0,1501.8 L682.9,1502.0 L682.6,1483.6 L681.4,1465.2 L683.1,1446.8 L683.3,1428.4 L682.4,1410.0 L683.8,1391.6 L680.1,1373.2 L682.0,1354.8 L682.5,1336.4 L681.4,1318.0 Z" fill="#2e7b3f"/>
<ellipse cx="874.5" cy="1310.0" rx="6.6" ry="5.2" fill="#2e7b3f"/><ellipse cx="874.5" cy="1498.3" rx="6.6" ry="5.2" fill="#2e7b3f"/><ellipse cx="882.7" cy="1310.6" rx="6.6" ry="5.2" fill="#2e7b3f"/><ellipse cx="882.7" cy="1499.7" rx="6.6" ry="5.2" fill="#2e7b3f"/><ellipse cx="811.9" cy="1312.8" rx="6.6" ry="5.2" fill="#2e7b3f"/><ellipse cx="811.9" cy="1510.5" rx="6.6" ry="5.2" fill="#2e7b3f"/><ellipse cx="726.3" cy="1321.4" rx="6.6" ry="5.2" fill="#2e7b3f"/><ellipse cx="726.3" cy="1502.5" rx="6.6" ry="5.2" fill="#2e7b3f"/><ellipse cx="801.6" cy="1321.0" rx="6.6" ry="5.2" fill="#2e7b3f"/><ellipse cx="801.6" cy="1507.6" rx="6.6" ry="5.2" fill="#2e7b3f"/><ellipse cx="867.5" cy="1317.9" rx="6.6" ry="5.2" fill="#2e7b3f"/><ellipse cx="867.5" cy="1498.7" rx="6.6" ry="5.2" fill="#2e7b3f"/><ellipse cx="858.8" cy="1316.3" rx="6.6" ry="5.2" fill="#2e7b3f"/><ellipse cx="858.8" cy="1502.3" rx="6.6" ry="5.2" fill="#2e7b3f"/><ellipse cx="717.8" cy="1319.9" rx="6.6" ry="5.2" fill="#2e7b3f"/><ellipse cx="717.8" cy="1506.2" rx="6.6" ry="5.2" fill="#2e7b3f"/><ellipse cx="870.3" cy="1318.8" rx="6.6" ry="5.2" fill="#2e7b3f"/><ellipse cx="870.3" cy="1511.5" rx="6.6" ry="5.2" fill="#2e7b3f"/><ellipse cx="794.5" cy="1317.8" rx="6.6" ry="5.2" fill="#2e7b3f"/><ellipse cx="794.5" cy="1506.6" rx="6.6" ry="5.2" fill="#2e7b3f"/><ellipse cx="731.7" cy="1321.4" rx="6.6" ry="5.2" fill="#2e7b3f"/><ellipse cx="731.7" cy="1502.4" rx="6.6" ry="5.2" fill="#2e7b3f"/><ellipse cx="838.3" cy="1321.4" rx="6.6" ry="5.2" fill="#2e7b3f"/><ellipse cx="838.3" cy="1507.1" rx="6.6" ry="5.2" fill="#2e7b3f"/><ellipse cx="708.0" cy="1319.6" rx="6.6" ry="5.2" fill="#2e7b3f"/><ellipse cx="708.0" cy="1507.3" rx="6.6" ry="5.2" fill="#2e7b3f"/><ellipse cx="716.7" cy="1308.7" rx="6.6" ry="5.2" fill="#2e7b3f"/><ellipse cx="716.7" cy="1505.4" rx="6.6" ry="5.2" fill="#2e7b3f"/><ellipse cx="685.6" cy="1321.0" rx="6.6" ry="5.2" fill="#2e7b3f"/><ellipse cx="685.6" cy="1505.1" rx="6.6" ry="5.2" fill="#2e7b3f"/><ellipse cx="784.5" cy="1313.7" rx="6.6" ry="5.2" fill="#2e7b3f"/><ellipse cx="784.5" cy="1507.3" rx="6.6" ry="5.2" fill="#2e7b3f"/><ellipse cx="866.0" cy="1312.3" rx="6.6" ry="5.2" fill="#2e7b3f"/><ellipse cx="866.0" cy="1503.2" rx="6.6" ry="5.2" fill="#2e7b3f"/><ellipse cx="797.8" cy="1312.2" rx="6.6" ry="5.2" fill="#2e7b3f"/><ellipse cx="797.8" cy="1506.3" rx="6.6" ry="5.2" fill="#2e7b3f"/><ellipse cx="789.8" cy="1314.1" rx="6.6" ry="5.2" fill="#2e7b3f"/><ellipse cx="789.8" cy="1507.4" rx="6.6" ry="5.2" fill="#2e7b3f"/><ellipse cx="786.8" cy="1309.2" rx="6.6" ry="5.2" fill="#2e7b3f"/><ellipse cx="786.8" cy="1512.0" rx="6.6" ry="5.2" fill="#2e7b3f"/><ellipse cx="751.6" cy="1314.0" rx="6.6" ry="5.2" fill="#2e7b3f"/><ellipse cx="751.6" cy="1503.6" rx="6.6" ry="5.2" fill="#2e7b3f"/><ellipse cx="868.6" cy="1321.3" rx="6.6" ry="5.2" fill="#2e7b3f"/><ellipse cx="868.6" cy="1505.2" rx="6.6" ry="5.2" fill="#2e7b3f"/><ellipse cx="760.7" cy="1309.4" rx="6.6" ry="5.2" fill="#2e7b3f"/><ellipse cx="760.7" cy="1510.5" rx="6.6" ry="5.2" fill="#2e7b3f"/><ellipse cx="714.0" cy="1315.7" rx="6.6" ry="5.2" fill="#2e7b3f"/><ellipse cx="714.0" cy="1502.9" rx="6.6" ry="5.2" fill="#2e7b3f"/><ellipse cx="746.0" cy="1313.0" rx="6.6" ry="5.2" fill="#2e7b3f"/><ellipse cx="746.0" cy="1500.7" rx="6.6" ry="5.2" fill="#2e7b3f"/><ellipse cx="686.5" cy="1315.5" rx="6.6" ry="5.2" fill="#2e7b3f"/><ellipse cx="686.5" cy="1509.1" rx="6.6" ry="5.2" fill="#2e7b3f"/><ellipse cx="811.0" cy="1310.8" rx="6.6" ry="5.2" fill="#2e7b3f"/><ellipse cx="811.0" cy="1507.7" rx="6.6" ry="5.2" fill="#2e7b3f"/><ellipse cx="689.6" cy="1313.8" rx="6.6" ry="5.2" fill="#2e7b3f"/><ellipse cx="689.6" cy="1509.6" rx="6.6" ry="5.2" fill="#2e7b3f"/><ellipse cx="866.9" cy="1314.4" rx="6.6" ry="5.2" fill="#2e7b3f"/><ellipse cx="866.9" cy="1509.9" rx="6.6" ry="5.2" fill="#2e7b3f"/><ellipse cx="780.7" cy="1315.3" rx="6.6" ry="5.2" fill="#2e7b3f"/><ellipse cx="780.7" cy="1506.2" rx="6.6" ry="5.2" fill="#2e7b3f"/><ellipse cx="881.2" cy="1318.4" rx="6.6" ry="5.2" fill="#2e7b3f"/><ellipse cx="881.2" cy="1504.6" rx="6.6" ry="5.2" fill="#2e7b3f"/><ellipse cx="827.4" cy="1317.0" rx="6.6" ry="5.2" fill="#2e7b3f"/><ellipse cx="827.4" cy="1503.0" rx="6.6" ry="5.2" fill="#2e7b3f"/><ellipse cx="839.0" cy="1319.5" rx="6.6" ry="5.2" fill="#2e7b3f"/><ellipse cx="839.0" cy="1506.5" rx="6.6" ry="5.2" fill="#2e7b3f"/><ellipse cx="871.3" cy="1308.3" rx="6.6" ry="5.2" fill="#2e7b3f"/><ellipse cx="871.3" cy="1505.0" rx="6.6" ry="5.2" fill="#2e7b3f"/><ellipse cx="808.5" cy="1312.8" rx="6.6" ry="5.2" fill="#2e7b3f"/><ellipse cx="808.5" cy="1500.4" rx="6.6" ry="5.2" fill="#2e7b3f"/><ellipse cx="820.2" cy="1314.1" rx="6.6" ry="5.2" fill="#2e7b3f"/><ellipse cx="820.2" cy="1501.8" rx="6.6" ry="5.2" fill="#2e7b3f"/><ellipse cx="687.5" cy="1321.5" rx="6.6" ry="5.2" fill="#2e7b3f"/><ellipse cx="687.5" cy="1502.9" rx="6.6" ry="5.2" fill="#2e7b3f"/><ellipse cx="703.1" cy="1311.0" rx="6.6" ry="5.2" fill="#2e7b3f"/><ellipse cx="703.1" cy="1501.6" rx="6.6" ry="5.2" fill="#2e7b3f"/><ellipse cx="855.7" cy="1310.5" rx="6.6" ry="5.2" fill="#2e7b3f"/><ellipse cx="855.7" cy="1501.9" rx="6.6" ry="5.2" fill="#2e7b3f"/><ellipse cx="698.9" cy="1314.6" rx="6.6" ry="5.2" fill="#2e7b3f"/><ellipse cx="698.9" cy="1500.9" rx="6.6" ry="5.2" fill="#2e7b3f"/><ellipse cx="749.2" cy="1318.3" rx="6.6" ry="5.2" fill="#2e7b3f"/><ellipse cx="749.2" cy="1511.0" rx="6.6" ry="5.2" fill="#2e7b3f"/><ellipse cx="849.2" cy="1308.5" rx="6.6" ry="5.2" fill="#2e7b3f"/><ellipse cx="849.2" cy="1503.3" rx="6.6" ry="5.2" fill="#2e7b3f"/><ellipse cx="852.2" cy="1308.5" rx="6.6" ry="5.2" fill="#2e7b3f"/><ellipse cx="852.2" cy="1500.8" rx="6.6" ry="5.2" fill="#2e7b3f"/><ellipse cx="779.0" cy="1313.4" rx="6.6" ry="5.2" fill="#2e7b3f"/><ellipse cx="779.0" cy="1508.5" rx="6.6" ry="5.2" fill="#2e7b3f"/><ellipse cx="825.5" cy="1314.5" rx="6.6" ry="5.2" fill="#2e7b3f"/><ellipse cx="825.5" cy="1501.5" rx="6.6" ry="5.2" fill="#2e7b3f"/><ellipse cx="726.1" cy="1311.7" rx="6.6" ry="5.2" fill="#2e7b3f"/><ellipse cx="726.1" cy="1498.9" rx="6.6" ry="5.2" fill="#2e7b3f"/><ellipse cx="814.8" cy="1310.2" rx="6.6" ry="5.2" fill="#2e7b3f"/><ellipse cx="814.8" cy="1510.5" rx="6.6" ry="5.2" fill="#2e7b3f"/><ellipse cx="810.8" cy="1308.8" rx="6.6" ry="5.2" fill="#2e7b3f"/><ellipse cx="810.8" cy="1505.0" rx="6.6" ry="5.2" fill="#2e7b3f"/><ellipse cx="802.1" cy="1308.6" rx="6.6" ry="5.2" fill="#2e7b3f"/><ellipse cx="802.1" cy="1504.8" rx="6.6" ry="5.2" fill="#2e7b3f"/><ellipse cx="685.1" cy="1318.7" rx="6.6" ry="5.2" fill="#2e7b3f"/><ellipse cx="685.1" cy="1498.1" rx="6.6" ry="5.2" fill="#2e7b3f"/><ellipse cx="807.9" cy="1321.8" rx="6.6" ry="5.2" fill="#2e7b3f"/><ellipse cx="807.9" cy="1509.8" rx="6.6" ry="5.2" fill="#2e7b3f"/><ellipse cx="726.6" cy="1315.5" rx="6.6" ry="5.2" fill="#2e7b3f"/><ellipse cx="726.6" cy="1500.0" rx="6.6" ry="5.2" fill="#2e7b3f"/><ellipse cx="748.8" cy="1320.1" rx="6.6" ry="5.2" fill="#2e7b3f"/><ellipse cx="748.8" cy="1509.4" rx="6.6" ry="5.2" fill="#2e7b3f"/><ellipse cx="680.9" cy="1313.3" rx="6.6" ry="5.2" fill="#2e7b3f"/><ellipse cx="680.9" cy="1507.0" rx="6.6" ry="5.2" fill="#2e7b3f"/><ellipse cx="714.8" cy="1319.2" rx="6.6" ry="5.2" fill="#2e7b3f"/><ellipse cx="714.8" cy="1510.5" rx="6.6" ry="5.2" fill="#2e7b3f"/><ellipse cx="791.5" cy="1313.1" rx="6.6" ry="5.2" fill="#2e7b3f"/><ellipse cx="791.5" cy="1509.9" rx="6.6" ry="5.2" fill="#2e7b3f"/><ellipse cx="783.6" cy="1310.6" rx="6.6" ry="5.2" fill="#2e7b3f"/><ellipse cx="783.6" cy="1501.9" rx="6.6" ry="5.2" fill="#2e7b3f"/><ellipse cx="711.5" cy="1319.7" rx="6.6" ry="5.2" fill="#2e7b3f"/><ellipse cx="711.5" cy="1505.1" rx="6.6" ry="5.2" fill="#2e7b3f"/><ellipse cx="821.1" cy="1319.4" rx="6.6" ry="5.2" fill="#2e7b3f"/><ellipse cx="821.1" cy="1511.6" rx="6.6" ry="5.2" fill="#2e7b3f"/><ellipse cx="717.9" cy="1313.7" rx="6.6" ry="5.2" fill="#2e7b3f"/><ellipse cx="717.9" cy="1510.2" rx="6.6" ry="5.2" fill="#2e7b3f"/><ellipse cx="834.4" cy="1313.4" rx="6.6" ry="5.2" fill="#2e7b3f"/><ellipse cx="834.4" cy="1507.2" rx="6.6" ry="5.2" fill="#2e7b3f"/><ellipse cx="718.8" cy="1310.3" rx="6.6" ry="5.2" fill="#2e7b3f"/><ellipse cx="718.8" cy="1498.7" rx="6.6" ry="5.2" fill="#2e7b3f"/><ellipse cx="756.5" cy="1311.3" rx="6.6" ry="5.2" fill="#2e7b3f"/><ellipse cx="756.5" cy="1505.2" rx="6.6" ry="5.2" fill="#2e7b3f"/><ellipse cx="876.8" cy="1310.1" rx="6.6" ry="5.2" fill="#2e7b3f"/><ellipse cx="876.8" cy="1505.8" rx="6.6" ry="5.2" fill="#2e7b3f"/><ellipse cx="855.4" cy="1316.4" rx="6.6" ry="5.2" fill="#2e7b3f"/><ellipse cx="855.4" cy="1505.4" rx="6.6" ry="5.2" fill="#2e7b3f"/><ellipse cx="835.6" cy="1308.3" rx="6.6" ry="5.2" fill="#2e7b3f"/><ellipse cx="835.6" cy="1511.3" rx="6.6" ry="5.2" fill="#2e7b3f"/><ellipse cx="819.0" cy="1319.3" rx="6.6" ry="5.2" fill="#2e7b3f"/><ellipse cx="819.0" cy="1509.6" rx="6.6" ry="5.2" fill="#2e7b3f"/><ellipse cx="699.1" cy="1308.9" rx="6.6" ry="5.2" fill="#2e7b3f"/><ellipse cx="699.1" cy="1500.5" rx="6.6" ry="5.2" fill="#2e7b3f"/><ellipse cx="782.0" cy="1321.1" rx="6.6" ry="5.2" fill="#2e7b3f"/><ellipse cx="782.0" cy="1510.7" rx="6.6" ry="5.2" fill="#2e7b3f"/><ellipse cx="763.0" cy="1316.7" rx="6.6" ry="5.2" fill="#2e7b3f"/><ellipse cx="763.0" cy="1508.4" rx="6.6" ry="5.2" fill="#2e7b3f"/><ellipse cx="746.8" cy="1321.6" rx="6.6" ry="5.2" fill="#2e7b3f"/><ellipse cx="746.8" cy="1511.2" rx="6.6" ry="5.2" fill="#2e7b3f"/><ellipse cx="827.3" cy="1320.6" rx="6.6" ry="5.2" fill="#2e7b3f"/><ellipse cx="827.3" cy="1509.2" rx="6.6" ry="5.2" fill="#2e7b3f"/><ellipse cx="812.1" cy="1312.5" rx="6.6" ry="5.2" fill="#2e7b3f"/><ellipse cx="812.1" cy="1501.9" rx="6.6" ry="5.2" fill="#2e7b3f"/><ellipse cx="727.6" cy="1308.8" rx="6.6" ry="5.2" fill="#2e7b3f"/><ellipse cx="727.6" cy="1511.0" rx="6.6" ry="5.2" fill="#2e7b3f"/><ellipse cx="739.9" cy="1308.3" rx="6.6" ry="5.2" fill="#2e7b3f"/><ellipse cx="739.9" cy="1502.4" rx="6.6" ry="5.2" fill="#2e7b3f"/><ellipse cx="700.0" cy="1314.2" rx="6.6" ry="5.2" fill="#2e7b3f"/><ellipse cx="700.0" cy="1502.7" rx="6.6" ry="5.2" fill="#2e7b3f"/><ellipse cx="714.8" cy="1314.7" rx="6.6" ry="5.2" fill="#2e7b3f"/><ellipse cx="714.8" cy="1503.8" rx="6.6" ry="5.2" fill="#2e7b3f"/><ellipse cx="751.2" cy="1319.4" rx="6.6" ry="5.2" fill="#2e7b3f"/><ellipse cx="751.2" cy="1502.3" rx="6.6" ry="5.2" fill="#2e7b3f"/><ellipse cx="789.4" cy="1320.3" rx="6.6" ry="5.2" fill="#2e7b3f"/><ellipse cx="789.4" cy="1511.4" rx="6.6" ry="5.2" fill="#2e7b3f"/><ellipse cx="755.4" cy="1308.6" rx="6.6" ry="5.2" fill="#2e7b3f"/><ellipse cx="755.4" cy="1511.3" rx="6.6" ry="5.2" fill="#2e7b3f"/><ellipse cx="783.9" cy="1311.0" rx="6.6" ry="5.2" fill="#2e7b3f"/><ellipse cx="783.9" cy="1499.8" rx="6.6" ry="5.2" fill="#2e7b3f"/><ellipse cx="727.8" cy="1312.3" rx="6.6" ry="5.2" fill="#2e7b3f"/><ellipse cx="727.8" cy="1499.9" rx="6.6" ry="5.2" fill="#2e7b3f"/><ellipse cx="689.0" cy="1321.9" rx="6.6" ry="5.2" fill="#2e7b3f"/><ellipse cx="689.0" cy="1509.5" rx="6.6" ry="5.2" fill="#2e7b3f"/><ellipse cx="702.1" cy="1314.7" rx="6.6" ry="5.2" fill="#2e7b3f"/><ellipse cx="702.1" cy="1509.2" rx="6.6" ry="5.2" fill="#2e7b3f"/><ellipse cx="781.9" cy="1309.0" rx="6.6" ry="5.2" fill="#2e7b3f"/><ellipse cx="781.9" cy="1502.8" rx="6.6" ry="5.2" fill="#2e7b3f"/><ellipse cx="756.7" cy="1320.8" rx="6.6" ry="5.2" fill="#2e7b3f"/><ellipse cx="756.7" cy="1506.2" rx="6.6" ry="5.2" fill="#2e7b3f"/><ellipse cx="772.6" cy="1316.8" rx="6.6" ry="5.2" fill="#2e7b3f"/><ellipse cx="772.6" cy="1498.7" rx="6.6" ry="5.2" fill="#2e7b3f"/><ellipse cx="819.0" cy="1319.3" rx="6.6" ry="5.2" fill="#2e7b3f"/><ellipse cx="819.0" cy="1507.4" rx="6.6" ry="5.2" fill="#2e7b3f"/><ellipse cx="752.6" cy="1312.0" rx="6.6" ry="5.2" fill="#2e7b3f"/><ellipse cx="752.6" cy="1498.1" rx="6.6" ry="5.2" fill="#2e7b3f"/><ellipse cx="695.7" cy="1310.2" rx="6.6" ry="5.2" fill="#2e7b3f"/><ellipse cx="695.7" cy="1504.3" rx="6.6" ry="5.2" fill="#2e7b3f"/><ellipse cx="677.2" cy="1464.5" rx="6.6" ry="5.2" fill="#2e7b3f"/><ellipse cx="881.7" cy="1464.5" rx="6.6" ry="5.2" fill="#2e7b3f"/><ellipse cx="681.3" cy="1436.6" rx="6.6" ry="5.2" fill="#2e7b3f"/><ellipse cx="877.2" cy="1436.6" rx="6.6" ry="5.2" fill="#2e7b3f"/><ellipse cx="680.9" cy="1492.4" rx="6.6" ry="5.2" fill="#2e7b3f"/><ellipse cx="880.0" cy="1492.4" rx="6.6" ry="5.2" fill="#2e7b3f"/><ellipse cx="681.9" cy="1358.9" rx="6.6" ry="5.2" fill="#2e7b3f"/><ellipse cx="886.3" cy="1358.9" rx="6.6" ry="5.2" fill="#2e7b3f"/><ellipse cx="679.0" cy="1378.1" rx="6.6" ry="5.2" fill="#2e7b3f"/><ellipse cx="882.6" cy="1378.1" rx="6.6" ry="5.2" fill="#2e7b3f"/><ellipse cx="679.1" cy="1346.3" rx="6.6" ry="5.2" fill="#2e7b3f"/><ellipse cx="886.2" cy="1346.3" rx="6.6" ry="5.2" fill="#2e7b3f"/><ellipse cx="683.2" cy="1421.1" rx="6.6" ry="5.2" fill="#2e7b3f"/><ellipse cx="879.6" cy="1421.1" rx="6.6" ry="5.2" fill="#2e7b3f"/><ellipse cx="682.8" cy="1482.3" rx="6.6" ry="5.2" fill="#2e7b3f"/><ellipse cx="879.3" cy="1482.3" rx="6.6" ry="5.2" fill="#2e7b3f"/><ellipse cx="681.8" cy="1415.9" rx="6.6" ry="5.2" fill="#2e7b3f"/><ellipse cx="882.7" cy="1415.9" rx="6.6" ry="5.2" fill="#2e7b3f"/><ellipse cx="677.4" cy="1430.0" rx="6.6" ry="5.2" fill="#2e7b3f"/><ellipse cx="882.5" cy="1430.0" rx="6.6" ry="5.2" fill="#2e7b3f"/><ellipse cx="683.0" cy="1381.5" rx="6.6" ry="5.2" fill="#2e7b3f"/><ellipse cx="880.7" cy="1381.5" rx="6.6" ry="5.2" fill="#2e7b3f"/><ellipse cx="680.8" cy="1504.0" rx="6.6" ry="5.2" fill="#2e7b3f"/><ellipse cx="879.3" cy="1504.0" rx="6.6" ry="5.2" fill="#2e7b3f"/><ellipse cx="676.3" cy="1393.5" rx="6.6" ry="5.2" fill="#2e7b3f"/><ellipse cx="884.4" cy="1393.5" rx="6.6" ry="5.2" fill="#2e7b3f"/><ellipse cx="681.0" cy="1321.0" rx="6.6" ry="5.2" fill="#2e7b3f"/><ellipse cx="880.1" cy="1321.0" rx="6.6" ry="5.2" fill="#2e7b3f"/><ellipse cx="676.3" cy="1464.3" rx="6.6" ry="5.2" fill="#2e7b3f"/><ellipse cx="883.8" cy="1464.3" rx="6.6" ry="5.2" fill="#2e7b3f"/><ellipse cx="677.3" cy="1451.9" rx="6.6" ry="5.2" fill="#2e7b3f"/><ellipse cx="878.3" cy="1451.9" rx="6.6" ry="5.2" fill="#2e7b3f"/><ellipse cx="681.5" cy="1385.0" rx="6.6" ry="5.2" fill="#2e7b3f"/><ellipse cx="879.6" cy="1385.0" rx="6.6" ry="5.2" fill="#2e7b3f"/><ellipse cx="679.4" cy="1313.7" rx="6.6" ry="5.2" fill="#2e7b3f"/><ellipse cx="885.1" cy="1313.7" rx="6.6" ry="5.2" fill="#2e7b3f"/><ellipse cx="684.4" cy="1342.9" rx="6.6" ry="5.2" fill="#2e7b3f"/><ellipse cx="882.1" cy="1342.9" rx="6.6" ry="5.2" fill="#2e7b3f"/><ellipse cx="676.0" cy="1343.5" rx="6.6" ry="5.2" fill="#2e7b3f"/><ellipse cx="880.7" cy="1343.5" rx="6.6" ry="5.2" fill="#2e7b3f"/><ellipse cx="676.8" cy="1405.4" rx="6.6" ry="5.2" fill="#2e7b3f"/><ellipse cx="877.8" cy="1405.4" rx="6.6" ry="5.2" fill="#2e7b3f"/><ellipse cx="677.5" cy="1410.2" rx="6.6" ry="5.2" fill="#2e7b3f"/><ellipse cx="881.4" cy="1410.2" rx="6.6" ry="5.2" fill="#2e7b3f"/><ellipse cx="682.0" cy="1400.3" rx="6.6" ry="5.2" fill="#2e7b3f"/><ellipse cx="882.8" cy="1400.3" rx="6.6" ry="5.2" fill="#2e7b3f"/><ellipse cx="676.8" cy="1356.7" rx="6.6" ry="5.2" fill="#2e7b3f"/><ellipse cx="885.6" cy="1356.7" rx="6.6" ry="5.2" fill="#2e7b3f"/><ellipse cx="676.2" cy="1321.9" rx="6.6" ry="5.2" fill="#2e7b3f"/><ellipse cx="877.7" cy="1321.9" rx="6.6" ry="5.2" fill="#2e7b3f"/><ellipse cx="680.4" cy="1474.0" rx="6.6" ry="5.2" fill="#2e7b3f"/><ellipse cx="886.2" cy="1474.0" rx="6.6" ry="5.2" fill="#2e7b3f"/><ellipse cx="678.4" cy="1434.7" rx="6.6" ry="5.2" fill="#2e7b3f"/><ellipse cx="881.3" cy="1434.7" rx="6.6" ry="5.2" fill="#2e7b3f"/><ellipse cx="677.3" cy="1455.5" rx="6.6" ry="5.2" fill="#2e7b3f"/><ellipse cx="885.0" cy="1455.5" rx="6.6" ry="5.2" fill="#2e7b3f"/><ellipse cx="675.4" cy="1391.9" rx="6.6" ry="5.2" fill="#2e7b3f"/><ellipse cx="880.4" cy="1391.9" rx="6.6" ry="5.2" fill="#2e7b3f"/><ellipse cx="676.5" cy="1421.8" rx="6.6" ry="5.2" fill="#2e7b3f"/><ellipse cx="886.1" cy="1421.8" rx="6.6" ry="5.2" fill="#2e7b3f"/><ellipse cx="866.2" cy="1291.5" rx="6.6" ry="5.2" fill="#2e7b3f"/><ellipse cx="861.9" cy="1533.5" rx="6.6" ry="5.2" fill="#2e7b3f"/><ellipse cx="788.6" cy="1276.6" rx="6.6" ry="5.2" fill="#2e7b3f"/><ellipse cx="871.6" cy="1542.0" rx="6.6" ry="5.2" fill="#2e7b3f"/><ellipse cx="771.4" cy="1286.2" rx="6.6" ry="5.2" fill="#2e7b3f"/><ellipse cx="695.7" cy="1530.9" rx="6.6" ry="5.2" fill="#2e7b3f"/><ellipse cx="852.0" cy="1286.3" rx="6.6" ry="5.2" fill="#2e7b3f"/><ellipse cx="738.8" cy="1530.7" rx="6.6" ry="5.2" fill="#2e7b3f"/><ellipse cx="839.7" cy="1277.1" rx="6.6" ry="5.2" fill="#2e7b3f"/><ellipse cx="737.5" cy="1531.8" rx="6.6" ry="5.2" fill="#2e7b3f"/><ellipse cx="689.3" cy="1304.3" rx="6.6" ry="5.2" fill="#2e7b3f"/><ellipse cx="744.1" cy="1538.8" rx="6.6" ry="5.2" fill="#2e7b3f"/><ellipse cx="772.0" cy="1277.0" rx="6.6" ry="5.2" fill="#2e7b3f"/><ellipse cx="684.9" cy="1512.2" rx="6.6" ry="5.2" fill="#2e7b3f"/><ellipse cx="733.1" cy="1301.8" rx="6.6" ry="5.2" fill="#2e7b3f"/><ellipse cx="839.8" cy="1531.4" rx="6.6" ry="5.2" fill="#2e7b3f"/><ellipse cx="742.4" cy="1297.9" rx="6.6" ry="5.2" fill="#2e7b3f"/><ellipse cx="827.5" cy="1521.6" rx="6.6" ry="5.2" fill="#2e7b3f"/><ellipse cx="697.3" cy="1289.7" rx="6.6" ry="5.2" fill="#2e7b3f"/><ellipse cx="725.4" cy="1515.0" rx="6.6" ry="5.2" fill="#2e7b3f"/><ellipse cx="759.1" cy="1273.1" rx="6.6" ry="5.2" fill="#2e7b3f"/><ellipse cx="860.6" cy="1518.4" rx="6.6" ry="5.2" fill="#2e7b3f"/><ellipse cx="860.7" cy="1301.0" rx="6.6" ry="5.2" fill="#2e7b3f"/><ellipse cx="683.2" cy="1541.3" rx="6.6" ry="5.2" fill="#2e7b3f"/><ellipse cx="842.9" cy="1292.1" rx="6.6" ry="5.2" fill="#2e7b3f"/><ellipse cx="857.9" cy="1525.7" rx="6.6" ry="5.2" fill="#2e7b3f"/><ellipse cx="686.0" cy="1276.3" rx="6.6" ry="5.2" fill="#2e7b3f"/><ellipse cx="743.1" cy="1539.7" rx="6.6" ry="5.2" fill="#2e7b3f"/><ellipse cx="846.9" cy="1275.0" rx="6.6" ry="5.2" fill="#2e7b3f"/><ellipse cx="751.0" cy="1512.1" rx="6.6" ry="5.2" fill="#2e7b3f"/><ellipse cx="726.7" cy="1284.8" rx="6.6" ry="5.2" fill="#2e7b3f"/><ellipse cx="763.9" cy="1513.5" rx="6.6" ry="5.2" fill="#2e7b3f"/><ellipse cx="812.5" cy="1280.2" rx="6.6" ry="5.2" fill="#2e7b3f"/><ellipse cx="859.0" cy="1525.8" rx="6.6" ry="5.2" fill="#2e7b3f"/><ellipse cx="766.9" cy="1302.2" rx="6.6" ry="5.2" fill="#2e7b3f"/><ellipse cx="750.0" cy="1517.5" rx="6.6" ry="5.2" fill="#2e7b3f"/><ellipse cx="705.5" cy="1282.4" rx="6.6" ry="5.2" fill="#2e7b3f"/><ellipse cx="727.9" cy="1535.2" rx="6.6" ry="5.2" fill="#2e7b3f"/><ellipse cx="752.0" cy="1299.7" rx="6.6" ry="5.2" fill="#2e7b3f"/><ellipse cx="736.1" cy="1510.6" rx="6.6" ry="5.2" fill="#2e7b3f"/><ellipse cx="742.0" cy="1286.5" rx="6.6" ry="5.2" fill="#2e7b3f"/><ellipse cx="863.0" cy="1515.4" rx="6.6" ry="5.2" fill="#2e7b3f"/><ellipse cx="723.3" cy="1276.6" rx="6.6" ry="5.2" fill="#2e7b3f"/><ellipse cx="731.6" cy="1543.5" rx="6.6" ry="5.2" fill="#2e7b3f"/><ellipse cx="867.4" cy="1279.6" rx="6.6" ry="5.2" fill="#2e7b3f"/><ellipse cx="691.0" cy="1526.0" rx="6.6" ry="5.2" fill="#2e7b3f"/><ellipse cx="797.9" cy="1274.7" rx="6.6" ry="5.2" fill="#2e7b3f"/><ellipse cx="764.6" cy="1536.4" rx="6.6" ry="5.2" fill="#2e7b3f"/><ellipse cx="681.3" cy="1300.2" rx="6.6" ry="5.2" fill="#2e7b3f"/><ellipse cx="818.0" cy="1537.1" rx="6.6" ry="5.2" fill="#2e7b3f"/><ellipse cx="778.4" cy="1289.5" rx="6.6" ry="5.2" fill="#2e7b3f"/><ellipse cx="784.7" cy="1513.0" rx="6.6" ry="5.2" fill="#2e7b3f"/><ellipse cx="783.8" cy="1280.1" rx="6.6" ry="5.2" fill="#2e7b3f"/><ellipse cx="745.2" cy="1509.7" rx="6.6" ry="5.2" fill="#2e7b3f"/><ellipse cx="712.7" cy="1272.3" rx="6.6" ry="5.2" fill="#2e7b3f"/><ellipse cx="789.2" cy="1516.7" rx="6.6" ry="5.2" fill="#2e7b3f"/><ellipse cx="792.1" cy="1291.2" rx="6.6" ry="5.2" fill="#2e7b3f"/><ellipse cx="727.6" cy="1512.7" rx="6.6" ry="5.2" fill="#2e7b3f"/><ellipse cx="800.2" cy="1298.4" rx="6.6" ry="5.2" fill="#2e7b3f"/><ellipse cx="819.1" cy="1526.8" rx="6.6" ry="5.2" fill="#2e7b3f"/><ellipse cx="797.0" cy="1271.0" rx="6.6" ry="5.2" fill="#2e7b3f"/><ellipse cx="742.3" cy="1537.6" rx="6.6" ry="5.2" fill="#2e7b3f"/><ellipse cx="756.4" cy="1274.4" rx="6.6" ry="5.2" fill="#2e7b3f"/><ellipse cx="765.2" cy="1538.9" rx="6.6" ry="5.2" fill="#2e7b3f"/><ellipse cx="700.6" cy="1274.7" rx="6.6" ry="5.2" fill="#2e7b3f"/><ellipse cx="780.7" cy="1540.3" rx="6.6" ry="5.2" fill="#2e7b3f"/><ellipse cx="759.1" cy="1280.4" rx="6.6" ry="5.2" fill="#2e7b3f"/><ellipse cx="834.6" cy="1511.5" rx="6.6" ry="5.2" fill="#2e7b3f"/><ellipse cx="740.1" cy="1295.1" rx="6.6" ry="5.2" fill="#2e7b3f"/><ellipse cx="850.9" cy="1539.9" rx="6.6" ry="5.2" fill="#2e7b3f"/><ellipse cx="746.2" cy="1281.2" rx="6.6" ry="5.2" fill="#2e7b3f"/><ellipse cx="753.7" cy="1512.5" rx="6.6" ry="5.2" fill="#2e7b3f"/><ellipse cx="735.5" cy="1302.2" rx="6.6" ry="5.2" fill="#2e7b3f"/><ellipse cx="876.8" cy="1518.0" rx="6.6" ry="5.2" fill="#2e7b3f"/><ellipse cx="695.5" cy="1301.1" rx="6.6" ry="5.2" fill="#2e7b3f"/><ellipse cx="874.2" cy="1537.4" rx="6.6" ry="5.2" fill="#2e7b3f"/><ellipse cx="763.5" cy="1301.3" rx="6.6" ry="5.2" fill="#2e7b3f"/><ellipse cx="833.1" cy="1535.5" rx="6.6" ry="5.2" fill="#2e7b3f"/><ellipse cx="779.6" cy="1312.0" rx="6.6" ry="5.2" fill="#2e7b3f"/><ellipse cx="837.2" cy="1516.7" rx="6.6" ry="5.2" fill="#2e7b3f"/>
<rect x="912.0" y="1304.0" width="15.0" height="192.0" rx="6" fill="#2e7b3f"/>
<ellipse cx="915.8" cy="1315.5" rx="6.6" ry="5.2" fill="#2e7b3f"/><ellipse cx="924.7" cy="1360.6" rx="6.6" ry="5.2" fill="#2e7b3f"/><ellipse cx="922.4" cy="1399.3" rx="6.6" ry="5.2" fill="#2e7b3f"/><ellipse cx="919.6" cy="1320.0" rx="6.6" ry="5.2" fill="#2e7b3f"/><ellipse cx="919.8" cy="1468.6" rx="6.6" ry="5.2" fill="#2e7b3f"/><ellipse cx="924.5" cy="1488.9" rx="6.6" ry="5.2" fill="#2e7b3f"/><ellipse cx="913.0" cy="1374.2" rx="6.6" ry="5.2" fill="#2e7b3f"/><ellipse cx="914.6" cy="1451.1" rx="6.6" ry="5.2" fill="#2e7b3f"/><ellipse cx="922.5" cy="1301.9" rx="6.6" ry="5.2" fill="#2e7b3f"/><ellipse cx="923.9" cy="1468.6" rx="6.6" ry="5.2" fill="#2e7b3f"/><ellipse cx="915.6" cy="1490.7" rx="6.6" ry="5.2" fill="#2e7b3f"/><ellipse cx="914.6" cy="1316.3" rx="6.6" ry="5.2" fill="#2e7b3f"/><ellipse cx="914.5" cy="1495.5" rx="6.6" ry="5.2" fill="#2e7b3f"/><ellipse cx="913.3" cy="1331.9" rx="6.6" ry="5.2" fill="#2e7b3f"/><ellipse cx="913.5" cy="1309.9" rx="6.6" ry="5.2" fill="#2e7b3f"/><ellipse cx="915.1" cy="1370.6" rx="6.6" ry="5.2" fill="#2e7b3f"/><ellipse cx="925.1" cy="1361.9" rx="6.6" ry="5.2" fill="#2e7b3f"/><ellipse cx="923.6" cy="1333.5" rx="6.6" ry="5.2" fill="#2e7b3f"/><ellipse cx="920.4" cy="1447.7" rx="6.6" ry="5.2" fill="#2e7b3f"/><ellipse cx="923.0" cy="1415.1" rx="6.6" ry="5.2" fill="#2e7b3f"/><ellipse cx="916.0" cy="1417.4" rx="6.6" ry="5.2" fill="#2e7b3f"/><ellipse cx="916.2" cy="1365.9" rx="6.6" ry="5.2" fill="#2e7b3f"/><ellipse cx="925.8" cy="1380.1" rx="6.6" ry="5.2" fill="#2e7b3f"/><ellipse cx="913.9" cy="1385.4" rx="6.6" ry="5.2" fill="#2e7b3f"/><ellipse cx="923.6" cy="1395.3" rx="6.6" ry="5.2" fill="#2e7b3f"/><ellipse cx="922.1" cy="1389.1" rx="6.6" ry="5.2" fill="#2e7b3f"/><ellipse cx="913.8" cy="1318.2" rx="6.6" ry="5.2" fill="#2e7b3f"/><ellipse cx="913.6" cy="1432.3" rx="6.6" ry="5.2" fill="#2e7b3f"/><ellipse cx="918.0" cy="1360.4" rx="6.6" ry="5.2" fill="#2e7b3f"/><ellipse cx="913.5" cy="1338.7" rx="6.6" ry="5.2" fill="#2e7b3f"/><ellipse cx="925.4" cy="1301.3" rx="6.6" ry="5.2" fill="#2e7b3f"/><ellipse cx="925.4" cy="1437.7" rx="6.6" ry="5.2" fill="#2e7b3f"/><ellipse cx="925.4" cy="1398.3" rx="6.6" ry="5.2" fill="#2e7b3f"/><ellipse cx="921.0" cy="1472.5" rx="6.6" ry="5.2" fill="#2e7b3f"/><ellipse cx="919.6" cy="1405.0" rx="6.6" ry="5.2" fill="#2e7b3f"/><ellipse cx="917.9" cy="1345.1" rx="6.6" ry="5.2" fill="#2e7b3f"/><ellipse cx="915.5" cy="1444.6" rx="6.6" ry="5.2" fill="#2e7b3f"/><ellipse cx="919.6" cy="1470.0" rx="6.6" ry="5.2" fill="#2e7b3f"/><ellipse cx="923.7" cy="1420.8" rx="6.6" ry="5.2" fill="#2e7b3f"/><ellipse cx="914.8" cy="1429.2" rx="6.6" ry="5.2" fill="#2e7b3f"/><ellipse cx="913.0" cy="1349.6" rx="6.6" ry="5.2" fill="#2e7b3f"/><ellipse cx="925.4" cy="1305.5" rx="6.6" ry="5.2" fill="#2e7b3f"/><ellipse cx="925.6" cy="1418.6" rx="6.6" ry="5.2" fill="#2e7b3f"/><ellipse cx="917.1" cy="1456.1" rx="6.6" ry="5.2" fill="#2e7b3f"/><ellipse cx="925.0" cy="1493.4" rx="6.6" ry="5.2" fill="#2e7b3f"/><ellipse cx="914.1" cy="1391.3" rx="6.6" ry="5.2" fill="#2e7b3f"/><ellipse cx="915.2" cy="1363.7" rx="6.6" ry="5.2" fill="#2e7b3f"/><ellipse cx="914.1" cy="1373.1" rx="6.6" ry="5.2" fill="#2e7b3f"/><ellipse cx="925.7" cy="1442.6" rx="6.6" ry="5.2" fill="#2e7b3f"/><ellipse cx="923.1" cy="1342.2" rx="6.6" ry="5.2" fill="#2e7b3f"/><ellipse cx="919.3" cy="1416.9" rx="6.6" ry="5.2" fill="#2e7b3f"/><ellipse cx="917.9" cy="1481.5" rx="6.6" ry="5.2" fill="#2e7b3f"/><ellipse cx="913.5" cy="1464.2" rx="6.6" ry="5.2" fill="#2e7b3f"/><ellipse cx="915.4" cy="1493.1" rx="6.6" ry="5.2" fill="#2e7b3f"/><ellipse cx="924.5" cy="1300.7" rx="6.6" ry="5.2" fill="#2e7b3f"/><ellipse cx="921.8" cy="1444.3" rx="6.6" ry="5.2" fill="#2e7b3f"/><ellipse cx="917.9" cy="1453.2" rx="6.6" ry="5.2" fill="#2e7b3f"/><ellipse cx="917.1" cy="1322.9" rx="6.6" ry="5.2" fill="#2e7b3f"/><ellipse cx="925.8" cy="1490.7" rx="6.6" ry="5.2" fill="#2e7b3f"/><ellipse cx="918.7" cy="1346.0" rx="6.6" ry="5.2" fill="#2e7b3f"/>
<line x1="213" y1="1421" x2="1122" y2="1421" stroke="#2f7dbb" stroke-width="4.5" stroke-dasharray="25 14"/>
<polyline points="227.5,1504.6 232.2,1492.0 244.9,1490.4 248.0,1388.0 260.6,1386.4 266.9,1384.9 273.2,1395.9 278.0,1397.5 282.7,1457.3 292.1,1462.0 298.4,1466.8 301.6,1477.8 311.0,1481.0 320.5,1482.5 325.2,1488.9 330.0,1468.4 337.8,1466.8 342.6,1446.3 347.3,1419.5 355.2,1375.4 358.3,1389.6 361.5,1381.7 367.8,1400.6 372.5,1444.7 378.8,1504.6 383.5,1482.5 393.0,1476.2 397.7,1465.2 402.4,1485.7 407.2,1470.0 411.9,1487.3 423.0,1509.3 429.2,1377.0 438.7,1377.0 446.6,1400.6 448.1,1454.2 459.2,1440.0 468.6,1449.5 471.8,1405.3 479.6,1413.2 487.5,1408.5 493.8,1397.5 500.1,1446.3 512.7,1451.0 515.9,1555.0 520.6,1555.0 528.5,1517.2 538.0,1498.3 542.7,1463.6 545.8,1438.4 552.1,1469.9 560.0,1495.2 564.7,1583.4 572.6,1441.6 575.8,1469.9 585.2,1473.1 589.9,1501.5 601.0,1503.0 607.3,1506.2 615.2,1479.4 621.5,1501.5 645.4,1500.5 656.7,1453.7 666.6,1484.9 672.3,1415.4 678.0,1412.6 713.4,1409.7 739.0,1406.9 761.7,1409.7 792.9,1391.3 826.9,1397.0 855.2,1395.5 877.9,1389.9 883.6,1392.7 889.3,1399.8 895.0,1378.5 900.6,1388.4 910.6,1395.5" fill="none" stroke="#e2302b" stroke-width="2.2" stroke-linejoin="round" />
<rect x="213" y="1209" width="909" height="403.5" fill="none" stroke="#000" stroke-width="3.2"/>
<line x1="201.5" y1="1228.8" x2="213" y2="1228.8" stroke="#000" stroke-width="3"/>
<text x="0" y="0" font-size="100" font-weight="normal" font-style="normal" fill="#222222" transform="translate(141.30 1238.43) scale(0.37700 0.34300)" >1.0</text>
<line x1="201.5" y1="1305.5" x2="213" y2="1305.5" stroke="#000" stroke-width="3"/>
<text x="0" y="0" font-size="100" font-weight="normal" font-style="normal" fill="#222222" transform="translate(141.30 1315.15) scale(0.37700 0.34300)" >0.8</text>
<line x1="201.5" y1="1382.2" x2="213" y2="1382.2" stroke="#000" stroke-width="3"/>
<text x="0" y="0" font-size="100" font-weight="normal" font-style="normal" fill="#222222" transform="translate(141.30 1391.87) scale(0.37700 0.34300)" >0.6</text>
<line x1="201.5" y1="1459.0" x2="213" y2="1459.0" stroke="#000" stroke-width="3"/>
<text x="0" y="0" font-size="100" font-weight="normal" font-style="normal" fill="#222222" transform="translate(140.93 1468.59) scale(0.37700 0.34300)" >0.4</text>
<line x1="201.5" y1="1535.7" x2="213" y2="1535.7" stroke="#000" stroke-width="3"/>
<text x="0" y="0" font-size="100" font-weight="normal" font-style="normal" fill="#222222" transform="translate(141.68 1545.31) scale(0.37700 0.34300)" >0.2</text>
<line x1="201.5" y1="1612.4" x2="213" y2="1612.4" stroke="#000" stroke-width="3"/>
<text x="0" y="0" font-size="100" font-weight="normal" font-style="normal" fill="#222222" transform="translate(141.30 1622.03) scale(0.37700 0.34300)" >0.0</text>
<line x1="213.3" y1="1612.5" x2="213.3" y2="1620.0" stroke="#000" stroke-width="3"/>
<text x="0" y="0" font-size="100" font-weight="normal" font-style="normal" fill="#222222" transform="translate(204.74 1653.21) scale(0.37700 0.34300)" >0</text>
<line x1="391.6" y1="1612.5" x2="391.6" y2="1620.0" stroke="#000" stroke-width="3"/>
<text x="0" y="0" font-size="100" font-weight="normal" font-style="normal" fill="#222222" transform="translate(372.49 1653.21) scale(0.37700 0.34300)" >20</text>
<line x1="569.9" y1="1612.5" x2="569.9" y2="1620.0" stroke="#000" stroke-width="3"/>
<text x="0" y="0" font-size="100" font-weight="normal" font-style="normal" fill="#222222" transform="translate(551.35 1653.21) scale(0.37700 0.34300)" >40</text>
<line x1="748.2" y1="1612.5" x2="748.2" y2="1620.0" stroke="#000" stroke-width="3"/>
<text x="0" y="0" font-size="100" font-weight="normal" font-style="normal" fill="#222222" transform="translate(729.09 1653.21) scale(0.37700 0.34300)" >60</text>
<line x1="926.5" y1="1612.5" x2="926.5" y2="1620.0" stroke="#000" stroke-width="3"/>
<text x="0" y="0" font-size="100" font-weight="normal" font-style="normal" fill="#222222" transform="translate(907.58 1653.21) scale(0.37700 0.34300)" >80</text>
<line x1="1104.8" y1="1612.5" x2="1104.8" y2="1620.0" stroke="#000" stroke-width="3"/>
<text x="0" y="0" font-size="100" font-weight="normal" font-style="normal" fill="#222222" transform="translate(1074.57 1653.21) scale(0.37700 0.34300)" >100</text>
<text x="0" y="0" font-size="100" font-weight="normal" font-style="normal" fill="#262626" transform="translate(473.43 1688.99) scale(0.38658 0.40532)" ><tspan font-style="italic">Arahy</tspan>.07 map length (Mb)</text>
<text x="0" y="0" font-size="100" font-weight="normal" font-style="normal" fill="#3a3a3a" transform="translate(109.73 1526.02) rotate(-90) scale(0.26491 0.35106)" >SNP-index (Bb)</text>
<rect x="210.0" y="1784.0" width="24.0" height="212.0" rx="6" fill="#2f3170"/>
<ellipse cx="226.1" cy="1837.0" rx="6.6" ry="5.2" fill="#2f3170"/><ellipse cx="229.7" cy="1930.5" rx="6.6" ry="5.2" fill="#2f3170"/><ellipse cx="216.1" cy="1820.9" rx="6.6" ry="5.2" fill="#2f3170"/><ellipse cx="216.0" cy="1812.4" rx="6.6" ry="5.2" fill="#2f3170"/><ellipse cx="213.9" cy="1941.5" rx="6.6" ry="5.2" fill="#2f3170"/><ellipse cx="215.7" cy="1896.9" rx="6.6" ry="5.2" fill="#2f3170"/><ellipse cx="220.5" cy="1844.8" rx="6.6" ry="5.2" fill="#2f3170"/><ellipse cx="224.4" cy="1964.3" rx="6.6" ry="5.2" fill="#2f3170"/><ellipse cx="217.1" cy="1783.2" rx="6.6" ry="5.2" fill="#2f3170"/><ellipse cx="230.2" cy="1812.3" rx="6.6" ry="5.2" fill="#2f3170"/><ellipse cx="228.7" cy="1958.1" rx="6.6" ry="5.2" fill="#2f3170"/><ellipse cx="227.4" cy="1961.8" rx="6.6" ry="5.2" fill="#2f3170"/><ellipse cx="228.5" cy="1988.9" rx="6.6" ry="5.2" fill="#2f3170"/><ellipse cx="229.7" cy="1836.5" rx="6.6" ry="5.2" fill="#2f3170"/><ellipse cx="227.6" cy="1887.1" rx="6.6" ry="5.2" fill="#2f3170"/><ellipse cx="220.5" cy="1904.1" rx="6.6" ry="5.2" fill="#2f3170"/><ellipse cx="220.5" cy="1860.1" rx="6.6" ry="5.2" fill="#2f3170"/><ellipse cx="213.6" cy="1849.0" rx="6.6" ry="5.2" fill="#2f3170"/><ellipse cx="228.6" cy="1960.3" rx="6.6" ry="5.2" fill="#2f3170"/><ellipse cx="226.2" cy="1996.8" rx="6.6" ry="5.2" fill="#2f3170"/><ellipse cx="227.5" cy="1901.9" rx="6.6" ry="5.2" fill="#2f3170"/><ellipse cx="225.9" cy="1809.7" rx="6.6" ry="5.2" fill="#2f3170"/><ellipse cx="214.9" cy="1877.5" rx="6.6" ry="5.2" fill="#2f3170"/><ellipse cx="222.5" cy="1824.6" rx="6.6" ry="5.2" fill="#2f3170"/><ellipse cx="221.1" cy="1835.7" rx="6.6" ry="5.2" fill="#2f3170"/><ellipse cx="219.7" cy="1913.2" rx="6.6" ry="5.2" fill="#2f3170"/><ellipse cx="221.8" cy="1808.8" rx="6.6" ry="5.2" fill="#2f3170"/><ellipse cx="216.2" cy="1831.8" rx="6.6" ry="5.2" fill="#2f3170"/><ellipse cx="219.1" cy="1822.8" rx="6.6" ry="5.2" fill="#2f3170"/><ellipse cx="225.3" cy="1796.1" rx="6.6" ry="5.2" fill="#2f3170"/><ellipse cx="219.6" cy="1989.8" rx="6.6" ry="5.2" fill="#2f3170"/><ellipse cx="231.5" cy="1938.2" rx="6.6" ry="5.2" fill="#2f3170"/><ellipse cx="214.1" cy="1789.5" rx="6.6" ry="5.2" fill="#2f3170"/><ellipse cx="229.4" cy="1957.3" rx="6.6" ry="5.2" fill="#2f3170"/><ellipse cx="214.5" cy="1920.6" rx="6.6" ry="5.2" fill="#2f3170"/><ellipse cx="230.1" cy="1871.0" rx="6.6" ry="5.2" fill="#2f3170"/><ellipse cx="228.7" cy="1975.0" rx="6.6" ry="5.2" fill="#2f3170"/><ellipse cx="229.8" cy="1824.7" rx="6.6" ry="5.2" fill="#2f3170"/><ellipse cx="226.8" cy="1862.4" rx="6.6" ry="5.2" fill="#2f3170"/><ellipse cx="232.4" cy="1810.1" rx="6.6" ry="5.2" fill="#2f3170"/><ellipse cx="226.9" cy="1912.8" rx="6.6" ry="5.2" fill="#2f3170"/><ellipse cx="224.6" cy="1826.6" rx="6.6" ry="5.2" fill="#2f3170"/><ellipse cx="224.0" cy="1907.8" rx="6.6" ry="5.2" fill="#2f3170"/><ellipse cx="227.0" cy="1859.1" rx="6.6" ry="5.2" fill="#2f3170"/><ellipse cx="217.5" cy="1855.1" rx="6.6" ry="5.2" fill="#2f3170"/><ellipse cx="226.0" cy="1816.2" rx="6.6" ry="5.2" fill="#2f3170"/><ellipse cx="216.0" cy="1804.7" rx="6.6" ry="5.2" fill="#2f3170"/><ellipse cx="225.2" cy="1795.2" rx="6.6" ry="5.2" fill="#2f3170"/><ellipse cx="223.0" cy="1902.4" rx="6.6" ry="5.2" fill="#2f3170"/><ellipse cx="220.7" cy="1788.5" rx="6.6" ry="5.2" fill="#2f3170"/><ellipse cx="213.0" cy="1855.5" rx="6.6" ry="5.2" fill="#2f3170"/><ellipse cx="233.0" cy="1780.7" rx="6.6" ry="5.2" fill="#2f3170"/><ellipse cx="217.6" cy="1806.7" rx="6.6" ry="5.2" fill="#2f3170"/><ellipse cx="224.1" cy="1839.2" rx="6.6" ry="5.2" fill="#2f3170"/><ellipse cx="221.3" cy="1797.0" rx="6.6" ry="5.2" fill="#2f3170"/><ellipse cx="229.4" cy="1860.7" rx="6.6" ry="5.2" fill="#2f3170"/><ellipse cx="218.4" cy="1781.3" rx="6.6" ry="5.2" fill="#2f3170"/><ellipse cx="232.3" cy="1889.2" rx="6.6" ry="5.2" fill="#2f3170"/><ellipse cx="221.4" cy="1893.7" rx="6.6" ry="5.2" fill="#2f3170"/><ellipse cx="217.5" cy="1927.3" rx="6.6" ry="5.2" fill="#2f3170"/><ellipse cx="222.0" cy="1787.0" rx="6.6" ry="5.2" fill="#2f3170"/><ellipse cx="227.2" cy="1980.3" rx="6.6" ry="5.2" fill="#2f3170"/><ellipse cx="226.0" cy="1836.8" rx="6.6" ry="5.2" fill="#2f3170"/><ellipse cx="216.7" cy="1966.8" rx="6.6" ry="5.2" fill="#2f3170"/><ellipse cx="218.8" cy="1909.4" rx="6.6" ry="5.2" fill="#2f3170"/><ellipse cx="217.3" cy="1833.7" rx="6.6" ry="5.2" fill="#2f3170"/><ellipse cx="218.7" cy="1824.8" rx="6.6" ry="5.2" fill="#2f3170"/><ellipse cx="219.7" cy="1788.4" rx="6.6" ry="5.2" fill="#2f3170"/><ellipse cx="227.7" cy="1799.1" rx="6.6" ry="5.2" fill="#2f3170"/><ellipse cx="211.1" cy="1912.0" rx="6.6" ry="5.2" fill="#2f3170"/><ellipse cx="215.2" cy="1950.2" rx="6.6" ry="5.2" fill="#2f3170"/><ellipse cx="223.2" cy="1885.8" rx="6.6" ry="5.2" fill="#2f3170"/><ellipse cx="217.4" cy="1853.2" rx="6.6" ry="5.2" fill="#2f3170"/><ellipse cx="214.0" cy="1875.7" rx="6.6" ry="5.2" fill="#2f3170"/><ellipse cx="213.5" cy="1970.0" rx="6.6" ry="5.2" fill="#2f3170"/><ellipse cx="215.8" cy="1961.2" rx="6.6" ry="5.2" fill="#2f3170"/><ellipse cx="219.5" cy="1846.7" rx="6.6" ry="5.2" fill="#2f3170"/><ellipse cx="213.8" cy="1787.3" rx="6.6" ry="5.2" fill="#2f3170"/><ellipse cx="220.7" cy="1859.4" rx="6.6" ry="5.2" fill="#2f3170"/><ellipse cx="232.8" cy="1972.8" rx="6.6" ry="5.2" fill="#2f3170"/><ellipse cx="222.8" cy="1789.6" rx="6.6" ry="5.2" fill="#2f3170"/><ellipse cx="228.7" cy="1808.5" rx="6.6" ry="5.2" fill="#2f3170"/><ellipse cx="230.6" cy="1851.0" rx="6.6" ry="5.2" fill="#2f3170"/><ellipse cx="213.8" cy="1900.0" rx="6.6" ry="5.2" fill="#2f3170"/><ellipse cx="216.5" cy="1781.1" rx="6.6" ry="5.2" fill="#2f3170"/><ellipse cx="214.3" cy="1971.0" rx="6.6" ry="5.2" fill="#2f3170"/><ellipse cx="219.2" cy="1885.4" rx="6.6" ry="5.2" fill="#2f3170"/><ellipse cx="228.6" cy="1855.9" rx="6.6" ry="5.2" fill="#2f3170"/><ellipse cx="226.8" cy="1827.0" rx="6.6" ry="5.2" fill="#2f3170"/><ellipse cx="231.6" cy="1926.6" rx="6.6" ry="5.2" fill="#2f3170"/><ellipse cx="231.2" cy="1894.4" rx="6.6" ry="5.2" fill="#2f3170"/><ellipse cx="223.6" cy="1876.9" rx="6.6" ry="5.2" fill="#2f3170"/><ellipse cx="229.5" cy="1916.5" rx="6.6" ry="5.2" fill="#2f3170"/><ellipse cx="213.5" cy="1977.5" rx="6.6" ry="5.2" fill="#2f3170"/><ellipse cx="222.7" cy="1810.2" rx="6.6" ry="5.2" fill="#2f3170"/><ellipse cx="222.7" cy="1958.7" rx="6.6" ry="5.2" fill="#2f3170"/><ellipse cx="232.2" cy="1845.9" rx="6.6" ry="5.2" fill="#2f3170"/><ellipse cx="212.9" cy="1845.5" rx="6.6" ry="5.2" fill="#2f3170"/><ellipse cx="211.7" cy="1791.5" rx="6.6" ry="5.2" fill="#2f3170"/><ellipse cx="213.4" cy="1939.9" rx="6.6" ry="5.2" fill="#2f3170"/><ellipse cx="230.1" cy="1937.6" rx="6.6" ry="5.2" fill="#2f3170"/><ellipse cx="228.8" cy="1999.9" rx="6.6" ry="5.2" fill="#2f3170"/><ellipse cx="224.7" cy="1873.4" rx="6.6" ry="5.2" fill="#2f3170"/><ellipse cx="226.8" cy="1963.3" rx="6.6" ry="5.2" fill="#2f3170"/><ellipse cx="227.8" cy="1843.9" rx="6.6" ry="5.2" fill="#2f3170"/><ellipse cx="217.8" cy="1804.1" rx="6.6" ry="5.2" fill="#2f3170"/><ellipse cx="221.4" cy="1999.2" rx="6.6" ry="5.2" fill="#2f3170"/><ellipse cx="228.3" cy="1838.9" rx="6.6" ry="5.2" fill="#2f3170"/><ellipse cx="211.1" cy="1879.0" rx="6.6" ry="5.2" fill="#2f3170"/><ellipse cx="216.7" cy="1786.4" rx="6.6" ry="5.2" fill="#2f3170"/><ellipse cx="231.6" cy="1853.0" rx="6.6" ry="5.2" fill="#2f3170"/><ellipse cx="229.7" cy="1834.4" rx="6.6" ry="5.2" fill="#2f3170"/><ellipse cx="220.2" cy="1967.8" rx="6.6" ry="5.2" fill="#2f3170"/><ellipse cx="227.8" cy="1998.5" rx="6.6" ry="5.2" fill="#2f3170"/><ellipse cx="216.8" cy="1886.5" rx="6.6" ry="5.2" fill="#2f3170"/><ellipse cx="230.8" cy="1881.4" rx="6.6" ry="5.2" fill="#2f3170"/><ellipse cx="215.3" cy="1898.1" rx="6.6" ry="5.2" fill="#2f3170"/><ellipse cx="221.5" cy="1862.6" rx="6.6" ry="5.2" fill="#2f3170"/><ellipse cx="223.6" cy="1822.0" rx="6.6" ry="5.2" fill="#2f3170"/><ellipse cx="229.1" cy="1787.5" rx="6.6" ry="5.2" fill="#2f3170"/><ellipse cx="213.3" cy="1819.3" rx="6.6" ry="5.2" fill="#2f3170"/><ellipse cx="217.8" cy="1909.6" rx="6.6" ry="5.2" fill="#2f3170"/><ellipse cx="221.9" cy="1974.7" rx="6.6" ry="5.2" fill="#2f3170"/><ellipse cx="229.4" cy="1894.7" rx="6.6" ry="5.2" fill="#2f3170"/><ellipse cx="227.4" cy="1827.1" rx="6.6" ry="5.2" fill="#2f3170"/><ellipse cx="220.4" cy="1922.8" rx="6.6" ry="5.2" fill="#2f3170"/><ellipse cx="211.5" cy="1991.1" rx="6.6" ry="5.2" fill="#2f3170"/><ellipse cx="214.2" cy="1969.7" rx="6.6" ry="5.2" fill="#2f3170"/><ellipse cx="214.4" cy="1964.7" rx="6.6" ry="5.2" fill="#2f3170"/><ellipse cx="222.0" cy="1791.8" rx="6.6" ry="5.2" fill="#2f3170"/><ellipse cx="216.7" cy="1983.7" rx="6.6" ry="5.2" fill="#2f3170"/><ellipse cx="224.4" cy="1887.0" rx="6.6" ry="5.2" fill="#2f3170"/><ellipse cx="222.7" cy="1833.6" rx="6.6" ry="5.2" fill="#2f3170"/><ellipse cx="220.9" cy="1782.1" rx="6.6" ry="5.2" fill="#2f3170"/><ellipse cx="218.5" cy="1947.1" rx="6.6" ry="5.2" fill="#2f3170"/><ellipse cx="212.1" cy="1828.5" rx="6.6" ry="5.2" fill="#2f3170"/><ellipse cx="220.4" cy="1934.1" rx="6.6" ry="5.2" fill="#2f3170"/><ellipse cx="227.3" cy="1981.1" rx="6.6" ry="5.2" fill="#2f3170"/><ellipse cx="231.1" cy="1802.1" rx="6.6" ry="5.2" fill="#2f3170"/><ellipse cx="229.0" cy="1985.0" rx="6.6" ry="5.2" fill="#2f3170"/><ellipse cx="226.0" cy="1962.9" rx="6.6" ry="5.2" fill="#2f3170"/><ellipse cx="225.7" cy="1938.6" rx="6.6" ry="5.2" fill="#2f3170"/><ellipse cx="216.7" cy="1910.0" rx="6.6" ry="5.2" fill="#2f3170"/><ellipse cx="227.0" cy="1809.4" rx="6.6" ry="5.2" fill="#2f3170"/><ellipse cx="212.2" cy="1911.2" rx="6.6" ry="5.2" fill="#2f3170"/><ellipse cx="224.4" cy="1921.2" rx="6.6" ry="5.2" fill="#2f3170"/><ellipse cx="228.1" cy="1892.5" rx="6.6" ry="5.2" fill="#2f3170"/><ellipse cx="219.4" cy="1972.8" rx="6.6" ry="5.2" fill="#2f3170"/><ellipse cx="222.0" cy="1959.2" rx="6.6" ry="5.2" fill="#2f3170"/><ellipse cx="220.1" cy="1905.8" rx="6.6" ry="5.2" fill="#2f3170"/>
<ellipse cx="279.5" cy="1918.6" rx="6.6" ry="5.2" fill="#2f3170"/><ellipse cx="314.2" cy="1924.8" rx="6.6" ry="5.2" fill="#2f3170"/><ellipse cx="304.7" cy="1935.9" rx="6.6" ry="5.2" fill="#2f3170"/><ellipse cx="328.4" cy="1935.9" rx="6.6" ry="5.2" fill="#2f3170"/><ellipse cx="290.6" cy="1981.6" rx="6.6" ry="5.2" fill="#2f3170"/><ellipse cx="290.6" cy="1986.3" rx="6.6" ry="5.2" fill="#2f3170"/><ellipse cx="266.9" cy="1969.0" rx="6.6" ry="5.2" fill="#2f3170"/><ellipse cx="248.0" cy="1953.2" rx="6.6" ry="5.2" fill="#2f3170"/><ellipse cx="221.2" cy="1989.5" rx="6.6" ry="5.2" fill="#2f3170"/><ellipse cx="265.3" cy="2014.7" rx="6.6" ry="5.2" fill="#2f3170"/><ellipse cx="337.8" cy="1978.4" rx="6.6" ry="5.2" fill="#2f3170"/><ellipse cx="352.0" cy="1992.6" rx="6.6" ry="5.2" fill="#2f3170"/><ellipse cx="358.3" cy="2030.4" rx="6.6" ry="5.2" fill="#2f3170"/><ellipse cx="372.5" cy="1918.6" rx="6.6" ry="5.2" fill="#2f3170"/><ellipse cx="383.5" cy="1928.0" rx="6.6" ry="5.2" fill="#2f3170"/><ellipse cx="381.9" cy="1937.5" rx="6.6" ry="5.2" fill="#2f3170"/><ellipse cx="388.3" cy="1904.4" rx="6.6" ry="5.2" fill="#2f3170"/><ellipse cx="413.5" cy="1894.9" rx="6.6" ry="5.2" fill="#2f3170"/><ellipse cx="413.5" cy="1904.4" rx="6.6" ry="5.2" fill="#2f3170"/><ellipse cx="361.5" cy="1946.9" rx="6.6" ry="5.2" fill="#2f3170"/><ellipse cx="393.0" cy="1976.9" rx="6.6" ry="5.2" fill="#2f3170"/><ellipse cx="399.3" cy="1967.4" rx="6.6" ry="5.2" fill="#2f3170"/><ellipse cx="407.2" cy="2021.0" rx="6.6" ry="5.2" fill="#2f3170"/><ellipse cx="432.4" cy="1981.6" rx="6.6" ry="5.2" fill="#2f3170"/><ellipse cx="437.1" cy="1961.1" rx="6.6" ry="5.2" fill="#2f3170"/><ellipse cx="452.9" cy="1954.8" rx="6.6" ry="5.2" fill="#2f3170"/><ellipse cx="459.2" cy="1898.1" rx="6.6" ry="5.2" fill="#2f3170"/><ellipse cx="470.2" cy="1904.4" rx="6.6" ry="5.2" fill="#2f3170"/><ellipse cx="484.4" cy="1929.6" rx="6.6" ry="5.2" fill="#2f3170"/><ellipse cx="476.5" cy="1954.8" rx="6.6" ry="5.2" fill="#2f3170"/><ellipse cx="484.4" cy="1946.9" rx="6.6" ry="5.2" fill="#2f3170"/><ellipse cx="484.4" cy="1984.7" rx="6.6" ry="5.2" fill="#2f3170"/><ellipse cx="462.3" cy="1992.6" rx="6.6" ry="5.2" fill="#2f3170"/><ellipse cx="462.3" cy="2008.4" rx="6.6" ry="5.2" fill="#2f3170"/><ellipse cx="471.8" cy="2011.5" rx="6.6" ry="5.2" fill="#2f3170"/><ellipse cx="468.6" cy="2033.6" rx="6.6" ry="5.2" fill="#2f3170"/><ellipse cx="484.4" cy="2044.6" rx="6.6" ry="5.2" fill="#2f3170"/><ellipse cx="508.0" cy="1962.7" rx="6.6" ry="5.2" fill="#2f3170"/><ellipse cx="528.5" cy="1861.8" rx="6.6" ry="5.2" fill="#2f3170"/><ellipse cx="528.5" cy="1901.2" rx="6.6" ry="5.2" fill="#2f3170"/><ellipse cx="531.6" cy="1923.3" rx="6.6" ry="5.2" fill="#2f3170"/><ellipse cx="541.1" cy="1924.8" rx="6.6" ry="5.2" fill="#2f3170"/><ellipse cx="530.1" cy="1942.2" rx="6.6" ry="5.2" fill="#2f3170"/><ellipse cx="547.4" cy="1946.9" rx="6.6" ry="5.2" fill="#2f3170"/><ellipse cx="550.6" cy="1967.4" rx="6.6" ry="5.2" fill="#2f3170"/><ellipse cx="556.9" cy="1905.9" rx="6.6" ry="5.2" fill="#2f3170"/><ellipse cx="575.8" cy="1953.2" rx="6.6" ry="5.2" fill="#2f3170"/><ellipse cx="586.8" cy="1921.7" rx="6.6" ry="5.2" fill="#2f3170"/><ellipse cx="590.0" cy="1946.9" rx="6.6" ry="5.2" fill="#2f3170"/><ellipse cx="601.0" cy="1888.6" rx="6.6" ry="5.2" fill="#2f3170"/><ellipse cx="610.4" cy="1923.3" rx="6.6" ry="5.2" fill="#2f3170"/><ellipse cx="612.0" cy="1956.4" rx="6.6" ry="5.2" fill="#2f3170"/><ellipse cx="604.1" cy="1965.8" rx="6.6" ry="5.2" fill="#2f3170"/><ellipse cx="635.6" cy="1891.8" rx="6.6" ry="5.2" fill="#2f3170"/><ellipse cx="635.6" cy="1973.7" rx="6.6" ry="5.2" fill="#2f3170"/><ellipse cx="602.8" cy="1888.7" rx="6.6" ry="5.2" fill="#2f3170"/><ellipse cx="636.9" cy="1891.6" rx="6.6" ry="5.2" fill="#2f3170"/><ellipse cx="609.9" cy="1922.8" rx="6.6" ry="5.2" fill="#2f3170"/><ellipse cx="611.3" cy="1956.8" rx="6.6" ry="5.2" fill="#2f3170"/><ellipse cx="604.3" cy="1966.7" rx="6.6" ry="5.2" fill="#2f3170"/><ellipse cx="636.9" cy="1973.8" rx="6.6" ry="5.2" fill="#2f3170"/><ellipse cx="662.4" cy="1954.0" rx="6.6" ry="5.2" fill="#2f3170"/><ellipse cx="826.9" cy="1844.8" rx="6.6" ry="5.2" fill="#2f3170"/><ellipse cx="696.4" cy="1856.1" rx="6.6" ry="5.2" fill="#2f3170"/><ellipse cx="716.3" cy="1857.6" rx="6.6" ry="5.2" fill="#2f3170"/><ellipse cx="774.4" cy="1853.3" rx="6.6" ry="5.2" fill="#2f3170"/><ellipse cx="757.4" cy="1864.6" rx="6.6" ry="5.2" fill="#2f3170"/><ellipse cx="792.9" cy="1864.6" rx="6.6" ry="5.2" fill="#2f3170"/><ellipse cx="838.2" cy="1864.6" rx="6.6" ry="5.2" fill="#2f3170"/><ellipse cx="690.8" cy="1867.5" rx="6.6" ry="5.2" fill="#2f3170"/><ellipse cx="809.9" cy="1870.3" rx="6.6" ry="5.2" fill="#2f3170"/><ellipse cx="895.0" cy="1944.0" rx="6.6" ry="5.2" fill="#2f3170"/><ellipse cx="900.6" cy="1962.5" rx="6.6" ry="5.2" fill="#2f3170"/><ellipse cx="706.4" cy="2061.7" rx="6.6" ry="5.2" fill="#2f3170"/><ellipse cx="730.5" cy="2050.4" rx="6.6" ry="5.2" fill="#2f3170"/><ellipse cx="770.2" cy="2057.5" rx="6.6" ry="5.2" fill="#2f3170"/><ellipse cx="784.3" cy="2050.4" rx="6.6" ry="5.2" fill="#2f3170"/><ellipse cx="809.9" cy="2066.0" rx="6.6" ry="5.2" fill="#2f3170"/><ellipse cx="829.7" cy="2075.9" rx="6.6" ry="5.2" fill="#2f3170"/><ellipse cx="835.4" cy="2056.1" rx="6.6" ry="5.2" fill="#2f3170"/><ellipse cx="858.1" cy="2061.7" rx="6.6" ry="5.2" fill="#2f3170"/><ellipse cx="892.1" cy="2026.3" rx="6.6" ry="5.2" fill="#2f3170"/>
<path d="M682.0,1889.4 L687.0,1889.6 L691.9,1889.1 L696.9,1882.7 L701.8,1886.7 L706.8,1885.4 L711.7,1886.2 L716.6,1883.0 L721.6,1883.5 L726.5,1885.6 L731.5,1883.8 L736.5,1885.6 L741.4,1882.2 L746.4,1882.7 L751.3,1887.7 L756.2,1885.4 L761.2,1886.1 L766.1,1887.9 L771.1,1884.9 L776.0,1882.5 L781.0,1888.3 L786.0,1886.7 L790.9,1887.3 L795.9,1887.0 L800.8,1889.8 L805.8,1884.9 L810.7,1888.1 L815.6,1884.9 L820.6,1886.6 L825.5,1887.3 L830.5,1884.5 L835.5,1882.7 L840.4,1885.8 L845.4,1887.7 L850.3,1886.7 L855.2,1885.6 L860.2,1887.1 L865.1,1883.5 L870.1,1883.4 L875.0,1884.6 L880.0,1888.5 L878.8,1886.0 L878.5,1900.0 L878.4,1914.0 L878.2,1928.0 L879.1,1942.0 L880.3,1956.0 L881.3,1970.0 L879.3,1984.0 L879.5,1998.0 L879.2,2012.0 L879.2,2026.0 L880.0,2028.2 L875.0,2026.4 L870.1,2024.1 L865.1,2022.9 L860.2,2028.3 L855.2,2027.7 L850.3,2028.6 L845.4,2023.9 L840.4,2026.4 L835.5,2029.3 L830.5,2026.7 L825.5,2029.6 L820.6,2023.3 L815.6,2029.8 L810.7,2022.4 L805.8,2025.3 L800.8,2022.2 L795.9,2028.5 L790.9,2027.5 L786.0,2029.8 L781.0,2028.4 L776.0,2029.6 L771.1,2026.3 L766.1,2029.9 L761.2,2028.0 L756.2,2024.8 L751.3,2029.8 L746.4,2025.0 L741.4,2023.5 L736.5,2022.6 L731.5,2025.7 L726.5,2023.6 L721.6,2029.5 L716.6,2029.6 L711.7,2023.7 L706.8,2022.8 L701.8,2026.2 L696.9,2023.4 L691.9,2026.3 L687.0,2028.5 L682.0,2024.0 L681.7,2026.0 L683.6,2012.0 L681.8,1998.0 L681.4,1984.0 L683.6,1970.0 L683.3,1956.0 L683.6,1942.0 L682.8,1928.0 L681.7,1914.0 L682.8,1900.0 L683.3,1886.0 Z" fill="#2f3170"/>
<ellipse cx="867.7" cy="1889.3" rx="6.6" ry="5.2" fill="#2f3170"/><ellipse cx="867.7" cy="2034.5" rx="6.6" ry="5.2" fill="#2f3170"/><ellipse cx="696.0" cy="1884.3" rx="6.6" ry="5.2" fill="#2f3170"/><ellipse cx="696.0" cy="2027.9" rx="6.6" ry="5.2" fill="#2f3170"/><ellipse cx="787.1" cy="1877.8" rx="6.6" ry="5.2" fill="#2f3170"/><ellipse cx="787.1" cy="2024.7" rx="6.6" ry="5.2" fill="#2f3170"/><ellipse cx="769.7" cy="1879.1" rx="6.6" ry="5.2" fill="#2f3170"/><ellipse cx="769.7" cy="2028.4" rx="6.6" ry="5.2" fill="#2f3170"/><ellipse cx="684.1" cy="1877.2" rx="6.6" ry="5.2" fill="#2f3170"/><ellipse cx="684.1" cy="2031.9" rx="6.6" ry="5.2" fill="#2f3170"/><ellipse cx="764.9" cy="1883.2" rx="6.6" ry="5.2" fill="#2f3170"/><ellipse cx="764.9" cy="2032.3" rx="6.6" ry="5.2" fill="#2f3170"/><ellipse cx="752.2" cy="1876.8" rx="6.6" ry="5.2" fill="#2f3170"/><ellipse cx="752.2" cy="2033.0" rx="6.6" ry="5.2" fill="#2f3170"/><ellipse cx="799.2" cy="1885.2" rx="6.6" ry="5.2" fill="#2f3170"/><ellipse cx="799.2" cy="2030.7" rx="6.6" ry="5.2" fill="#2f3170"/><ellipse cx="877.0" cy="1881.1" rx="6.6" ry="5.2" fill="#2f3170"/><ellipse cx="877.0" cy="2032.6" rx="6.6" ry="5.2" fill="#2f3170"/><ellipse cx="754.2" cy="1884.0" rx="6.6" ry="5.2" fill="#2f3170"/><ellipse cx="754.2" cy="2031.2" rx="6.6" ry="5.2" fill="#2f3170"/><ellipse cx="743.1" cy="1877.2" rx="6.6" ry="5.2" fill="#2f3170"/><ellipse cx="743.1" cy="2028.6" rx="6.6" ry="5.2" fill="#2f3170"/><ellipse cx="825.5" cy="1884.3" rx="6.6" ry="5.2" fill="#2f3170"/><ellipse cx="825.5" cy="2028.3" rx="6.6" ry="5.2" fill="#2f3170"/><ellipse cx="810.0" cy="1878.5" rx="6.6" ry="5.2" fill="#2f3170"/><ellipse cx="810.0" cy="2024.5" rx="6.6" ry="5.2" fill="#2f3170"/><ellipse cx="745.0" cy="1887.4" rx="6.6" ry="5.2" fill="#2f3170"/><ellipse cx="745.0" cy="2024.7" rx="6.6" ry="5.2" fill="#2f3170"/><ellipse cx="702.3" cy="1877.4" rx="6.6" ry="5.2" fill="#2f3170"/><ellipse cx="702.3" cy="2022.5" rx="6.6" ry="5.2" fill="#2f3170"/><ellipse cx="735.2" cy="1884.0" rx="6.6" ry="5.2" fill="#2f3170"/><ellipse cx="735.2" cy="2033.5" rx="6.6" ry="5.2" fill="#2f3170"/><ellipse cx="746.5" cy="1881.2" rx="6.6" ry="5.2" fill="#2f3170"/><ellipse cx="746.5" cy="2026.0" rx="6.6" ry="5.2" fill="#2f3170"/><ellipse cx="741.2" cy="1886.9" rx="6.6" ry="5.2" fill="#2f3170"/><ellipse cx="741.2" cy="2029.7" rx="6.6" ry="5.2" fill="#2f3170"/><ellipse cx="731.7" cy="1877.5" rx="6.6" ry="5.2" fill="#2f3170"/><ellipse cx="731.7" cy="2033.0" rx="6.6" ry="5.2" fill="#2f3170"/><ellipse cx="823.3" cy="1887.6" rx="6.6" ry="5.2" fill="#2f3170"/><ellipse cx="823.3" cy="2025.3" rx="6.6" ry="5.2" fill="#2f3170"/><ellipse cx="790.3" cy="1888.9" rx="6.6" ry="5.2" fill="#2f3170"/><ellipse cx="790.3" cy="2030.3" rx="6.6" ry="5.2" fill="#2f3170"/><ellipse cx="871.9" cy="1878.3" rx="6.6" ry="5.2" fill="#2f3170"/><ellipse cx="871.9" cy="2035.7" rx="6.6" ry="5.2" fill="#2f3170"/><ellipse cx="690.4" cy="1881.8" rx="6.6" ry="5.2" fill="#2f3170"/><ellipse cx="690.4" cy="2022.3" rx="6.6" ry="5.2" fill="#2f3170"/><ellipse cx="844.2" cy="1885.6" rx="6.6" ry="5.2" fill="#2f3170"/><ellipse cx="844.2" cy="2035.6" rx="6.6" ry="5.2" fill="#2f3170"/><ellipse cx="843.2" cy="1889.3" rx="6.6" ry="5.2" fill="#2f3170"/><ellipse cx="843.2" cy="2029.5" rx="6.6" ry="5.2" fill="#2f3170"/><ellipse cx="880.6" cy="1886.5" rx="6.6" ry="5.2" fill="#2f3170"/><ellipse cx="880.6" cy="2026.8" rx="6.6" ry="5.2" fill="#2f3170"/><ellipse cx="877.8" cy="1881.3" rx="6.6" ry="5.2" fill="#2f3170"/><ellipse cx="877.8" cy="2024.7" rx="6.6" ry="5.2" fill="#2f3170"/><ellipse cx="694.5" cy="1882.5" rx="6.6" ry="5.2" fill="#2f3170"/><ellipse cx="694.5" cy="2024.8" rx="6.6" ry="5.2" fill="#2f3170"/><ellipse cx="869.4" cy="1889.3" rx="6.6" ry="5.2" fill="#2f3170"/><ellipse cx="869.4" cy="2025.0" rx="6.6" ry="5.2" fill="#2f3170"/><ellipse cx="700.1" cy="1883.4" rx="6.6" ry="5.2" fill="#2f3170"/><ellipse cx="700.1" cy="2024.4" rx="6.6" ry="5.2" fill="#2f3170"/><ellipse cx="789.9" cy="1887.4" rx="6.6" ry="5.2" fill="#2f3170"/><ellipse cx="789.9" cy="2025.5" rx="6.6" ry="5.2" fill="#2f3170"/><ellipse cx="765.0" cy="1888.6" rx="6.6" ry="5.2" fill="#2f3170"/><ellipse cx="765.0" cy="2028.2" rx="6.6" ry="5.2" fill="#2f3170"/><ellipse cx="748.9" cy="1888.5" rx="6.6" ry="5.2" fill="#2f3170"/><ellipse cx="748.9" cy="2033.4" rx="6.6" ry="5.2" fill="#2f3170"/><ellipse cx="861.6" cy="1885.6" rx="6.6" ry="5.2" fill="#2f3170"/><ellipse cx="861.6" cy="2027.8" rx="6.6" ry="5.2" fill="#2f3170"/><ellipse cx="820.4" cy="1887.6" rx="6.6" ry="5.2" fill="#2f3170"/><ellipse cx="820.4" cy="2031.0" rx="6.6" ry="5.2" fill="#2f3170"/><ellipse cx="727.6" cy="1880.1" rx="6.6" ry="5.2" fill="#2f3170"/><ellipse cx="727.6" cy="2027.7" rx="6.6" ry="5.2" fill="#2f3170"/><ellipse cx="836.4" cy="1883.8" rx="6.6" ry="5.2" fill="#2f3170"/><ellipse cx="836.4" cy="2029.7" rx="6.6" ry="5.2" fill="#2f3170"/><ellipse cx="847.6" cy="1877.5" rx="6.6" ry="5.2" fill="#2f3170"/><ellipse cx="847.6" cy="2030.8" rx="6.6" ry="5.2" fill="#2f3170"/><ellipse cx="746.8" cy="1883.8" rx="6.6" ry="5.2" fill="#2f3170"/><ellipse cx="746.8" cy="2033.7" rx="6.6" ry="5.2" fill="#2f3170"/><ellipse cx="729.7" cy="1889.3" rx="6.6" ry="5.2" fill="#2f3170"/><ellipse cx="729.7" cy="2023.1" rx="6.6" ry="5.2" fill="#2f3170"/><ellipse cx="793.7" cy="1883.6" rx="6.6" ry="5.2" fill="#2f3170"/><ellipse cx="793.7" cy="2025.3" rx="6.6" ry="5.2" fill="#2f3170"/><ellipse cx="793.4" cy="1882.6" rx="6.6" ry="5.2" fill="#2f3170"/><ellipse cx="793.4" cy="2028.3" rx="6.6" ry="5.2" fill="#2f3170"/><ellipse cx="825.5" cy="1876.1" rx="6.6" ry="5.2" fill="#2f3170"/><ellipse cx="825.5" cy="2027.3" rx="6.6" ry="5.2" fill="#2f3170"/><ellipse cx="839.3" cy="1878.0" rx="6.6" ry="5.2" fill="#2f3170"/><ellipse cx="839.3" cy="2034.1" rx="6.6" ry="5.2" fill="#2f3170"/><ellipse cx="720.5" cy="1885.5" rx="6.6" ry="5.2" fill="#2f3170"/><ellipse cx="720.5" cy="2024.4" rx="6.6" ry="5.2" fill="#2f3170"/><ellipse cx="770.7" cy="1881.9" rx="6.6" ry="5.2" fill="#2f3170"/><ellipse cx="770.7" cy="2023.1" rx="6.6" ry="5.2" fill="#2f3170"/><ellipse cx="821.7" cy="1882.7" rx="6.6" ry="5.2" fill="#2f3170"/><ellipse cx="821.7" cy="2031.6" rx="6.6" ry="5.2" fill="#2f3170"/><ellipse cx="789.0" cy="1883.8" rx="6.6" ry="5.2" fill="#2f3170"/><ellipse cx="789.0" cy="2029.4" rx="6.6" ry="5.2" fill="#2f3170"/><ellipse cx="739.8" cy="1888.6" rx="6.6" ry="5.2" fill="#2f3170"/><ellipse cx="739.8" cy="2023.2" rx="6.6" ry="5.2" fill="#2f3170"/><ellipse cx="857.8" cy="1888.1" rx="6.6" ry="5.2" fill="#2f3170"/><ellipse cx="857.8" cy="2029.0" rx="6.6" ry="5.2" fill="#2f3170"/><ellipse cx="837.5" cy="1885.4" rx="6.6" ry="5.2" fill="#2f3170"/><ellipse cx="837.5" cy="2030.5" rx="6.6" ry="5.2" fill="#2f3170"/><ellipse cx="738.5" cy="1880.5" rx="6.6" ry="5.2" fill="#2f3170"/><ellipse cx="738.5" cy="2026.9" rx="6.6" ry="5.2" fill="#2f3170"/><ellipse cx="740.6" cy="1889.4" rx="6.6" ry="5.2" fill="#2f3170"/><ellipse cx="740.6" cy="2026.8" rx="6.6" ry="5.2" fill="#2f3170"/><ellipse cx="758.1" cy="1881.9" rx="6.6" ry="5.2" fill="#2f3170"/><ellipse cx="758.1" cy="2033.4" rx="6.6" ry="5.2" fill="#2f3170"/><ellipse cx="776.5" cy="1883.8" rx="6.6" ry="5.2" fill="#2f3170"/><ellipse cx="776.5" cy="2025.6" rx="6.6" ry="5.2" fill="#2f3170"/><ellipse cx="735.7" cy="1877.2" rx="6.6" ry="5.2" fill="#2f3170"/><ellipse cx="735.7" cy="2025.0" rx="6.6" ry="5.2" fill="#2f3170"/><ellipse cx="732.8" cy="1887.9" rx="6.6" ry="5.2" fill="#2f3170"/><ellipse cx="732.8" cy="2029.0" rx="6.6" ry="5.2" fill="#2f3170"/><ellipse cx="701.5" cy="1882.5" rx="6.6" ry="5.2" fill="#2f3170"/><ellipse cx="701.5" cy="2023.7" rx="6.6" ry="5.2" fill="#2f3170"/><ellipse cx="794.5" cy="1882.2" rx="6.6" ry="5.2" fill="#2f3170"/><ellipse cx="794.5" cy="2034.0" rx="6.6" ry="5.2" fill="#2f3170"/><ellipse cx="731.9" cy="1887.9" rx="6.6" ry="5.2" fill="#2f3170"/><ellipse cx="731.9" cy="2025.5" rx="6.6" ry="5.2" fill="#2f3170"/><ellipse cx="879.5" cy="1884.9" rx="6.6" ry="5.2" fill="#2f3170"/><ellipse cx="879.5" cy="2022.6" rx="6.6" ry="5.2" fill="#2f3170"/><ellipse cx="843.7" cy="1879.9" rx="6.6" ry="5.2" fill="#2f3170"/><ellipse cx="843.7" cy="2027.1" rx="6.6" ry="5.2" fill="#2f3170"/><ellipse cx="708.9" cy="1887.7" rx="6.6" ry="5.2" fill="#2f3170"/><ellipse cx="708.9" cy="2023.3" rx="6.6" ry="5.2" fill="#2f3170"/><ellipse cx="829.6" cy="1881.5" rx="6.6" ry="5.2" fill="#2f3170"/><ellipse cx="829.6" cy="2031.5" rx="6.6" ry="5.2" fill="#2f3170"/><ellipse cx="738.8" cy="1877.1" rx="6.6" ry="5.2" fill="#2f3170"/><ellipse cx="738.8" cy="2034.8" rx="6.6" ry="5.2" fill="#2f3170"/><ellipse cx="812.6" cy="1878.4" rx="6.6" ry="5.2" fill="#2f3170"/><ellipse cx="812.6" cy="2035.7" rx="6.6" ry="5.2" fill="#2f3170"/><ellipse cx="865.0" cy="1878.6" rx="6.6" ry="5.2" fill="#2f3170"/><ellipse cx="865.0" cy="2022.3" rx="6.6" ry="5.2" fill="#2f3170"/><ellipse cx="803.6" cy="1877.9" rx="6.6" ry="5.2" fill="#2f3170"/><ellipse cx="803.6" cy="2032.2" rx="6.6" ry="5.2" fill="#2f3170"/><ellipse cx="774.7" cy="1885.9" rx="6.6" ry="5.2" fill="#2f3170"/><ellipse cx="774.7" cy="2030.0" rx="6.6" ry="5.2" fill="#2f3170"/><ellipse cx="836.2" cy="1887.5" rx="6.6" ry="5.2" fill="#2f3170"/><ellipse cx="836.2" cy="2030.4" rx="6.6" ry="5.2" fill="#2f3170"/><ellipse cx="799.6" cy="1880.6" rx="6.6" ry="5.2" fill="#2f3170"/><ellipse cx="799.6" cy="2023.9" rx="6.6" ry="5.2" fill="#2f3170"/><ellipse cx="697.9" cy="1888.0" rx="6.6" ry="5.2" fill="#2f3170"/><ellipse cx="697.9" cy="2024.9" rx="6.6" ry="5.2" fill="#2f3170"/><ellipse cx="766.0" cy="1880.4" rx="6.6" ry="5.2" fill="#2f3170"/><ellipse cx="766.0" cy="2030.7" rx="6.6" ry="5.2" fill="#2f3170"/><ellipse cx="787.8" cy="1888.0" rx="6.6" ry="5.2" fill="#2f3170"/><ellipse cx="787.8" cy="2028.1" rx="6.6" ry="5.2" fill="#2f3170"/><ellipse cx="752.8" cy="1885.1" rx="6.6" ry="5.2" fill="#2f3170"/><ellipse cx="752.8" cy="2032.4" rx="6.6" ry="5.2" fill="#2f3170"/><ellipse cx="867.8" cy="1880.4" rx="6.6" ry="5.2" fill="#2f3170"/><ellipse cx="867.8" cy="2034.4" rx="6.6" ry="5.2" fill="#2f3170"/><ellipse cx="879.2" cy="1889.8" rx="6.6" ry="5.2" fill="#2f3170"/><ellipse cx="879.2" cy="2023.8" rx="6.6" ry="5.2" fill="#2f3170"/><ellipse cx="756.5" cy="1886.8" rx="6.6" ry="5.2" fill="#2f3170"/><ellipse cx="756.5" cy="2033.6" rx="6.6" ry="5.2" fill="#2f3170"/><ellipse cx="687.1" cy="1881.5" rx="6.6" ry="5.2" fill="#2f3170"/><ellipse cx="687.1" cy="2032.1" rx="6.6" ry="5.2" fill="#2f3170"/><ellipse cx="833.7" cy="1883.5" rx="6.6" ry="5.2" fill="#2f3170"/><ellipse cx="833.7" cy="2024.9" rx="6.6" ry="5.2" fill="#2f3170"/><ellipse cx="762.0" cy="1876.8" rx="6.6" ry="5.2" fill="#2f3170"/><ellipse cx="762.0" cy="2026.4" rx="6.6" ry="5.2" fill="#2f3170"/><ellipse cx="766.2" cy="1887.5" rx="6.6" ry="5.2" fill="#2f3170"/><ellipse cx="766.2" cy="2030.3" rx="6.6" ry="5.2" fill="#2f3170"/><ellipse cx="763.5" cy="1879.4" rx="6.6" ry="5.2" fill="#2f3170"/><ellipse cx="763.5" cy="2026.4" rx="6.6" ry="5.2" fill="#2f3170"/><ellipse cx="815.8" cy="1882.2" rx="6.6" ry="5.2" fill="#2f3170"/><ellipse cx="815.8" cy="2024.4" rx="6.6" ry="5.2" fill="#2f3170"/><ellipse cx="846.6" cy="1884.1" rx="6.6" ry="5.2" fill="#2f3170"/><ellipse cx="846.6" cy="2035.5" rx="6.6" ry="5.2" fill="#2f3170"/><ellipse cx="788.4" cy="1884.7" rx="6.6" ry="5.2" fill="#2f3170"/><ellipse cx="788.4" cy="2028.0" rx="6.6" ry="5.2" fill="#2f3170"/><ellipse cx="803.1" cy="1888.9" rx="6.6" ry="5.2" fill="#2f3170"/><ellipse cx="803.1" cy="2035.7" rx="6.6" ry="5.2" fill="#2f3170"/><ellipse cx="813.8" cy="1882.0" rx="6.6" ry="5.2" fill="#2f3170"/><ellipse cx="813.8" cy="2022.9" rx="6.6" ry="5.2" fill="#2f3170"/><ellipse cx="850.4" cy="1881.5" rx="6.6" ry="5.2" fill="#2f3170"/><ellipse cx="850.4" cy="2027.4" rx="6.6" ry="5.2" fill="#2f3170"/><ellipse cx="690.7" cy="1876.5" rx="6.6" ry="5.2" fill="#2f3170"/><ellipse cx="690.7" cy="2027.5" rx="6.6" ry="5.2" fill="#2f3170"/><ellipse cx="682.4" cy="2028.2" rx="6.6" ry="5.2" fill="#2f3170"/><ellipse cx="884.1" cy="2028.2" rx="6.6" ry="5.2" fill="#2f3170"/><ellipse cx="677.7" cy="1981.6" rx="6.6" ry="5.2" fill="#2f3170"/><ellipse cx="878.7" cy="1981.6" rx="6.6" ry="5.2" fill="#2f3170"/><ellipse cx="675.6" cy="1971.6" rx="6.6" ry="5.2" fill="#2f3170"/><ellipse cx="882.9" cy="1971.6" rx="6.6" ry="5.2" fill="#2f3170"/><ellipse cx="680.4" cy="1958.2" rx="6.6" ry="5.2" fill="#2f3170"/><ellipse cx="878.2" cy="1958.2" rx="6.6" ry="5.2" fill="#2f3170"/><ellipse cx="679.7" cy="1890.3" rx="6.6" ry="5.2" fill="#2f3170"/><ellipse cx="878.5" cy="1890.3" rx="6.6" ry="5.2" fill="#2f3170"/><ellipse cx="678.1" cy="1977.5" rx="6.6" ry="5.2" fill="#2f3170"/><ellipse cx="883.2" cy="1977.5" rx="6.6" ry="5.2" fill="#2f3170"/><ellipse cx="681.1" cy="1994.0" rx="6.6" ry="5.2" fill="#2f3170"/><ellipse cx="882.3" cy="1994.0" rx="6.6" ry="5.2" fill="#2f3170"/><ellipse cx="678.5" cy="1910.0" rx="6.6" ry="5.2" fill="#2f3170"/><ellipse cx="886.8" cy="1910.0" rx="6.6" ry="5.2" fill="#2f3170"/><ellipse cx="677.8" cy="1920.8" rx="6.6" ry="5.2" fill="#2f3170"/><ellipse cx="881.9" cy="1920.8" rx="6.6" ry="5.2" fill="#2f3170"/><ellipse cx="682.9" cy="1963.0" rx="6.6" ry="5.2" fill="#2f3170"/><ellipse cx="880.0" cy="1963.0" rx="6.6" ry="5.2" fill="#2f3170"/><ellipse cx="675.2" cy="2026.3" rx="6.6" ry="5.2" fill="#2f3170"/><ellipse cx="884.9" cy="2026.3" rx="6.6" ry="5.2" fill="#2f3170"/><ellipse cx="684.0" cy="1966.6" rx="6.6" ry="5.2" fill="#2f3170"/><ellipse cx="878.5" cy="1966.6" rx="6.6" ry="5.2" fill="#2f3170"/><ellipse cx="684.5" cy="1984.8" rx="6.6" ry="5.2" fill="#2f3170"/><ellipse cx="883.7" cy="1984.8" rx="6.6" ry="5.2" fill="#2f3170"/><ellipse cx="684.2" cy="1897.1" rx="6.6" ry="5.2" fill="#2f3170"/><ellipse cx="886.7" cy="1897.1" rx="6.6" ry="5.2" fill="#2f3170"/><ellipse cx="683.3" cy="1896.8" rx="6.6" ry="5.2" fill="#2f3170"/><ellipse cx="877.8" cy="1896.8" rx="6.6" ry="5.2" fill="#2f3170"/><ellipse cx="683.0" cy="1892.4" rx="6.6" ry="5.2" fill="#2f3170"/><ellipse cx="884.2" cy="1892.4" rx="6.6" ry="5.2" fill="#2f3170"/><ellipse cx="681.3" cy="2025.5" rx="6.6" ry="5.2" fill="#2f3170"/><ellipse cx="882.1" cy="2025.5" rx="6.6" ry="5.2" fill="#2f3170"/><ellipse cx="680.7" cy="1921.4" rx="6.6" ry="5.2" fill="#2f3170"/><ellipse cx="886.9" cy="1921.4" rx="6.6" ry="5.2" fill="#2f3170"/><ellipse cx="683.8" cy="1978.3" rx="6.6" ry="5.2" fill="#2f3170"/><ellipse cx="879.0" cy="1978.3" rx="6.6" ry="5.2" fill="#2f3170"/><ellipse cx="682.3" cy="1991.7" rx="6.6" ry="5.2" fill="#2f3170"/><ellipse cx="877.7" cy="1991.7" rx="6.6" ry="5.2" fill="#2f3170"/><ellipse cx="676.8" cy="2004.7" rx="6.6" ry="5.2" fill="#2f3170"/><ellipse cx="879.2" cy="2004.7" rx="6.6" ry="5.2" fill="#2f3170"/><ellipse cx="681.6" cy="1889.3" rx="6.6" ry="5.2" fill="#2f3170"/><ellipse cx="878.4" cy="1889.3" rx="6.6" ry="5.2" fill="#2f3170"/><ellipse cx="675.0" cy="2028.3" rx="6.6" ry="5.2" fill="#2f3170"/><ellipse cx="885.1" cy="2028.3" rx="6.6" ry="5.2" fill="#2f3170"/><ellipse cx="680.7" cy="1995.4" rx="6.6" ry="5.2" fill="#2f3170"/><ellipse cx="882.7" cy="1995.4" rx="6.6" ry="5.2" fill="#2f3170"/><ellipse cx="681.4" cy="2001.3" rx="6.6" ry="5.2" fill="#2f3170"/><ellipse cx="878.4" cy="2001.3" rx="6.6" ry="5.2" fill="#2f3170"/><ellipse cx="678.5" cy="2001.1" rx="6.6" ry="5.2" fill="#2f3170"/><ellipse cx="882.8" cy="2001.1" rx="6.6" ry="5.2" fill="#2f3170"/><ellipse cx="684.0" cy="1957.9" rx="6.6" ry="5.2" fill="#2f3170"/><ellipse cx="881.1" cy="1957.9" rx="6.6" ry="5.2" fill="#2f3170"/><ellipse cx="675.8" cy="2009.7" rx="6.6" ry="5.2" fill="#2f3170"/><ellipse cx="880.3" cy="2009.7" rx="6.6" ry="5.2" fill="#2f3170"/><ellipse cx="681.1" cy="1981.9" rx="6.6" ry="5.2" fill="#2f3170"/><ellipse cx="885.3" cy="1981.9" rx="6.6" ry="5.2" fill="#2f3170"/><ellipse cx="683.0" cy="1911.6" rx="6.6" ry="5.2" fill="#2f3170"/><ellipse cx="885.0" cy="1911.6" rx="6.6" ry="5.2" fill="#2f3170"/><ellipse cx="709.6" cy="1854.2" rx="6.6" ry="5.2" fill="#2f3170"/><ellipse cx="797.7" cy="2054.4" rx="6.6" ry="5.2" fill="#2f3170"/><ellipse cx="803.7" cy="1862.8" rx="6.6" ry="5.2" fill="#2f3170"/><ellipse cx="782.4" cy="2050.6" rx="6.6" ry="5.2" fill="#2f3170"/><ellipse cx="785.5" cy="1866.1" rx="6.6" ry="5.2" fill="#2f3170"/><ellipse cx="799.7" cy="2053.4" rx="6.6" ry="5.2" fill="#2f3170"/><ellipse cx="841.1" cy="1875.2" rx="6.6" ry="5.2" fill="#2f3170"/><ellipse cx="734.2" cy="2045.8" rx="6.6" ry="5.2" fill="#2f3170"/><ellipse cx="845.6" cy="1871.5" rx="6.6" ry="5.2" fill="#2f3170"/><ellipse cx="871.4" cy="2053.0" rx="6.6" ry="5.2" fill="#2f3170"/><ellipse cx="706.5" cy="1865.2" rx="6.6" ry="5.2" fill="#2f3170"/><ellipse cx="752.6" cy="2036.7" rx="6.6" ry="5.2" fill="#2f3170"/><ellipse cx="781.2" cy="1879.5" rx="6.6" ry="5.2" fill="#2f3170"/><ellipse cx="834.7" cy="2034.3" rx="6.6" ry="5.2" fill="#2f3170"/><ellipse cx="730.5" cy="1861.1" rx="6.6" ry="5.2" fill="#2f3170"/><ellipse cx="858.0" cy="2042.6" rx="6.6" ry="5.2" fill="#2f3170"/><ellipse cx="712.9" cy="1866.5" rx="6.6" ry="5.2" fill="#2f3170"/><ellipse cx="730.4" cy="2032.9" rx="6.6" ry="5.2" fill="#2f3170"/><ellipse cx="799.5" cy="1879.7" rx="6.6" ry="5.2" fill="#2f3170"/><ellipse cx="836.2" cy="2048.9" rx="6.6" ry="5.2" fill="#2f3170"/><ellipse cx="711.5" cy="1866.9" rx="6.6" ry="5.2" fill="#2f3170"/><ellipse cx="808.4" cy="2049.5" rx="6.6" ry="5.2" fill="#2f3170"/><ellipse cx="770.3" cy="1851.6" rx="6.6" ry="5.2" fill="#2f3170"/><ellipse cx="866.5" cy="2038.1" rx="6.6" ry="5.2" fill="#2f3170"/><ellipse cx="828.7" cy="1863.9" rx="6.6" ry="5.2" fill="#2f3170"/><ellipse cx="836.8" cy="2039.8" rx="6.6" ry="5.2" fill="#2f3170"/><ellipse cx="699.5" cy="1862.8" rx="6.6" ry="5.2" fill="#2f3170"/><ellipse cx="777.0" cy="2050.2" rx="6.6" ry="5.2" fill="#2f3170"/><ellipse cx="761.8" cy="1870.0" rx="6.6" ry="5.2" fill="#2f3170"/><ellipse cx="756.3" cy="2048.9" rx="6.6" ry="5.2" fill="#2f3170"/><ellipse cx="715.8" cy="1876.4" rx="6.6" ry="5.2" fill="#2f3170"/><ellipse cx="869.9" cy="2032.5" rx="6.6" ry="5.2" fill="#2f3170"/><ellipse cx="852.7" cy="1873.3" rx="6.6" ry="5.2" fill="#2f3170"/><ellipse cx="819.6" cy="2034.4" rx="6.6" ry="5.2" fill="#2f3170"/><ellipse cx="827.6" cy="1873.2" rx="6.6" ry="5.2" fill="#2f3170"/><ellipse cx="806.3" cy="2054.2" rx="6.6" ry="5.2" fill="#2f3170"/><ellipse cx="870.4" cy="1869.0" rx="6.6" ry="5.2" fill="#2f3170"/><ellipse cx="866.0" cy="2035.3" rx="6.6" ry="5.2" fill="#2f3170"/><ellipse cx="740.7" cy="1865.9" rx="6.6" ry="5.2" fill="#2f3170"/><ellipse cx="785.5" cy="2053.9" rx="6.6" ry="5.2" fill="#2f3170"/><ellipse cx="808.2" cy="1868.6" rx="6.6" ry="5.2" fill="#2f3170"/><ellipse cx="805.3" cy="2053.7" rx="6.6" ry="5.2" fill="#2f3170"/><ellipse cx="761.1" cy="1872.2" rx="6.6" ry="5.2" fill="#2f3170"/><ellipse cx="801.0" cy="2041.3" rx="6.6" ry="5.2" fill="#2f3170"/><ellipse cx="748.8" cy="1854.6" rx="6.6" ry="5.2" fill="#2f3170"/><ellipse cx="683.2" cy="2039.7" rx="6.6" ry="5.2" fill="#2f3170"/><ellipse cx="741.0" cy="1852.4" rx="6.6" ry="5.2" fill="#2f3170"/><ellipse cx="778.1" cy="2040.1" rx="6.6" ry="5.2" fill="#2f3170"/><ellipse cx="866.2" cy="1873.4" rx="6.6" ry="5.2" fill="#2f3170"/><ellipse cx="814.0" cy="2051.5" rx="6.6" ry="5.2" fill="#2f3170"/><ellipse cx="735.9" cy="1853.5" rx="6.6" ry="5.2" fill="#2f3170"/><ellipse cx="802.9" cy="2037.2" rx="6.6" ry="5.2" fill="#2f3170"/><ellipse cx="878.0" cy="1862.7" rx="6.6" ry="5.2" fill="#2f3170"/><ellipse cx="858.2" cy="2037.7" rx="6.6" ry="5.2" fill="#2f3170"/><ellipse cx="699.7" cy="1868.8" rx="6.6" ry="5.2" fill="#2f3170"/><ellipse cx="819.6" cy="2037.9" rx="6.6" ry="5.2" fill="#2f3170"/><ellipse cx="866.4" cy="1879.2" rx="6.6" ry="5.2" fill="#2f3170"/><ellipse cx="818.5" cy="2054.6" rx="6.6" ry="5.2" fill="#2f3170"/><ellipse cx="877.6" cy="1854.4" rx="6.6" ry="5.2" fill="#2f3170"/><ellipse cx="827.1" cy="2049.2" rx="6.6" ry="5.2" fill="#2f3170"/><ellipse cx="827.4" cy="1860.2" rx="6.6" ry="5.2" fill="#2f3170"/><ellipse cx="789.7" cy="2045.5" rx="6.6" ry="5.2" fill="#2f3170"/><ellipse cx="851.0" cy="1851.5" rx="6.6" ry="5.2" fill="#2f3170"/><ellipse cx="756.0" cy="2039.2" rx="6.6" ry="5.2" fill="#2f3170"/><ellipse cx="839.3" cy="1853.5" rx="6.6" ry="5.2" fill="#2f3170"/><ellipse cx="693.3" cy="2034.7" rx="6.6" ry="5.2" fill="#2f3170"/><ellipse cx="704.2" cy="1863.1" rx="6.6" ry="5.2" fill="#2f3170"/><ellipse cx="854.1" cy="2040.2" rx="6.6" ry="5.2" fill="#2f3170"/><ellipse cx="701.2" cy="1870.1" rx="6.6" ry="5.2" fill="#2f3170"/><ellipse cx="747.5" cy="2045.1" rx="6.6" ry="5.2" fill="#2f3170"/><ellipse cx="830.5" cy="1863.7" rx="6.6" ry="5.2" fill="#2f3170"/><ellipse cx="827.7" cy="2046.2" rx="6.6" ry="5.2" fill="#2f3170"/><ellipse cx="851.4" cy="1872.9" rx="6.6" ry="5.2" fill="#2f3170"/><ellipse cx="861.2" cy="2049.2" rx="6.6" ry="5.2" fill="#2f3170"/><ellipse cx="737.4" cy="1865.1" rx="6.6" ry="5.2" fill="#2f3170"/><ellipse cx="835.5" cy="2050.0" rx="6.6" ry="5.2" fill="#2f3170"/><ellipse cx="827.1" cy="1875.3" rx="6.6" ry="5.2" fill="#2f3170"/><ellipse cx="845.9" cy="2044.4" rx="6.6" ry="5.2" fill="#2f3170"/><ellipse cx="809.1" cy="1851.3" rx="6.6" ry="5.2" fill="#2f3170"/><ellipse cx="776.5" cy="2048.7" rx="6.6" ry="5.2" fill="#2f3170"/>
<rect x="912.0" y="1870.0" width="16.0" height="152.0" rx="6" fill="#2f3170"/>
<ellipse cx="921.9" cy="1957.3" rx="6.6" ry="5.2" fill="#2f3170"/><ellipse cx="916.9" cy="1996.7" rx="6.6" ry="5.2" fill="#2f3170"/><ellipse cx="925.5" cy="1970.3" rx="6.6" ry="5.2" fill="#2f3170"/><ellipse cx="915.6" cy="2011.4" rx="6.6" ry="5.2" fill="#2f3170"/><ellipse cx="921.6" cy="1970.3" rx="6.6" ry="5.2" fill="#2f3170"/><ellipse cx="926.5" cy="1946.5" rx="6.6" ry="5.2" fill="#2f3170"/><ellipse cx="919.2" cy="1950.5" rx="6.6" ry="5.2" fill="#2f3170"/><ellipse cx="921.9" cy="2017.0" rx="6.6" ry="5.2" fill="#2f3170"/><ellipse cx="917.3" cy="1914.2" rx="6.6" ry="5.2" fill="#2f3170"/><ellipse cx="913.7" cy="1945.4" rx="6.6" ry="5.2" fill="#2f3170"/><ellipse cx="923.3" cy="1963.2" rx="6.6" ry="5.2" fill="#2f3170"/><ellipse cx="924.9" cy="1934.2" rx="6.6" ry="5.2" fill="#2f3170"/><ellipse cx="920.8" cy="2014.5" rx="6.6" ry="5.2" fill="#2f3170"/><ellipse cx="914.6" cy="1975.0" rx="6.6" ry="5.2" fill="#2f3170"/><ellipse cx="926.7" cy="1875.0" rx="6.6" ry="5.2" fill="#2f3170"/><ellipse cx="916.0" cy="1911.5" rx="6.6" ry="5.2" fill="#2f3170"/><ellipse cx="923.5" cy="2009.5" rx="6.6" ry="5.2" fill="#2f3170"/><ellipse cx="917.5" cy="1885.7" rx="6.6" ry="5.2" fill="#2f3170"/><ellipse cx="916.8" cy="1904.8" rx="6.6" ry="5.2" fill="#2f3170"/><ellipse cx="920.3" cy="1867.0" rx="6.6" ry="5.2" fill="#2f3170"/><ellipse cx="918.5" cy="1914.7" rx="6.6" ry="5.2" fill="#2f3170"/><ellipse cx="914.5" cy="1895.7" rx="6.6" ry="5.2" fill="#2f3170"/><ellipse cx="925.2" cy="1871.3" rx="6.6" ry="5.2" fill="#2f3170"/><ellipse cx="920.8" cy="1985.6" rx="6.6" ry="5.2" fill="#2f3170"/><ellipse cx="915.1" cy="1885.8" rx="6.6" ry="5.2" fill="#2f3170"/><ellipse cx="917.4" cy="1885.1" rx="6.6" ry="5.2" fill="#2f3170"/><ellipse cx="916.9" cy="1875.2" rx="6.6" ry="5.2" fill="#2f3170"/><ellipse cx="915.7" cy="1898.5" rx="6.6" ry="5.2" fill="#2f3170"/><ellipse cx="919.4" cy="1970.6" rx="6.6" ry="5.2" fill="#2f3170"/><ellipse cx="918.0" cy="1941.8" rx="6.6" ry="5.2" fill="#2f3170"/><ellipse cx="924.0" cy="1952.2" rx="6.6" ry="5.2" fill="#2f3170"/><ellipse cx="914.0" cy="1915.3" rx="6.6" ry="5.2" fill="#2f3170"/><ellipse cx="918.3" cy="1943.0" rx="6.6" ry="5.2" fill="#2f3170"/><ellipse cx="914.6" cy="1990.9" rx="6.6" ry="5.2" fill="#2f3170"/><ellipse cx="913.2" cy="2005.6" rx="6.6" ry="5.2" fill="#2f3170"/><ellipse cx="919.2" cy="1952.8" rx="6.6" ry="5.2" fill="#2f3170"/><ellipse cx="925.4" cy="1916.5" rx="6.6" ry="5.2" fill="#2f3170"/><ellipse cx="915.3" cy="1978.3" rx="6.6" ry="5.2" fill="#2f3170"/><ellipse cx="921.6" cy="1945.2" rx="6.6" ry="5.2" fill="#2f3170"/><ellipse cx="914.2" cy="1871.4" rx="6.6" ry="5.2" fill="#2f3170"/><ellipse cx="923.2" cy="1962.3" rx="6.6" ry="5.2" fill="#2f3170"/><ellipse cx="918.9" cy="1940.0" rx="6.6" ry="5.2" fill="#2f3170"/><ellipse cx="916.6" cy="1947.1" rx="6.6" ry="5.2" fill="#2f3170"/><ellipse cx="926.5" cy="2006.2" rx="6.6" ry="5.2" fill="#2f3170"/><ellipse cx="913.3" cy="1943.1" rx="6.6" ry="5.2" fill="#2f3170"/><ellipse cx="924.2" cy="1929.5" rx="6.6" ry="5.2" fill="#2f3170"/><ellipse cx="914.5" cy="1918.0" rx="6.6" ry="5.2" fill="#2f3170"/><ellipse cx="923.0" cy="1895.6" rx="6.6" ry="5.2" fill="#2f3170"/><ellipse cx="917.0" cy="1965.5" rx="6.6" ry="5.2" fill="#2f3170"/><ellipse cx="923.6" cy="1965.8" rx="6.6" ry="5.2" fill="#2f3170"/><ellipse cx="924.6" cy="2020.6" rx="6.6" ry="5.2" fill="#2f3170"/><ellipse cx="924.3" cy="1935.4" rx="6.6" ry="5.2" fill="#2f3170"/><ellipse cx="925.2" cy="2014.1" rx="6.6" ry="5.2" fill="#2f3170"/><ellipse cx="921.2" cy="1986.1" rx="6.6" ry="5.2" fill="#2f3170"/><ellipse cx="924.9" cy="1947.8" rx="6.6" ry="5.2" fill="#2f3170"/><ellipse cx="923.1" cy="1966.0" rx="6.6" ry="5.2" fill="#2f3170"/><ellipse cx="914.3" cy="1902.5" rx="6.6" ry="5.2" fill="#2f3170"/><ellipse cx="921.2" cy="1909.3" rx="6.6" ry="5.2" fill="#2f3170"/><ellipse cx="915.8" cy="1957.7" rx="6.6" ry="5.2" fill="#2f3170"/><ellipse cx="926.3" cy="1896.2" rx="6.6" ry="5.2" fill="#2f3170"/>
<line x1="212" y1="1947" x2="1123" y2="1947" stroke="#2f7dbb" stroke-width="4.5" stroke-dasharray="25 14"/>
<polyline points="224.4,1854.0 241.7,1854.9 260.6,1860.2 273.2,1860.2 279.5,1846.0 292.1,1839.8 301.6,1838.2 314.2,1841.3 323.6,1847.6 336.2,1849.2 348.9,1858.7 358.3,1865.0 367.8,1863.4 377.2,1852.4 386.7,1846.0 402.4,1847.6 418.2,1849.2 434.0,1855.5 443.4,1855.5 449.7,1849.2 465.5,1846.0 481.2,1847.6 493.8,1849.2 503.3,1855.5 515.9,1841.3 525.3,1842.9 538.0,1846.0 550.6,1849.2 560.0,1839.8 564.7,1828.7 572.6,1861.8 578.9,1842.9 588.4,1844.5 597.8,1852.4 607.3,1852.4 616.7,1858.7 619.9,1853.3 625.5,1839.1 645.4,1839.1 653.9,1859.0 670.9,1856.1 713.4,1855.6 770.2,1853.9 826.9,1854.7 883.6,1856.1 897.8,1853.3 912.0,1859.0" fill="none" stroke="#f29a38" stroke-width="2.2" stroke-linejoin="round" /><polyline points="224.4,2040.0 241.7,2039.1 260.6,2033.8 273.2,2033.8 279.5,2048.0 292.1,2054.2 301.6,2055.8 314.2,2052.7 323.6,2046.4 336.2,2044.8 348.9,2035.3 358.3,2029.0 367.8,2030.6 377.2,2041.6 386.7,2048.0 402.4,2046.4 418.2,2044.8 434.0,2038.5 443.4,2038.5 449.7,2044.8 465.5,2048.0 481.2,2046.4 493.8,2044.8 503.3,2038.5 515.9,2052.7 525.3,2051.1 538.0,2048.0 550.6,2044.8 560.0,2054.2 564.7,2065.3 572.6,2032.2 578.9,2051.1 588.4,2049.5 597.8,2041.6 607.3,2041.6 616.7,2035.3 619.9,2040.7 625.5,2054.9 645.4,2054.9 653.9,2035.0 670.9,2037.9 713.4,2038.4 770.2,2040.1 826.9,2039.3 883.6,2037.9 897.8,2040.7 912.0,2035.0" fill="none" stroke="#f29a38" stroke-width="2.2" stroke-linejoin="round" /><polyline points="224.4,1876.0 241.7,1876.9 260.6,1882.2 273.2,1882.2 279.5,1868.0 292.1,1861.8 301.6,1860.2 314.2,1863.3 323.6,1869.6 336.2,1871.2 348.9,1880.7 358.3,1887.0 367.8,1885.4 377.2,1874.4 386.7,1868.0 402.4,1869.6 418.2,1871.2 434.0,1877.5 443.4,1877.5 449.7,1871.2 465.5,1868.0 481.2,1869.6 493.8,1871.2 503.3,1877.5 515.9,1863.3 525.3,1864.9 538.0,1868.0 550.6,1871.2 560.0,1861.8 564.7,1850.7 572.6,1883.8 578.9,1864.9 588.4,1866.5 597.8,1874.4 607.3,1874.4 616.7,1880.7 619.9,1875.3 625.5,1861.1 645.4,1861.1 653.9,1881.0 670.9,1878.1 713.4,1877.6 770.2,1875.9 826.9,1876.7 883.6,1878.1 897.8,1875.3 912.0,1881.0" fill="none" stroke="#5fba46" stroke-width="2.2" stroke-linejoin="round" /><polyline points="224.4,2018.0 241.7,2017.1 260.6,2011.8 273.2,2011.8 279.5,2026.0 292.1,2032.2 301.6,2033.8 314.2,2030.7 323.6,2024.4 336.2,2022.8 348.9,2013.3 358.3,2007.0 367.8,2008.6 377.2,2019.6 386.7,2026.0 402.4,2024.4 418.2,2022.8 434.0,2016.5 443.4,2016.5 449.7,2022.8 465.5,2026.0 481.2,2024.4 493.8,2022.8 503.3,2016.5 515.9,2030.7 525.3,2029.1 538.0,2026.0 550.6,2022.8 560.0,2032.2 564.7,2043.3 572.6,2010.2 578.9,2029.1 588.4,2027.5 597.8,2019.6 607.3,2019.6 616.7,2013.3 619.9,2018.7 625.5,2032.9 645.4,2032.9 653.9,2013.0 670.9,2015.9 713.4,2016.4 770.2,2018.1 826.9,2017.3 883.6,2015.9 897.8,2018.7 912.0,2013.0" fill="none" stroke="#5fba46" stroke-width="2.2" stroke-linejoin="round" />
<polyline points="222.2,1855.5 229.1,1890.2 238.5,1899.6 246.4,1953.2 254.3,1978.4 262.2,1992.6 266.9,1965.8 279.5,1961.1 292.1,1961.1 301.6,1937.5 311.0,1929.6 320.5,1929.6 326.8,1940.6 336.2,1972.1 347.3,1998.9 355.2,1987.9 367.8,1946.9 377.2,1924.8 386.7,1937.5 396.1,1953.2 405.6,1945.3 415.0,1937.5 422.9,1928.0 429.2,1972.1 440.3,1969.0 446.6,1946.9 449.7,1959.5 462.3,1961.1 473.3,1970.5 481.2,1969.0 493.8,1981.6 503.3,1962.7 512.7,1961.1 514.3,1905.9 525.3,1909.1 534.8,1921.7 541.1,1937.5 550.6,1935.9 560.0,1912.2 564.7,1940.6 571.0,1945.3 574.2,1924.8 582.1,1934.3 588.4,1940.6 594.7,1937.5 607.3,1934.3 613.6,1946.9 619.9,1934.3 622.7,1931.3 645.4,1931.3 656.7,1951.1 665.2,1939.8 673.7,1952.6 699.3,1954.0 719.1,1958.2 741.8,1958.2 761.7,1959.6 787.2,1969.6 815.5,1966.7 855.2,1966.7 877.9,1968.2 889.3,1972.4 897.8,1976.7 903.5,1969.6 909.1,1961.1 912.0,1955.4" fill="none" stroke="#e2302b" stroke-width="2.2" stroke-linejoin="round" />
<rect x="212" y="1746" width="911" height="404" fill="none" stroke="#000" stroke-width="3.2"/>
<line x1="200.5" y1="1755.0" x2="212" y2="1755.0" stroke="#000" stroke-width="3"/>
<text x="0" y="0" font-size="100" font-weight="normal" font-style="normal" fill="#222222" transform="translate(140.30 1764.63) scale(0.37700 0.34300)" >1.0</text>
<line x1="200.5" y1="1851.0" x2="212" y2="1851.0" stroke="#000" stroke-width="3"/>
<text x="0" y="0" font-size="100" font-weight="normal" font-style="normal" fill="#222222" transform="translate(140.30 1860.63) scale(0.37700 0.34300)" >0.5</text>
<line x1="200.5" y1="1947.0" x2="212" y2="1947.0" stroke="#000" stroke-width="3"/>
<text x="0" y="0" font-size="100" font-weight="normal" font-style="normal" fill="#222222" transform="translate(140.30 1956.63) scale(0.37700 0.34300)" >0.0</text>
<line x1="200.5" y1="2043.0" x2="212" y2="2043.0" stroke="#000" stroke-width="3"/>
<text x="0" y="0" font-size="100" font-weight="normal" font-style="normal" fill="#222222" transform="translate(127.86 2052.63) scale(0.37700 0.34300)" >-0.5</text>
<line x1="200.5" y1="2139.0" x2="212" y2="2139.0" stroke="#000" stroke-width="3"/>
<text x="0" y="0" font-size="100" font-weight="normal" font-style="normal" fill="#222222" transform="translate(127.86 2148.63) scale(0.37700 0.34300)" >-1.0</text>
<line x1="212.7" y1="2150" x2="212.7" y2="2157.5" stroke="#000" stroke-width="3"/>
<text x="0" y="0" font-size="100" font-weight="normal" font-style="normal" fill="#222222" transform="translate(204.14 2192.41) scale(0.37700 0.34300)" >0</text>
<line x1="390.8" y1="2150" x2="390.8" y2="2157.5" stroke="#000" stroke-width="3"/>
<text x="0" y="0" font-size="100" font-weight="normal" font-style="normal" fill="#222222" transform="translate(371.73 2192.41) scale(0.37700 0.34300)" >20</text>
<line x1="569.0" y1="2150" x2="569.0" y2="2157.5" stroke="#000" stroke-width="3"/>
<text x="0" y="0" font-size="100" font-weight="normal" font-style="normal" fill="#222222" transform="translate(550.43 2192.41) scale(0.37700 0.34300)" >40</text>
<line x1="747.1" y1="2150" x2="747.1" y2="2157.5" stroke="#000" stroke-width="3"/>
<text x="0" y="0" font-size="100" font-weight="normal" font-style="normal" fill="#222222" transform="translate(728.01 2192.41) scale(0.37700 0.34300)" >60</text>
<line x1="925.3" y1="2150" x2="925.3" y2="2157.5" stroke="#000" stroke-width="3"/>
<text x="0" y="0" font-size="100" font-weight="normal" font-style="normal" fill="#222222" transform="translate(906.34 2192.41) scale(0.37700 0.34300)" >80</text>
<line x1="1103.4" y1="2150" x2="1103.4" y2="2157.5" stroke="#000" stroke-width="3"/>
<text x="0" y="0" font-size="100" font-weight="normal" font-style="normal" fill="#222222" transform="translate(1073.17 2192.41) scale(0.37700 0.34300)" >100</text>
<text x="0" y="0" font-size="100" font-weight="normal" font-style="normal" fill="#262626" transform="translate(469.53 2229.49) scale(0.38537 0.40532)" ><tspan font-style="italic">Arahy</tspan>.07 map length (Mb)</text>
<text x="0" y="0" font-size="100" font-weight="normal" font-style="normal" fill="#3a3a3a" transform="translate(109.57 2078.60) rotate(-90) scale(0.26674 0.33936)" >&#916;SNP-index (Sb-Bb)</text>
<rect x="222" y="681" width="12" height="1470" fill="rgba(236,96,108,0.45)"/>
<text x="0" y="0" font-size="100" font-weight="normal" font-style="normal" fill="#000" transform="translate(1194.50 674.27) scale(0.58273 0.56809)" >(d)</text>
<rect x="1353.6" y="893.5" width="691.9" height="16.3" fill="#fff" stroke="#1a1a1a" stroke-width="2.8"/>
<text x="0" y="0" font-size="100" font-weight="normal" font-style="normal" fill="#2b2b2b" transform="translate(1274.95 909.16) scale(0.24200 0.24260)" >A(F2)</text>
<text x="0" y="0" font-size="100" font-weight="normal" font-style="normal" fill="#2b2b2b" transform="translate(2051.10 906.69) scale(0.24240 0.26200)" >n=263</text>
<rect x="1353.6" y="930.5" width="691.9" height="17.0" fill="#fff" stroke="#1a1a1a" stroke-width="2.8"/>
<rect x="1353.6" y="930.5" width="691.9" height="17.0" fill="#a39c99"/>
<text x="0" y="0" font-size="100" font-weight="normal" font-style="normal" fill="#2b2b2b" transform="translate(1274.95 946.51) scale(0.24200 0.24260)" >B(F2)</text>
<text x="0" y="0" font-size="100" font-weight="normal" font-style="normal" fill="#2b2b2b" transform="translate(2051.10 945.54) scale(0.24240 0.26200)" >n=252</text>
<rect x="1353.6" y="968.5" width="691.9" height="16.9" fill="#fff" stroke="#1a1a1a" stroke-width="2.8"/>
<rect x="1353.6" y="968.5" width="691.9" height="16.9" fill="#141414"/>
<text x="0" y="0" font-size="100" font-weight="normal" font-style="normal" fill="#2b2b2b" transform="translate(1273.74 984.46) scale(0.24200 0.24260)" >H(F2)</text>
<text x="0" y="0" font-size="100" font-weight="normal" font-style="normal" fill="#2b2b2b" transform="translate(2051.10 983.49) scale(0.24240 0.26200)" >n=450</text>
<rect x="1353.6" y="1006.5" width="691.9" height="16.0" fill="#fff" stroke="#1a1a1a" stroke-width="2.8"/>
<rect x="1954.0" y="1006.5" width="91.5" height="16.0" fill="#a39c99"/>
<text x="0" y="0" font-size="100" font-weight="normal" font-style="normal" fill="#2b2b2b" transform="translate(1273.74 1022.01) scale(0.24200 0.24260)" >C(F2)</text>
<text x="0" y="0" font-size="100" font-weight="normal" font-style="normal" fill="#2b2b2b" transform="translate(2057.20 1021.04) scale(0.24240 0.26200)" >n=1</text>
<rect x="1353.6" y="1046.3" width="691.9" height="15.6" fill="#fff" stroke="#1a1a1a" stroke-width="2.8"/>
<rect x="1954.0" y="1046.3" width="91.5" height="15.6" fill="#141414"/>
<text x="0" y="0" font-size="100" font-weight="normal" font-style="normal" fill="#2b2b2b" transform="translate(1273.74 1061.61) scale(0.24200 0.24260)" >D(F2)</text>
<text x="0" y="0" font-size="100" font-weight="normal" font-style="normal" fill="#2b2b2b" transform="translate(2057.20 1060.64) scale(0.24240 0.26200)" >n=3</text>
<rect x="1353.6" y="1084.6" width="691.9" height="15.7" fill="#fff" stroke="#1a1a1a" stroke-width="2.8"/>
<rect x="1839.0" y="1084.6" width="206.5" height="15.7" fill="#141414"/>
<text x="0" y="0" font-size="100" font-weight="normal" font-style="normal" fill="#2b2b2b" transform="translate(1274.95 1099.96) scale(0.24200 0.24260)" >E(F2)</text>
<text x="0" y="0" font-size="100" font-weight="normal" font-style="normal" fill="#2b2b2b" transform="translate(2057.20 1098.99) scale(0.24240 0.26200)" >n=3</text>
<rect x="1353.6" y="1122.7" width="691.9" height="15.7" fill="#fff" stroke="#1a1a1a" stroke-width="2.8"/>
<rect x="1607.7" y="1122.7" width="437.8" height="15.7" fill="#141414"/>
<text x="0" y="0" font-size="100" font-weight="normal" font-style="normal" fill="#2b2b2b" transform="translate(1276.40 1138.06) scale(0.24200 0.24260)" >F(F2)</text>
<text x="0" y="0" font-size="100" font-weight="normal" font-style="normal" fill="#2b2b2b" transform="translate(2057.20 1137.09) scale(0.24240 0.26200)" >n=4</text>
<rect x="1353.6" y="1154.5" width="691.9" height="15.6" fill="#fff" stroke="#1a1a1a" stroke-width="2.8"/>
<rect x="1444.0" y="1154.5" width="601.5" height="15.6" fill="#141414"/>
<text x="0" y="0" font-size="100" font-weight="normal" font-style="normal" fill="#2b2b2b" transform="translate(1272.29 1169.81) scale(0.24200 0.24260)" >G(F2)</text>
<text x="0" y="0" font-size="100" font-weight="normal" font-style="normal" fill="#2b2b2b" transform="translate(2057.20 1168.84) scale(0.24240 0.26200)" >n=3</text>
<rect x="1353.6" y="1187.7" width="691.9" height="15.4" fill="#fff" stroke="#1a1a1a" stroke-width="2.8"/>
<rect x="1353.6" y="1187.7" width="64.9" height="15.4" fill="#141414"/>
<text x="0" y="0" font-size="100" font-weight="normal" font-style="normal" fill="#2b2b2b" transform="translate(1284.39 1202.91) scale(0.24200 0.24260)" >I(F2)</text>
<text x="0" y="0" font-size="100" font-weight="normal" font-style="normal" fill="#2b2b2b" transform="translate(2057.20 1202.07) scale(0.24240 0.26200)" >n=2</text>
<rect x="1353.6" y="1226.1" width="691.9" height="15.6" fill="#fff" stroke="#1a1a1a" stroke-width="2.8"/>
<rect x="1353.6" y="1226.1" width="361.4" height="15.6" fill="#141414"/>
<text x="0" y="0" font-size="100" font-weight="normal" font-style="normal" fill="#2b2b2b" transform="translate(1279.07 1241.41) scale(0.24200 0.24260)" >J(F2)</text>
<text x="0" y="0" font-size="100" font-weight="normal" font-style="normal" fill="#2b2b2b" transform="translate(2057.20 1240.44) scale(0.24240 0.26200)" >n=3</text>
<rect x="1353.6" y="1264.2" width="691.9" height="15.3" fill="#fff" stroke="#1a1a1a" stroke-width="2.8"/>
<rect x="1353.6" y="1264.2" width="264.8" height="15.3" fill="#141414"/>
<text x="0" y="0" font-size="100" font-weight="normal" font-style="normal" fill="#2b2b2b" transform="translate(1274.95 1279.36) scale(0.24200 0.24260)" >K(F2)</text>
<text x="0" y="0" font-size="100" font-weight="normal" font-style="normal" fill="#2b2b2b" transform="translate(2057.20 1278.39) scale(0.24240 0.26200)" >n=6</text>
<rect x="1353.6" y="1300.5" width="691.9" height="15.3" fill="#fff" stroke="#1a1a1a" stroke-width="2.8"/>
<rect x="1353.6" y="1300.5" width="423.7" height="15.3" fill="#141414"/>
<text x="0" y="0" font-size="100" font-weight="normal" font-style="normal" fill="#2b2b2b" transform="translate(1277.61 1315.66) scale(0.24200 0.24260)" >L(F2)</text>
<text x="0" y="0" font-size="100" font-weight="normal" font-style="normal" fill="#2b2b2b" transform="translate(2057.20 1314.69) scale(0.24240 0.26200)" >n=4</text>
<rect x="1351.4" y="836.6" width="694.6" height="15.8" rx="7.9" fill="#fff" stroke="#1a1a1a" stroke-width="2.8"/>
<text x="0" y="0" font-size="100" font-weight="normal" font-style="normal" fill="#2b2b2b" transform="translate(1211.48 855.65) scale(0.24416 0.25405)" >Chr.A07</text>
<line x1="1374.1" y1="818.6" x2="1374.1" y2="1318" stroke="#1a1a1a" stroke-width="3.3" stroke-dasharray="11 12.7"/>
<text x="0" y="0" font-size="100" font-weight="normal" font-style="normal" fill="#2b2b2b" transform="translate(1381.08 815.30) rotate(-90) scale(0.23900 0.26600)" >S7-19</text>
<line x1="1401.5" y1="818.6" x2="1401.5" y2="1318" stroke="#1a1a1a" stroke-width="3.3" stroke-dasharray="11 12.7"/>
<text x="0" y="0" font-size="100" font-weight="normal" font-style="normal" fill="#2b2b2b" transform="translate(1408.48 815.30) rotate(-90) scale(0.23900 0.26600)" >S7-22</text>
<line x1="1460.6" y1="818.6" x2="1460.6" y2="1318" stroke="#1a1a1a" stroke-width="3.3" stroke-dasharray="11 12.7"/>
<text x="0" y="0" font-size="100" font-weight="normal" font-style="normal" fill="#2b2b2b" transform="translate(1467.58 815.30) rotate(-90) scale(0.23900 0.26600)" >S7-38</text>
<line x1="1508.3" y1="818.6" x2="1508.3" y2="1318" stroke="#1a1a1a" stroke-width="3.3" stroke-dasharray="11 12.7"/>
<text x="0" y="0" font-size="100" font-weight="normal" font-style="normal" fill="#2b2b2b" transform="translate(1515.28 815.30) rotate(-90) scale(0.23900 0.26600)" >S7-77</text>
<line x1="1637.2" y1="818.6" x2="1637.2" y2="1318" stroke="#1a1a1a" stroke-width="3.3" stroke-dasharray="11 12.7"/>
<text x="0" y="0" font-size="100" font-weight="normal" font-style="normal" fill="#2b2b2b" transform="translate(1644.18 815.30) rotate(-90) scale(0.23900 0.26600)" >S7-90</text>
<line x1="1672.9" y1="818.6" x2="1672.9" y2="1318" stroke="#1a1a1a" stroke-width="3.3" stroke-dasharray="11 12.7"/>
<text x="0" y="0" font-size="100" font-weight="normal" font-style="normal" fill="#2b2b2b" transform="translate(1679.88 815.30) rotate(-90) scale(0.23900 0.26600)" >S7-102</text>
<line x1="1758.6" y1="818.4" x2="1758.6" y2="1344.5" stroke="#1a1a1a" stroke-width="2.4"/>
<text x="0" y="0" font-size="100" font-weight="normal" font-style="normal" fill="#2b2b2b" transform="translate(1765.58 815.30) rotate(-90) scale(0.23900 0.26600)" >S7-111</text>
<line x1="1850.4" y1="818.4" x2="1850.4" y2="1344.5" stroke="#1a1a1a" stroke-width="2.4"/>
<text x="0" y="0" font-size="100" font-weight="normal" font-style="normal" fill="#2b2b2b" transform="translate(1857.38 815.30) rotate(-90) scale(0.23900 0.26600)" >S7-126</text>
<line x1="1981" y1="818.6" x2="1981" y2="1318" stroke="#1a1a1a" stroke-width="3.3" stroke-dasharray="11 12.7"/>
<text x="0" y="0" font-size="100" font-weight="normal" font-style="normal" fill="#2b2b2b" transform="translate(1987.98 815.30) rotate(-90) scale(0.23900 0.26600)" >S7-130</text>
<line x1="2029.4" y1="818.6" x2="2029.4" y2="1318" stroke="#1a1a1a" stroke-width="3.3" stroke-dasharray="11 12.7"/>
<text x="0" y="0" font-size="100" font-weight="normal" font-style="normal" fill="#2b2b2b" transform="translate(2036.38 815.30) rotate(-90) scale(0.23900 0.26600)" >S7-132</text>
<text x="0" y="0" font-size="100" font-weight="normal" font-style="normal" fill="#2b2b2b" transform="translate(1762.05 1344.26) scale(0.23736 0.24189)" >53.25kb</text>
<line x1="1761" y1="1349.7" x2="1849" y2="1349.7" stroke="#1a1a1a" stroke-width="2.6"/>
<circle cx="1761" cy="1349.7" r="2.2" fill="#1a1a1a"/><circle cx="1849" cy="1349.7" r="2.2" fill="#1a1a1a"/>
<line x1="1444.7" y1="1460.8" x2="1747" y2="1353.6" stroke="#1a1a1a" stroke-width="2.6"/>
<line x1="1870.3" y1="1352.3" x2="2028.2" y2="1451.2" stroke="#1a1a1a" stroke-width="2.6"/>
<text x="0" y="0" font-size="100" font-weight="normal" font-style="normal" fill="#2b2b2b" transform="translate(1435.51 1521.63) rotate(-90) scale(0.24631 0.28732)" >S7-111</text>
<text x="0" y="0" font-size="100" font-weight="bold" font-style="normal" fill="#c0261e" transform="translate(1592.20 1507.36) rotate(-90) scale(0.25258 0.29577)" >S7-113</text>
<text x="0" y="0" font-size="100" font-weight="bold" font-style="normal" fill="#c0261e" transform="translate(1818.50 1509.84) rotate(-90) scale(0.24667 0.30000)" >S7-120</text>
<text x="0" y="0" font-size="100" font-weight="normal" font-style="normal" fill="#2b2b2b" transform="translate(2053.81 1521.00) rotate(-90) scale(0.24089 0.28873)" >S7-126</text>
<rect x="1381.8" y="1549.6" width="705.0" height="15.6" fill="#fff" stroke="#1a1a1a" stroke-width="2.8"/>
<text x="0" y="0" font-size="100" font-weight="normal" font-style="normal" fill="#2b2b2b" transform="translate(2100.26 1565.43) scale(0.24800 0.25800)" >n=22</text>
<rect x="1381.8" y="1584.9" width="705.0" height="15.1" fill="#fff" stroke="#1a1a1a" stroke-width="2.8"/>
<rect x="2006.0" y="1584.9" width="80.8" height="15.1" fill="#a39c99"/>
<text x="0" y="0" font-size="100" font-weight="normal" font-style="normal" fill="#2b2b2b" transform="translate(2100.26 1597.90) scale(0.24800 0.25800)" >n=18</text>
<rect x="1381.8" y="1617.7" width="705.0" height="14.5" fill="#fff" stroke="#1a1a1a" stroke-width="2.8"/>
<rect x="2006.0" y="1617.7" width="80.8" height="14.5" fill="#141414"/>
<text x="0" y="0" font-size="100" font-weight="normal" font-style="normal" fill="#2b2b2b" transform="translate(2100.26 1631.70) scale(0.24800 0.25800)" >n=35</text>
<line x1="1360" y1="1550" x2="1360" y2="1630.7" stroke="#a01e14" stroke-width="5.5"/>
<path d="M1360,1542 l-7.2,10.5 h14.4 z M1360,1638.7 l-7.2,-10.5 h14.4 z" fill="#a01e14"/>
<text x="0" y="0" font-size="100" font-weight="normal" font-style="normal" fill="#2b2b2b" transform="translate(1272.08 1602.50) scale(0.24900 0.25400)" >E(F2:3)</text>
<rect x="1379.4" y="1692.4" width="709.2" height="15.7" fill="#fff" stroke="#1a1a1a" stroke-width="2.8"/>
<text x="0" y="0" font-size="100" font-weight="normal" font-style="normal" fill="#2b2b2b" transform="translate(2104.16 1706.90) scale(0.24800 0.25800)" >n=11</text>
<rect x="1379.4" y="1725.8" width="709.2" height="15.2" fill="#fff" stroke="#1a1a1a" stroke-width="2.8"/>
<rect x="1379.4" y="1725.8" width="709.2" height="15.2" fill="#a39c99"/>
<text x="0" y="0" font-size="100" font-weight="normal" font-style="normal" fill="#2b2b2b" transform="translate(2104.16 1740.30) scale(0.24800 0.25800)" >n=13</text>
<rect x="1378.8" y="1759.9" width="711.2" height="13.7" fill="#141414"/>
<text x="0" y="0" font-size="100" font-weight="normal" font-style="normal" fill="#2b2b2b" transform="translate(2104.16 1774.70) scale(0.24800 0.25800)" >n=19</text>
<line x1="1360" y1="1693.3" x2="1360" y2="1772.7" stroke="#a01e14" stroke-width="5.5"/>
<path d="M1360,1685.3 l-7.2,10.5 h14.4 z M1360,1780.7 l-7.2,-10.5 h14.4 z" fill="#a01e14"/>
<text x="0" y="0" font-size="100" font-weight="normal" font-style="normal" fill="#2b2b2b" transform="translate(1273.32 1748.50) scale(0.24900 0.25400)" >F(F2:3)</text>
<rect x="1379.4" y="1833.3" width="709.2" height="16.4" fill="#fff" stroke="#1a1a1a" stroke-width="2.8"/>
<text x="0" y="0" font-size="100" font-weight="normal" font-style="normal" fill="#2b2b2b" transform="translate(2104.16 1845.73) scale(0.24800 0.25800)" >n=12</text>
<rect x="1379.4" y="1866.4" width="709.2" height="15.3" fill="#fff" stroke="#1a1a1a" stroke-width="2.8"/>
<rect x="1379.4" y="1866.4" width="709.2" height="15.3" fill="#a39c99"/>
<text x="0" y="0" font-size="100" font-weight="normal" font-style="normal" fill="#2b2b2b" transform="translate(2104.16 1878.50) scale(0.24800 0.25800)" >n=16</text>
<rect x="1378.8" y="1900.5" width="711.2" height="14.3" fill="#141414"/>
<text x="0" y="0" font-size="100" font-weight="normal" font-style="normal" fill="#2b2b2b" transform="translate(2104.16 1913.40) scale(0.24800 0.25800)" >n=30</text>
<line x1="1360" y1="1833.6" x2="1360" y2="1914.3" stroke="#a01e14" stroke-width="5.5"/>
<path d="M1360,1825.6 l-7.2,10.5 h14.4 z M1360,1922.3 l-7.2,-10.5 h14.4 z" fill="#a01e14"/>
<text x="0" y="0" font-size="100" font-weight="normal" font-style="normal" fill="#2b2b2b" transform="translate(1276.06 1883.60) scale(0.24900 0.25400)" >J(F2:3)</text>
<rect x="1376.9" y="1972.9" width="709.2" height="16.1" fill="#fff" stroke="#1a1a1a" stroke-width="2.8"/>
<text x="0" y="0" font-size="100" font-weight="normal" font-style="normal" fill="#2b2b2b" transform="translate(2105.16 1987.33) scale(0.24800 0.25800)" >n=22</text>
<rect x="1376.9" y="2006.1" width="709.2" height="15.2" fill="#fff" stroke="#1a1a1a" stroke-width="2.8"/>
<rect x="1376.9" y="2006.1" width="297.8" height="15.2" fill="#a39c99"/>
<text x="0" y="0" font-size="100" font-weight="normal" font-style="normal" fill="#2b2b2b" transform="translate(2105.16 2019.20) scale(0.24800 0.25800)" >n=20</text>
<rect x="1376.9" y="2039.6" width="709.2" height="15.7" fill="#fff" stroke="#1a1a1a" stroke-width="2.8"/>
<rect x="1376.9" y="2039.6" width="297.8" height="15.7" fill="#141414"/>
<text x="0" y="0" font-size="100" font-weight="normal" font-style="normal" fill="#2b2b2b" transform="translate(2105.16 2054.10) scale(0.24800 0.25800)" >n=31</text>
<line x1="1360" y1="1973.5" x2="1360" y2="2054.4" stroke="#a01e14" stroke-width="5.5"/>
<path d="M1360,1965.5 l-7.2,10.5 h14.4 z M1360,2062.4 l-7.2,-10.5 h14.4 z" fill="#a01e14"/>
<text x="0" y="0" font-size="100" font-weight="normal" font-style="normal" fill="#2b2b2b" transform="translate(1274.82 2022.60) scale(0.24900 0.25400)" >L(F2:3)</text>
<line x1="1428.1" y1="1525.3" x2="1428.1" y2="2091" stroke="#1a1a1a" stroke-width="3.3" stroke-dasharray="11 13.3"/>
<line x1="1584.2" y1="1514.3" x2="1584.2" y2="2089" stroke="#1a1a1a" stroke-width="2.4"/>
<line x1="1808.2" y1="1512.1" x2="1808.2" y2="2091" stroke="#1a1a1a" stroke-width="3.3" stroke-dasharray="11 13.3"/>
<line x1="2045.8" y1="1526.6" x2="2045.8" y2="2089" stroke="#1a1a1a" stroke-width="2.4"/>
<line x1="1592" y1="2101" x2="2048" y2="2101" stroke="#1a1a1a" stroke-width="2.6"/>
<path d="M1587.1,2101 l10,-4.2 v8.4 z M2053.2,2101 l-10,-4.2 v8.4 z" fill="#1a1a1a"/>
<text x="0" y="0" font-size="100" font-weight="normal" font-style="normal" fill="#2b2b2b" transform="translate(1764.62 2129.65) scale(0.24533 0.24865)" >36.46Kb</text></svg></body></html>
